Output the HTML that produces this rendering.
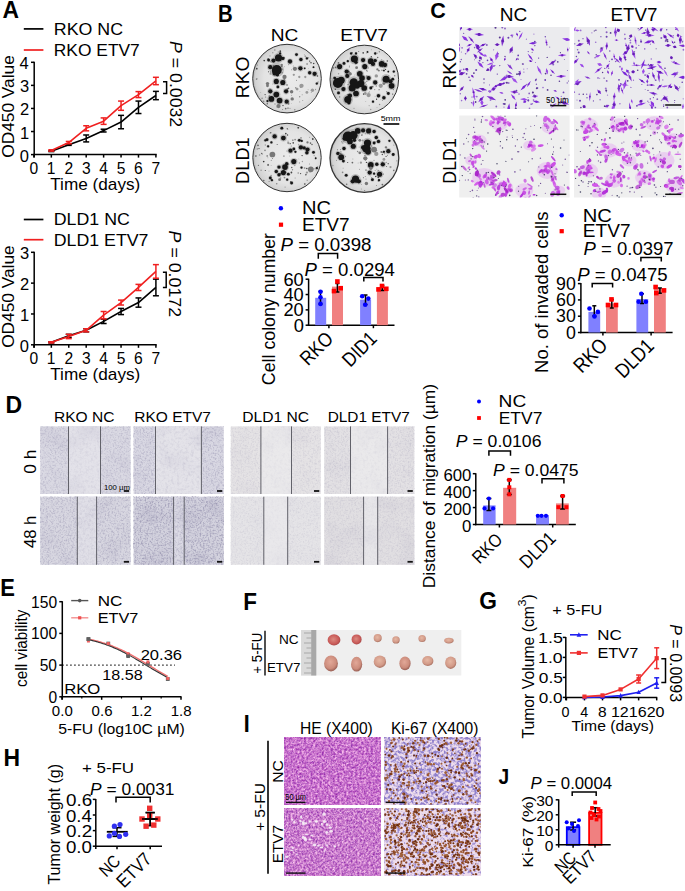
<!DOCTYPE html>
<html><head><meta charset="utf-8"><style>
html,body{margin:0;padding:0;background:#fff;}
svg{display:block;}
text{font-family:"Liberation Sans",sans-serif;}
</style></head><body>
<svg width="685" height="891" viewBox="0 0 685 891" font-family="Liberation Sans, sans-serif">
<defs><filter id="spk" x="0" y="0" width="1" height="1" color-interpolation-filters="sRGB"><feTurbulence type="fractalNoise" baseFrequency="0.6" numOctaves="2" seed="3"/><feColorMatrix type="matrix" values="0 0 0 0 0.431 0 0 0 0 0.412 0 0 0 0 0.569 -3.0 0 0 0 1.6"/></filter><filter id="spk2" x="0" y="0" width="1" height="1" color-interpolation-filters="sRGB"><feTurbulence type="fractalNoise" baseFrequency="0.35" numOctaves="2" seed="7"/><feColorMatrix type="matrix" values="0 0 0 0 0.471 0 0 0 0 0.451 0 0 0 0 0.588 0 -2.2 0 0 1.15"/></filter><filter id="blot" x="0" y="0" width="1" height="1" color-interpolation-filters="sRGB"><feTurbulence type="fractalNoise" baseFrequency="0.04" numOctaves="2" seed="11"/><feColorMatrix type="matrix" values="0 0 0 0 0.588 0 0 0 0 0.569 0 0 0 0 0.686 0 0 -2.0 0 1.05"/></filter><radialGradient id="plateg" cx="0.55" cy="0.5" r="0.55"><stop offset="0" stop-color="#ebebeb"/><stop offset="0.7" stop-color="#e3e3e3"/><stop offset="0.93" stop-color="#d2d2d2"/><stop offset="1" stop-color="#b0b0b0"/></radialGradient><filter id="blur06" x="-0.5" y="-0.5" width="2" height="2"><feGaussianBlur stdDeviation="0.45"/></filter><radialGradient id="tumR" cx="0.45" cy="0.45" r="0.6"><stop offset="0" stop-color="#dc8a80"/><stop offset="0.7" stop-color="#c85a58"/><stop offset="1" stop-color="#a04444"/></radialGradient><radialGradient id="tumT" cx="0.45" cy="0.4" r="0.6"><stop offset="0" stop-color="#e6b8a4"/><stop offset="0.7" stop-color="#d29a88"/><stop offset="1" stop-color="#a87060"/></radialGradient><radialGradient id="tumM" cx="0.45" cy="0.4" r="0.6"><stop offset="0" stop-color="#e2a898"/><stop offset="0.7" stop-color="#cc8c7c"/><stop offset="1" stop-color="#985e54"/></radialGradient><filter id="he" x="0" y="0" width="1" height="1" color-interpolation-filters="sRGB">
<feTurbulence type="fractalNoise" baseFrequency="0.45" numOctaves="2" seed="4" result="n"/>
<feColorMatrix in="n" type="matrix" values="0.6 0 0 0 0.50  0.9 0 0 0 0.02  0.4 0 0 0 0.61  0 0 0 0 1" result="base"/>
<feTurbulence type="fractalNoise" baseFrequency="0.8" numOctaves="1" seed="54" result="n2"/>
<feColorMatrix in="n2" type="matrix" values="0 0 0 0 0.50  0 0 0 0 0.22  0 0 0 0 0.68  3.3 0 0 0 -1.9" result="nuc"/>
<feMerge><feMergeNode in="base"/><feMergeNode in="nuc"/></feMerge>
</filter><filter id="he2" x="0" y="0" width="1" height="1" color-interpolation-filters="sRGB">
<feTurbulence type="fractalNoise" baseFrequency="0.45" numOctaves="2" seed="9" result="n"/>
<feColorMatrix in="n" type="matrix" values="0.6 0 0 0 0.50  0.9 0 0 0 0.05  0.4 0 0 0 0.61  0 0 0 0 1" result="base"/>
<feTurbulence type="fractalNoise" baseFrequency="0.8" numOctaves="1" seed="59" result="n2"/>
<feColorMatrix in="n2" type="matrix" values="0 0 0 0 0.50  0 0 0 0 0.22  0 0 0 0 0.68  3.3 0 0 0 -1.9" result="nuc"/>
<feMerge><feMergeNode in="base"/><feMergeNode in="nuc"/></feMerge>
</filter><filter id="kib1" x="0" y="0" width="1" height="1" color-interpolation-filters="sRGB">
<feFlood flood-color="#eddcec" result="bg"/>
<feTurbulence type="fractalNoise" baseFrequency="0.35" numOctaves="2" seed="31" result="n"/>
<feColorMatrix in="n" type="matrix" values="0 0 0 0 0.56 0 0 0 0 0.50 0 0 0 0 0.80 4 0 0 0 -1.62" result="blue"/>
<feMerge><feMergeNode in="bg"/><feMergeNode in="blue"/></feMerge>
</filter><filter id="kib2" x="0" y="0" width="1" height="1" color-interpolation-filters="sRGB">
<feFlood flood-color="#eddcec" result="bg"/>
<feTurbulence type="fractalNoise" baseFrequency="0.35" numOctaves="2" seed="31" result="n"/>
<feColorMatrix in="n" type="matrix" values="0 0 0 0 0.60 0 0 0 0 0.54 0 0 0 0 0.82 4 0 0 0 -1.95" result="blue"/>
<feMerge><feMergeNode in="bg"/><feMergeNode in="blue"/></feMerge>
</filter></defs>
<rect width="685" height="891" fill="#fff"/>
<rect x="40.20" y="426.40" width="90.40" height="67.60" fill="#dad9e3"/>
<rect x="68.50" y="426.40" width="32.00" height="67.60" fill="#e3e2e9"/>
<rect x="40.20" y="426.40" width="90.40" height="67.60" fill="#fff" filter="url(#blot)" opacity="0.15"/>
<rect x="40.20" y="426.40" width="28.30" height="67.60" fill="#fff" filter="url(#spk)" opacity="0.22"/>
<rect x="100.50" y="426.40" width="30.10" height="67.60" fill="#fff" filter="url(#spk)" opacity="0.22"/>
<rect x="40.20" y="426.40" width="90.40" height="67.60" fill="#fff" filter="url(#spk2)" opacity="0.132"/>
<rect x="68.50" y="426.40" width="32.00" height="67.60" fill="#fff" filter="url(#spk)" opacity="0.04"/>
<line x1="68.50" y1="426.40" x2="68.50" y2="494.00" stroke="#62626a" stroke-width="1.0" stroke-linecap="butt"/>
<line x1="100.50" y1="426.40" x2="100.50" y2="494.00" stroke="#62626a" stroke-width="1.0" stroke-linecap="butt"/>
<rect x="133.60" y="426.40" width="90.20" height="67.60" fill="#d9d8e3"/>
<rect x="155.50" y="426.40" width="45.90" height="67.60" fill="#e4e3e9"/>
<rect x="133.60" y="426.40" width="90.20" height="67.60" fill="#fff" filter="url(#blot)" opacity="0.15"/>
<rect x="133.60" y="426.40" width="21.90" height="67.60" fill="#fff" filter="url(#spk)" opacity="0.28"/>
<rect x="201.40" y="426.40" width="22.40" height="67.60" fill="#fff" filter="url(#spk)" opacity="0.28"/>
<rect x="133.60" y="426.40" width="90.20" height="67.60" fill="#fff" filter="url(#spk2)" opacity="0.168"/>
<rect x="155.50" y="426.40" width="45.90" height="67.60" fill="#fff" filter="url(#spk)" opacity="0.04"/>
<line x1="155.50" y1="426.40" x2="155.50" y2="494.00" stroke="#62626a" stroke-width="1.0" stroke-linecap="butt"/>
<line x1="201.40" y1="426.40" x2="201.40" y2="494.00" stroke="#62626a" stroke-width="1.0" stroke-linecap="butt"/>
<rect x="230.80" y="426.40" width="90.00" height="67.60" fill="#e5e3e5"/>
<rect x="260.90" y="426.40" width="30.60" height="67.60" fill="#eae9eb"/>
<rect x="230.80" y="426.40" width="90.00" height="67.60" fill="#fff" filter="url(#blot)" opacity="0.1"/>
<rect x="230.80" y="426.40" width="30.10" height="67.60" fill="#fff" filter="url(#spk)" opacity="0.12"/>
<rect x="291.50" y="426.40" width="29.30" height="67.60" fill="#fff" filter="url(#spk)" opacity="0.12"/>
<rect x="230.80" y="426.40" width="90.00" height="67.60" fill="#fff" filter="url(#spk2)" opacity="0.072"/>
<rect x="260.90" y="426.40" width="30.60" height="67.60" fill="#fff" filter="url(#spk)" opacity="0.02"/>
<line x1="260.90" y1="426.40" x2="260.90" y2="494.00" stroke="#62626a" stroke-width="1.0" stroke-linecap="butt"/>
<line x1="291.50" y1="426.40" x2="291.50" y2="494.00" stroke="#62626a" stroke-width="1.0" stroke-linecap="butt"/>
<rect x="324.20" y="426.40" width="90.10" height="67.60" fill="#e3e1e4"/>
<rect x="350.50" y="426.40" width="37.10" height="67.60" fill="#eae9eb"/>
<rect x="324.20" y="426.40" width="90.10" height="67.60" fill="#fff" filter="url(#blot)" opacity="0.12"/>
<rect x="324.20" y="426.40" width="26.30" height="67.60" fill="#fff" filter="url(#spk)" opacity="0.14"/>
<rect x="387.60" y="426.40" width="26.70" height="67.60" fill="#fff" filter="url(#spk)" opacity="0.14"/>
<rect x="324.20" y="426.40" width="90.10" height="67.60" fill="#fff" filter="url(#spk2)" opacity="0.084"/>
<rect x="350.50" y="426.40" width="37.10" height="67.60" fill="#fff" filter="url(#spk)" opacity="0.02"/>
<line x1="350.50" y1="426.40" x2="350.50" y2="494.00" stroke="#62626a" stroke-width="1.0" stroke-linecap="butt"/>
<line x1="387.60" y1="426.40" x2="387.60" y2="494.00" stroke="#62626a" stroke-width="1.0" stroke-linecap="butt"/>
<rect x="40.20" y="496.70" width="90.40" height="68.10" fill="#d8d7e1"/>
<rect x="77.30" y="496.70" width="19.30" height="68.10" fill="#e0dfe7"/>
<rect x="40.20" y="496.70" width="90.40" height="68.10" fill="#fff" filter="url(#blot)" opacity="0.2"/>
<rect x="40.20" y="496.70" width="37.10" height="68.10" fill="#fff" filter="url(#spk)" opacity="0.28"/>
<rect x="96.60" y="496.70" width="34.00" height="68.10" fill="#fff" filter="url(#spk)" opacity="0.28"/>
<rect x="40.20" y="496.70" width="90.40" height="68.10" fill="#fff" filter="url(#spk2)" opacity="0.168"/>
<rect x="77.30" y="496.70" width="19.30" height="68.10" fill="#fff" filter="url(#spk)" opacity="0.08"/>
<line x1="77.30" y1="496.70" x2="77.30" y2="564.80" stroke="#62626a" stroke-width="1.0" stroke-linecap="butt"/>
<line x1="96.60" y1="496.70" x2="96.60" y2="564.80" stroke="#62626a" stroke-width="1.0" stroke-linecap="butt"/>
<rect x="133.60" y="496.70" width="90.20" height="68.10" fill="#d3d2de"/>
<rect x="173.60" y="496.70" width="10.60" height="68.10" fill="#dcdbe5"/>
<rect x="133.60" y="496.70" width="90.20" height="68.10" fill="#fff" filter="url(#blot)" opacity="0.25"/>
<rect x="133.60" y="496.70" width="40.00" height="68.10" fill="#fff" filter="url(#spk)" opacity="0.42"/>
<rect x="184.20" y="496.70" width="39.60" height="68.10" fill="#fff" filter="url(#spk)" opacity="0.42"/>
<rect x="133.60" y="496.70" width="90.20" height="68.10" fill="#fff" filter="url(#spk2)" opacity="0.252"/>
<rect x="173.60" y="496.70" width="10.60" height="68.10" fill="#fff" filter="url(#spk)" opacity="0.25"/>
<line x1="173.60" y1="496.70" x2="173.60" y2="564.80" stroke="#62626a" stroke-width="1.0" stroke-linecap="butt"/>
<line x1="184.20" y1="496.70" x2="184.20" y2="564.80" stroke="#62626a" stroke-width="1.0" stroke-linecap="butt"/>
<rect x="230.80" y="496.70" width="90.00" height="68.10" fill="#e5e4e7"/>
<rect x="263.80" y="496.70" width="23.90" height="68.10" fill="#e9e8eb"/>
<rect x="230.80" y="496.70" width="90.00" height="68.10" fill="#fff" filter="url(#blot)" opacity="0.06"/>
<rect x="230.80" y="496.70" width="33.00" height="68.10" fill="#fff" filter="url(#spk)" opacity="0.1"/>
<rect x="287.70" y="496.70" width="33.10" height="68.10" fill="#fff" filter="url(#spk)" opacity="0.1"/>
<rect x="230.80" y="496.70" width="90.00" height="68.10" fill="#fff" filter="url(#spk2)" opacity="0.06"/>
<rect x="263.80" y="496.70" width="23.90" height="68.10" fill="#fff" filter="url(#spk)" opacity="0.02"/>
<line x1="263.80" y1="496.70" x2="263.80" y2="564.80" stroke="#62626a" stroke-width="1.0" stroke-linecap="butt"/>
<line x1="287.70" y1="496.70" x2="287.70" y2="564.80" stroke="#62626a" stroke-width="1.0" stroke-linecap="butt"/>
<rect x="324.20" y="496.70" width="90.10" height="68.10" fill="#e1dfe2"/>
<rect x="363.60" y="496.70" width="14.10" height="68.10" fill="#e7e6e9"/>
<rect x="324.20" y="496.70" width="90.10" height="68.10" fill="#fff" filter="url(#blot)" opacity="0.15"/>
<rect x="324.20" y="496.70" width="39.40" height="68.10" fill="#fff" filter="url(#spk)" opacity="0.12"/>
<rect x="377.70" y="496.70" width="36.60" height="68.10" fill="#fff" filter="url(#spk)" opacity="0.12"/>
<rect x="324.20" y="496.70" width="90.10" height="68.10" fill="#fff" filter="url(#spk2)" opacity="0.072"/>
<rect x="363.60" y="496.70" width="14.10" height="68.10" fill="#fff" filter="url(#spk)" opacity="0.04"/>
<line x1="363.60" y1="496.70" x2="363.60" y2="564.80" stroke="#62626a" stroke-width="1.0" stroke-linecap="butt"/>
<line x1="377.70" y1="496.70" x2="377.70" y2="564.80" stroke="#62626a" stroke-width="1.0" stroke-linecap="butt"/>
<text transform="translate(104.60,489.50) translate(-0.62,0) scale(0.974,1.000)" font-size="8.00">100 µm</text>
<line x1="123.80" y1="491.00" x2="129.10" y2="491.00" stroke="#111" stroke-width="1.8" stroke-linecap="butt"/>
<line x1="123.80" y1="561.80" x2="129.10" y2="561.80" stroke="#111" stroke-width="1.8" stroke-linecap="butt"/>
<line x1="217.00" y1="491.00" x2="222.30" y2="491.00" stroke="#111" stroke-width="1.8" stroke-linecap="butt"/>
<line x1="217.00" y1="561.80" x2="222.30" y2="561.80" stroke="#111" stroke-width="1.8" stroke-linecap="butt"/>
<line x1="314.00" y1="491.00" x2="319.30" y2="491.00" stroke="#111" stroke-width="1.8" stroke-linecap="butt"/>
<line x1="314.00" y1="561.80" x2="319.30" y2="561.80" stroke="#111" stroke-width="1.8" stroke-linecap="butt"/>
<line x1="407.50" y1="491.00" x2="412.80" y2="491.00" stroke="#111" stroke-width="1.8" stroke-linecap="butt"/>
<line x1="407.50" y1="561.80" x2="412.80" y2="561.80" stroke="#111" stroke-width="1.8" stroke-linecap="butt"/>
<circle cx="287.00" cy="78.60" r="34.30" fill="url(#plateg)" stroke="#333" stroke-width="1.0"/>
<g filter="url(#blur06)"><g fill="#909090" opacity="0.5"><circle cx="276.8" cy="69.9" r="7.22"/><circle cx="278.5" cy="57.9" r="5.16"/><circle cx="273.5" cy="60.6" r="3.10"/><circle cx="270.3" cy="67.2" r="3.10"/><circle cx="268.6" cy="60.1" r="2.06"/><circle cx="282.8" cy="58.4" r="2.48"/><circle cx="280.1" cy="53.5" r="1.65"/><circle cx="290.0" cy="61.5" r="3.10"/><circle cx="296.5" cy="54.6" r="2.06"/><circle cx="300.9" cy="59.5" r="2.48"/><circle cx="306.9" cy="58.4" r="1.65"/><circle cx="300.4" cy="68.3" r="3.10"/><circle cx="309.7" cy="72.7" r="2.48"/><circle cx="314.6" cy="73.8" r="3.10"/><circle cx="276.3" cy="81.4" r="3.72"/><circle cx="282.8" cy="82.5" r="3.72"/><circle cx="277.9" cy="86.9" r="2.06"/><circle cx="270.3" cy="91.3" r="3.10"/><circle cx="276.3" cy="94.6" r="4.13"/><circle cx="286.1" cy="91.3" r="3.10"/><circle cx="271.4" cy="98.9" r="4.13"/><circle cx="279.6" cy="100.6" r="4.13"/><circle cx="286.7" cy="101.7" r="3.10"/><circle cx="267.5" cy="101.1" r="1.65"/><circle cx="316.8" cy="83.6" r="1.65"/><circle cx="275.2" cy="72.7" r="4.13"/><circle cx="277.4" cy="74.8" r="2.48"/><circle cx="264.2" cy="60.6" r="1.03"/><circle cx="304.7" cy="68.3" r="1.24"/><circle cx="313.5" cy="67.2" r="1.24"/></g><circle cx="295.8" cy="87.8" r="0.60" fill="#444"/><circle cx="288.6" cy="88.2" r="0.69" fill="#444"/><circle cx="284.6" cy="80.2" r="0.86" fill="#999"/><circle cx="270.6" cy="72.0" r="0.82" fill="#999"/><circle cx="317.7" cy="82.8" r="0.77" fill="#888"/><circle cx="268.3" cy="58.9" r="0.90" fill="#666"/><circle cx="300.4" cy="87.5" r="0.57" fill="#888"/><circle cx="307.1" cy="64.1" r="0.86" fill="#999"/><circle cx="282.1" cy="72.7" r="0.52" fill="#444"/><circle cx="318.1" cy="81.6" r="0.53" fill="#999"/><circle cx="271.8" cy="62.3" r="0.48" fill="#888"/><circle cx="270.5" cy="61.6" r="0.89" fill="#999"/><circle cx="273.4" cy="67.8" r="0.55" fill="#888"/><circle cx="292.0" cy="92.7" r="0.35" fill="#666"/><circle cx="284.5" cy="57.6" r="0.62" fill="#666"/><circle cx="294.8" cy="109.8" r="0.68" fill="#888"/><circle cx="299.8" cy="101.9" r="0.47" fill="#444"/><circle cx="291.6" cy="95.2" r="0.53" fill="#999"/><circle cx="288.7" cy="103.9" r="0.70" fill="#444"/><circle cx="257.3" cy="65.1" r="0.64" fill="#888"/><circle cx="317.5" cy="76.1" r="0.77" fill="#444"/><circle cx="278.0" cy="92.4" r="0.52" fill="#999"/><circle cx="257.0" cy="78.3" r="0.40" fill="#666"/><circle cx="274.8" cy="50.0" r="0.75" fill="#888"/><circle cx="262.1" cy="98.3" r="0.79" fill="#888"/><circle cx="260.7" cy="92.3" r="0.39" fill="#888"/><circle cx="315.5" cy="89.5" r="0.63" fill="#999"/><circle cx="296.6" cy="80.3" r="0.48" fill="#444"/><circle cx="280.3" cy="51.2" r="0.87" fill="#444"/><circle cx="269.2" cy="96.0" r="0.69" fill="#666"/><circle cx="300.1" cy="86.6" r="0.45" fill="#444"/><circle cx="299.7" cy="96.7" r="0.70" fill="#888"/><circle cx="270.0" cy="88.8" r="0.83" fill="#999"/><circle cx="317.5" cy="82.9" r="0.69" fill="#999"/><circle cx="274.7" cy="76.0" r="0.36" fill="#999"/><circle cx="308.6" cy="68.5" r="0.36" fill="#888"/><circle cx="308.4" cy="57.7" r="0.82" fill="#999"/><circle cx="268.5" cy="71.7" r="0.57" fill="#444"/><circle cx="313.7" cy="63.6" r="0.77" fill="#444"/><circle cx="282.6" cy="109.5" r="0.53" fill="#888"/><circle cx="285.7" cy="108.6" r="0.85" fill="#666"/><circle cx="284.5" cy="101.1" r="0.42" fill="#999"/><circle cx="267.0" cy="100.2" r="0.41" fill="#999"/><circle cx="305.7" cy="56.7" r="0.56" fill="#666"/><circle cx="278.2" cy="51.9" r="0.55" fill="#888"/><circle cx="311.2" cy="92.4" r="0.46" fill="#666"/><circle cx="275.1" cy="95.7" r="0.60" fill="#999"/><circle cx="275.0" cy="94.8" r="0.72" fill="#999"/><circle cx="281.0" cy="81.5" r="0.56" fill="#999"/><circle cx="256.6" cy="79.1" r="0.84" fill="#888"/><circle cx="273.4" cy="65.8" r="0.86" fill="#666"/><circle cx="280.9" cy="101.3" r="0.47" fill="#888"/><circle cx="267.3" cy="103.7" r="0.79" fill="#666"/><circle cx="270.3" cy="73.9" r="0.83" fill="#999"/><circle cx="265.1" cy="94.6" r="0.64" fill="#444"/><circle cx="287.0" cy="85.0" r="0.70" fill="#444"/><circle cx="281.8" cy="66.4" r="0.77" fill="#666"/><circle cx="269.1" cy="61.6" r="0.40" fill="#666"/><circle cx="282.1" cy="58.2" r="0.89" fill="#999"/><circle cx="281.8" cy="84.5" r="0.59" fill="#888"/><circle cx="284.6" cy="66.7" r="0.45" fill="#999"/><circle cx="283.0" cy="105.5" r="0.80" fill="#666"/><circle cx="308.1" cy="89.8" r="0.46" fill="#999"/><circle cx="299.9" cy="91.6" r="0.40" fill="#888"/><circle cx="302.8" cy="100.6" r="0.42" fill="#444"/><circle cx="311.0" cy="62.8" r="0.79" fill="#444"/><circle cx="287.3" cy="89.0" r="0.77" fill="#444"/><circle cx="291.7" cy="69.7" r="0.51" fill="#888"/><circle cx="291.3" cy="103.6" r="0.38" fill="#999"/><circle cx="272.4" cy="84.0" r="0.43" fill="#888"/><circle cx="276.6" cy="107.0" r="0.37" fill="#666"/><circle cx="293.3" cy="66.0" r="0.52" fill="#999"/><circle cx="275.0" cy="103.9" r="0.77" fill="#999"/><circle cx="284.1" cy="79.8" r="0.53" fill="#444"/><circle cx="282.5" cy="69.2" r="0.78" fill="#888"/><circle cx="302.2" cy="94.7" r="0.55" fill="#999"/><circle cx="304.3" cy="54.7" r="0.44" fill="#888"/><circle cx="265.7" cy="97.0" r="0.52" fill="#666"/><circle cx="256.8" cy="68.7" r="0.86" fill="#444"/><circle cx="272.8" cy="52.7" r="0.70" fill="#999"/><circle cx="270.0" cy="55.9" r="0.54" fill="#888"/><circle cx="310.1" cy="62.7" r="0.42" fill="#888"/><circle cx="290.0" cy="108.4" r="0.54" fill="#999"/><circle cx="273.3" cy="73.3" r="0.46" fill="#888"/><circle cx="288.0" cy="108.2" r="0.88" fill="#999"/><circle cx="305.2" cy="56.2" r="0.83" fill="#999"/><circle cx="263.5" cy="101.5" r="0.90" fill="#888"/><circle cx="307.1" cy="63.6" r="0.58" fill="#999"/><circle cx="309.7" cy="61.1" r="0.68" fill="#444"/><circle cx="288.5" cy="64.7" r="0.46" fill="#666"/><circle cx="276.8" cy="69.9" r="4.98" fill="#151515"/><circle cx="278.5" cy="57.9" r="3.56" fill="#151515"/><circle cx="273.5" cy="60.6" r="2.14" fill="#151515"/><circle cx="270.3" cy="67.2" r="2.14" fill="#151515"/><circle cx="268.6" cy="60.1" r="1.42" fill="#151515"/><circle cx="282.8" cy="58.4" r="1.71" fill="#151515"/><circle cx="280.1" cy="53.5" r="1.14" fill="#151515"/><circle cx="290.0" cy="61.5" r="2.14" fill="#151515"/><circle cx="296.5" cy="54.6" r="1.42" fill="#151515"/><circle cx="300.9" cy="59.5" r="1.71" fill="#151515"/><circle cx="306.9" cy="58.4" r="1.14" fill="#151515"/><circle cx="300.4" cy="68.3" r="2.14" fill="#151515"/><circle cx="294.9" cy="68.8" r="2.14" fill="#777"/><circle cx="309.7" cy="72.7" r="1.71" fill="#151515"/><circle cx="314.6" cy="73.8" r="2.14" fill="#151515"/><circle cx="284.5" cy="77.0" r="2.14" fill="#777"/><circle cx="276.3" cy="81.4" r="2.56" fill="#151515"/><circle cx="282.8" cy="82.5" r="2.56" fill="#151515"/><circle cx="277.9" cy="86.9" r="1.42" fill="#151515"/><circle cx="270.3" cy="91.3" r="2.14" fill="#151515"/><circle cx="276.3" cy="94.6" r="2.85" fill="#151515"/><circle cx="286.1" cy="91.3" r="2.14" fill="#151515"/><circle cx="271.4" cy="98.9" r="2.85" fill="#151515"/><circle cx="279.6" cy="100.6" r="2.85" fill="#151515"/><circle cx="286.7" cy="101.7" r="2.14" fill="#151515"/><circle cx="291.6" cy="91.8" r="1.71" fill="#777"/><circle cx="292.2" cy="98.9" r="1.71" fill="#777"/><circle cx="267.5" cy="83.6" r="1.71" fill="#777"/><circle cx="267.5" cy="85.8" r="1.42" fill="#777"/><circle cx="278.5" cy="106.1" r="2.14" fill="#777"/><circle cx="267.5" cy="101.1" r="1.14" fill="#151515"/><circle cx="301.5" cy="85.8" r="2.14" fill="#999"/><circle cx="297.1" cy="89.1" r="1.42" fill="#999"/><circle cx="305.3" cy="77.0" r="1.14" fill="#999"/><circle cx="299.3" cy="77.0" r="1.14" fill="#999"/><circle cx="312.4" cy="90.2" r="1.71" fill="#999"/><circle cx="316.8" cy="83.6" r="1.14" fill="#151515"/><circle cx="275.2" cy="72.7" r="2.85" fill="#151515"/><circle cx="277.4" cy="74.8" r="1.71" fill="#151515"/><circle cx="281.8" cy="65.0" r="1.14" fill="#777"/><circle cx="264.2" cy="60.6" r="0.71" fill="#151515"/><circle cx="293.8" cy="74.8" r="1.14" fill="#999"/><circle cx="306.9" cy="92.4" r="1.42" fill="#999"/><circle cx="304.7" cy="68.3" r="0.85" fill="#151515"/><circle cx="313.5" cy="67.2" r="0.85" fill="#151515"/></g>
<circle cx="364.30" cy="79.50" r="34.30" fill="url(#plateg)" stroke="#333" stroke-width="1.0"/>
<g filter="url(#blur06)"><g fill="#909090" opacity="0.5"><circle cx="354.4" cy="59.0" r="5.16"/><circle cx="356.0" cy="62.3" r="2.48"/><circle cx="363.1" cy="60.1" r="3.10"/><circle cx="364.8" cy="66.6" r="3.72"/><circle cx="370.8" cy="61.2" r="4.13"/><circle cx="373.0" cy="63.9" r="3.10"/><circle cx="375.2" cy="60.6" r="2.48"/><circle cx="381.7" cy="63.9" r="4.13"/><circle cx="385.0" cy="65.0" r="3.10"/><circle cx="339.6" cy="66.6" r="3.72"/><circle cx="344.0" cy="63.4" r="2.06"/><circle cx="347.8" cy="61.2" r="1.65"/><circle cx="346.7" cy="71.6" r="3.10"/><circle cx="347.3" cy="75.9" r="3.10"/><circle cx="351.1" cy="53.5" r="1.65"/><circle cx="356.0" cy="53.5" r="1.65"/><circle cx="367.5" cy="51.9" r="1.24"/><circle cx="375.2" cy="53.5" r="1.65"/><circle cx="337.9" cy="83.1" r="7.22"/><circle cx="341.2" cy="80.3" r="5.16"/><circle cx="343.4" cy="89.1" r="3.10"/><circle cx="338.5" cy="92.9" r="2.06"/><circle cx="353.8" cy="82.5" r="6.19"/><circle cx="352.2" cy="88.0" r="5.16"/><circle cx="357.1" cy="85.8" r="4.13"/><circle cx="359.8" cy="73.8" r="4.13"/><circle cx="362.0" cy="78.1" r="4.13"/><circle cx="360.9" cy="83.6" r="5.16"/><circle cx="364.2" cy="88.0" r="4.13"/><circle cx="368.6" cy="78.1" r="3.10"/><circle cx="370.8" cy="88.0" r="2.06"/><circle cx="356.0" cy="93.5" r="4.13"/><circle cx="350.0" cy="95.7" r="3.10"/><circle cx="347.8" cy="99.5" r="5.16"/><circle cx="348.9" cy="102.8" r="2.48"/><circle cx="375.2" cy="82.5" r="3.10"/><circle cx="378.5" cy="95.7" r="2.48"/><circle cx="383.9" cy="97.8" r="2.48"/><circle cx="386.1" cy="79.2" r="5.16"/><circle cx="390.5" cy="81.4" r="3.10"/><circle cx="391.6" cy="85.8" r="4.13"/><circle cx="392.7" cy="79.2" r="2.06"/><circle cx="388.3" cy="93.5" r="2.06"/><circle cx="373.0" cy="101.7" r="1.65"/><circle cx="393.8" cy="71.6" r="1.65"/><circle cx="388.3" cy="71.6" r="1.24"/><circle cx="383.9" cy="70.5" r="1.24"/><circle cx="334.7" cy="78.1" r="2.06"/></g><circle cx="385.5" cy="69.4" r="0.66" fill="#444"/><circle cx="365.8" cy="101.6" r="0.39" fill="#888"/><circle cx="333.5" cy="67.9" r="0.68" fill="#666"/><circle cx="347.6" cy="94.9" r="0.88" fill="#666"/><circle cx="368.2" cy="62.8" r="0.37" fill="#444"/><circle cx="347.8" cy="84.7" r="0.47" fill="#444"/><circle cx="366.3" cy="53.3" r="0.45" fill="#999"/><circle cx="371.3" cy="56.7" r="0.73" fill="#444"/><circle cx="349.4" cy="65.9" r="0.51" fill="#888"/><circle cx="379.1" cy="89.7" r="0.59" fill="#666"/><circle cx="351.4" cy="88.4" r="0.82" fill="#999"/><circle cx="353.6" cy="90.1" r="0.57" fill="#666"/><circle cx="363.7" cy="94.1" r="0.80" fill="#444"/><circle cx="349.3" cy="67.0" r="0.44" fill="#666"/><circle cx="374.9" cy="59.9" r="0.78" fill="#444"/><circle cx="367.6" cy="71.7" r="0.36" fill="#666"/><circle cx="377.0" cy="107.4" r="0.37" fill="#888"/><circle cx="338.5" cy="80.3" r="0.42" fill="#888"/><circle cx="375.1" cy="96.2" r="0.39" fill="#666"/><circle cx="387.3" cy="61.0" r="0.71" fill="#444"/><circle cx="380.9" cy="99.4" r="0.39" fill="#999"/><circle cx="381.6" cy="59.9" r="0.70" fill="#999"/><circle cx="355.7" cy="83.1" r="0.49" fill="#888"/><circle cx="379.4" cy="51.7" r="0.76" fill="#888"/><circle cx="338.6" cy="65.4" r="0.47" fill="#666"/><circle cx="353.4" cy="90.1" r="0.67" fill="#888"/><circle cx="366.3" cy="84.2" r="0.41" fill="#666"/><circle cx="358.7" cy="51.6" r="0.52" fill="#666"/><circle cx="365.0" cy="76.9" r="0.51" fill="#999"/><circle cx="379.7" cy="86.3" r="0.56" fill="#666"/><circle cx="376.8" cy="98.5" r="0.46" fill="#666"/><circle cx="374.7" cy="89.6" r="0.70" fill="#999"/><circle cx="331.9" cy="78.3" r="0.39" fill="#888"/><circle cx="379.6" cy="104.6" r="0.73" fill="#888"/><circle cx="354.9" cy="75.0" r="0.44" fill="#888"/><circle cx="378.9" cy="70.6" r="0.85" fill="#666"/><circle cx="335.3" cy="89.3" r="0.72" fill="#444"/><circle cx="355.7" cy="64.4" r="0.36" fill="#888"/><circle cx="356.9" cy="81.9" r="0.62" fill="#888"/><circle cx="382.7" cy="66.8" r="0.58" fill="#666"/><circle cx="375.2" cy="53.6" r="0.35" fill="#999"/><circle cx="336.3" cy="85.0" r="0.66" fill="#666"/><circle cx="388.7" cy="75.4" r="0.44" fill="#666"/><circle cx="371.3" cy="49.8" r="0.40" fill="#666"/><circle cx="370.7" cy="109.4" r="0.73" fill="#999"/><circle cx="365.5" cy="82.4" r="0.36" fill="#666"/><circle cx="382.3" cy="100.2" r="0.45" fill="#444"/><circle cx="366.8" cy="81.5" r="0.69" fill="#888"/><circle cx="363.2" cy="83.4" r="0.58" fill="#999"/><circle cx="351.1" cy="74.1" r="0.64" fill="#888"/><circle cx="376.6" cy="99.4" r="0.58" fill="#444"/><circle cx="349.1" cy="72.0" r="0.78" fill="#444"/><circle cx="335.6" cy="67.4" r="0.87" fill="#666"/><circle cx="338.6" cy="73.8" r="0.71" fill="#999"/><circle cx="369.1" cy="105.7" r="0.47" fill="#666"/><circle cx="361.5" cy="76.3" r="0.45" fill="#666"/><circle cx="376.2" cy="86.1" r="0.50" fill="#444"/><circle cx="338.5" cy="62.8" r="0.89" fill="#666"/><circle cx="393.5" cy="89.8" r="0.48" fill="#444"/><circle cx="333.2" cy="83.9" r="0.55" fill="#999"/><circle cx="388.8" cy="81.0" r="0.51" fill="#666"/><circle cx="341.5" cy="67.5" r="0.52" fill="#999"/><circle cx="348.7" cy="84.3" r="0.65" fill="#888"/><circle cx="392.7" cy="94.1" r="0.57" fill="#444"/><circle cx="369.4" cy="91.9" r="0.58" fill="#999"/><circle cx="377.1" cy="53.3" r="0.74" fill="#999"/><circle cx="349.4" cy="88.8" r="0.51" fill="#888"/><circle cx="354.0" cy="108.2" r="0.49" fill="#666"/><circle cx="387.9" cy="82.7" r="0.70" fill="#999"/><circle cx="387.2" cy="78.6" r="0.74" fill="#444"/><circle cx="368.1" cy="92.3" r="0.40" fill="#444"/><circle cx="381.9" cy="70.2" r="0.72" fill="#888"/><circle cx="366.8" cy="70.7" r="0.65" fill="#666"/><circle cx="352.3" cy="52.8" r="0.58" fill="#444"/><circle cx="371.6" cy="86.4" r="0.76" fill="#888"/><circle cx="368.4" cy="67.9" r="0.65" fill="#999"/><circle cx="366.8" cy="76.2" r="0.86" fill="#888"/><circle cx="346.1" cy="78.4" r="0.40" fill="#999"/><circle cx="382.7" cy="65.4" r="0.51" fill="#999"/><circle cx="386.7" cy="91.8" r="0.70" fill="#888"/><circle cx="377.7" cy="57.4" r="0.74" fill="#666"/><circle cx="334.5" cy="82.2" r="0.58" fill="#666"/><circle cx="372.7" cy="86.7" r="0.84" fill="#666"/><circle cx="383.9" cy="61.0" r="0.38" fill="#444"/><circle cx="347.2" cy="101.7" r="0.55" fill="#999"/><circle cx="394.7" cy="75.7" r="0.76" fill="#888"/><circle cx="384.1" cy="68.0" r="0.52" fill="#666"/><circle cx="368.9" cy="63.0" r="0.71" fill="#666"/><circle cx="339.7" cy="96.9" r="0.61" fill="#666"/><circle cx="363.2" cy="52.9" r="0.83" fill="#444"/><circle cx="354.4" cy="59.0" r="3.56" fill="#151515"/><circle cx="356.0" cy="62.3" r="1.71" fill="#151515"/><circle cx="363.1" cy="60.1" r="2.14" fill="#151515"/><circle cx="364.8" cy="66.6" r="2.56" fill="#151515"/><circle cx="370.8" cy="61.2" r="2.85" fill="#151515"/><circle cx="373.0" cy="63.9" r="2.14" fill="#151515"/><circle cx="375.2" cy="60.6" r="1.71" fill="#151515"/><circle cx="381.7" cy="63.9" r="2.85" fill="#151515"/><circle cx="385.0" cy="65.0" r="2.14" fill="#151515"/><circle cx="339.6" cy="66.6" r="2.56" fill="#151515"/><circle cx="344.0" cy="63.4" r="1.42" fill="#151515"/><circle cx="347.8" cy="61.2" r="1.14" fill="#151515"/><circle cx="346.7" cy="71.6" r="2.14" fill="#151515"/><circle cx="347.3" cy="75.9" r="2.14" fill="#151515"/><circle cx="351.1" cy="53.5" r="1.14" fill="#151515"/><circle cx="356.0" cy="53.5" r="1.14" fill="#151515"/><circle cx="367.5" cy="51.9" r="0.85" fill="#151515"/><circle cx="375.2" cy="53.5" r="1.14" fill="#151515"/><circle cx="337.9" cy="83.1" r="4.98" fill="#151515"/><circle cx="341.2" cy="80.3" r="3.56" fill="#151515"/><circle cx="343.4" cy="89.1" r="2.14" fill="#151515"/><circle cx="338.5" cy="92.9" r="1.42" fill="#151515"/><circle cx="353.8" cy="82.5" r="4.27" fill="#151515"/><circle cx="352.2" cy="88.0" r="3.56" fill="#151515"/><circle cx="357.1" cy="85.8" r="2.85" fill="#151515"/><circle cx="359.8" cy="73.8" r="2.85" fill="#151515"/><circle cx="362.0" cy="78.1" r="2.85" fill="#151515"/><circle cx="360.9" cy="83.6" r="3.56" fill="#151515"/><circle cx="364.2" cy="88.0" r="2.85" fill="#151515"/><circle cx="368.6" cy="78.1" r="2.14" fill="#151515"/><circle cx="370.8" cy="88.0" r="1.42" fill="#151515"/><circle cx="356.0" cy="93.5" r="2.85" fill="#151515"/><circle cx="350.0" cy="95.7" r="2.14" fill="#151515"/><circle cx="347.8" cy="99.5" r="3.56" fill="#151515"/><circle cx="348.9" cy="102.8" r="1.71" fill="#151515"/><circle cx="375.2" cy="82.5" r="2.14" fill="#151515"/><circle cx="378.5" cy="95.7" r="1.71" fill="#151515"/><circle cx="383.9" cy="97.8" r="1.71" fill="#151515"/><circle cx="386.1" cy="79.2" r="3.56" fill="#151515"/><circle cx="390.5" cy="81.4" r="2.14" fill="#151515"/><circle cx="391.6" cy="85.8" r="2.85" fill="#151515"/><circle cx="392.7" cy="79.2" r="1.42" fill="#151515"/><circle cx="388.3" cy="93.5" r="1.42" fill="#151515"/><circle cx="373.0" cy="101.7" r="1.14" fill="#151515"/><circle cx="393.8" cy="71.6" r="1.14" fill="#151515"/><circle cx="388.3" cy="71.6" r="0.85" fill="#151515"/><circle cx="383.9" cy="70.5" r="0.85" fill="#151515"/><circle cx="356.6" cy="67.7" r="1.42" fill="#777"/><circle cx="368.6" cy="95.1" r="2.14" fill="#999"/><circle cx="376.3" cy="75.9" r="1.71" fill="#999"/><circle cx="380.7" cy="85.8" r="2.14" fill="#999"/><circle cx="383.9" cy="83.6" r="1.42" fill="#777"/><circle cx="365.3" cy="93.5" r="1.42" fill="#999"/><circle cx="350.0" cy="73.8" r="1.71" fill="#777"/><circle cx="334.7" cy="78.1" r="1.42" fill="#151515"/><circle cx="377.4" cy="69.4" r="1.14" fill="#777"/></g>
<circle cx="287.00" cy="157.50" r="34.20" fill="url(#plateg)" stroke="#333" stroke-width="1.0"/>
<g filter="url(#blur06)"><g fill="#909090" opacity="0.5"><circle cx="274.6" cy="136.4" r="3.10"/><circle cx="283.4" cy="138.1" r="3.51"/><circle cx="267.0" cy="139.7" r="2.06"/><circle cx="265.3" cy="140.3" r="1.65"/><circle cx="281.8" cy="128.2" r="2.06"/><circle cx="271.4" cy="142.4" r="1.65"/><circle cx="268.1" cy="146.3" r="1.65"/><circle cx="290.5" cy="150.7" r="3.10"/><circle cx="293.8" cy="149.0" r="2.06"/><circle cx="295.4" cy="151.8" r="1.65"/><circle cx="300.9" cy="147.4" r="3.10"/><circle cx="304.2" cy="147.9" r="2.48"/><circle cx="307.5" cy="149.6" r="3.10"/><circle cx="306.9" cy="152.8" r="2.48"/><circle cx="313.5" cy="152.3" r="2.06"/><circle cx="293.8" cy="161.6" r="3.72"/><circle cx="286.7" cy="163.8" r="2.48"/><circle cx="285.0" cy="167.1" r="4.13"/><circle cx="279.0" cy="167.1" r="2.48"/><circle cx="283.4" cy="172.6" r="3.72"/><circle cx="276.3" cy="171.5" r="2.48"/><circle cx="279.0" cy="174.7" r="2.48"/><circle cx="288.3" cy="174.2" r="2.06"/><circle cx="316.8" cy="168.2" r="1.65"/><circle cx="301.5" cy="167.6" r="1.65"/><circle cx="270.3" cy="178.0" r="2.06"/><circle cx="271.9" cy="180.2" r="1.65"/><circle cx="287.2" cy="179.7" r="1.65"/><circle cx="291.6" cy="183.0" r="2.06"/><circle cx="268.1" cy="164.9" r="1.03"/><circle cx="263.7" cy="161.6" r="1.03"/><circle cx="299.3" cy="140.3" r="2.06"/><circle cx="301.5" cy="140.8" r="1.65"/><circle cx="315.7" cy="158.3" r="1.24"/><circle cx="298.2" cy="127.7" r="1.03"/></g><circle cx="294.8" cy="165.6" r="0.69" fill="#888"/><circle cx="263.7" cy="180.5" r="0.71" fill="#666"/><circle cx="279.1" cy="126.7" r="0.47" fill="#999"/><circle cx="271.2" cy="160.2" r="0.43" fill="#444"/><circle cx="276.7" cy="183.7" r="0.81" fill="#888"/><circle cx="280.4" cy="173.7" r="0.70" fill="#444"/><circle cx="293.2" cy="142.9" r="0.79" fill="#444"/><circle cx="271.1" cy="175.7" r="0.86" fill="#999"/><circle cx="288.5" cy="164.3" r="0.87" fill="#888"/><circle cx="302.1" cy="155.6" r="0.70" fill="#444"/><circle cx="286.9" cy="151.0" r="0.58" fill="#888"/><circle cx="308.8" cy="168.6" r="0.45" fill="#999"/><circle cx="265.0" cy="150.3" r="0.85" fill="#888"/><circle cx="295.1" cy="177.9" r="0.48" fill="#666"/><circle cx="312.0" cy="144.5" r="0.63" fill="#444"/><circle cx="299.4" cy="162.9" r="0.74" fill="#999"/><circle cx="287.9" cy="129.7" r="0.40" fill="#666"/><circle cx="295.1" cy="139.6" r="0.88" fill="#888"/><circle cx="305.9" cy="174.6" r="0.87" fill="#666"/><circle cx="257.2" cy="148.9" r="0.55" fill="#666"/><circle cx="307.2" cy="180.2" r="0.71" fill="#999"/><circle cx="316.1" cy="170.5" r="0.48" fill="#999"/><circle cx="310.5" cy="143.1" r="0.85" fill="#666"/><circle cx="314.1" cy="155.8" r="0.49" fill="#444"/><circle cx="285.8" cy="133.6" r="0.85" fill="#444"/><circle cx="296.6" cy="159.8" r="0.64" fill="#999"/><circle cx="291.8" cy="167.5" r="0.64" fill="#444"/><circle cx="258.0" cy="145.3" r="0.90" fill="#666"/><circle cx="291.3" cy="146.0" r="0.62" fill="#888"/><circle cx="259.6" cy="155.1" r="0.77" fill="#999"/><circle cx="269.1" cy="181.4" r="0.54" fill="#888"/><circle cx="276.1" cy="136.7" r="0.86" fill="#888"/><circle cx="288.0" cy="141.1" r="0.60" fill="#999"/><circle cx="264.4" cy="180.4" r="0.45" fill="#888"/><circle cx="298.4" cy="144.2" r="0.50" fill="#888"/><circle cx="280.6" cy="178.0" r="0.78" fill="#999"/><circle cx="275.4" cy="136.0" r="0.54" fill="#666"/><circle cx="272.4" cy="158.5" r="0.47" fill="#444"/><circle cx="305.5" cy="175.0" r="0.43" fill="#888"/><circle cx="310.0" cy="172.5" r="0.37" fill="#444"/><circle cx="255.9" cy="156.1" r="0.73" fill="#444"/><circle cx="269.9" cy="133.1" r="0.48" fill="#888"/><circle cx="298.9" cy="158.9" r="0.37" fill="#888"/><circle cx="304.6" cy="168.0" r="0.85" fill="#888"/><circle cx="315.7" cy="157.4" r="0.53" fill="#666"/><circle cx="289.7" cy="156.0" r="0.47" fill="#999"/><circle cx="287.5" cy="134.9" r="0.73" fill="#444"/><circle cx="261.1" cy="170.3" r="0.76" fill="#999"/><circle cx="315.2" cy="169.2" r="0.36" fill="#999"/><circle cx="284.1" cy="136.8" r="0.68" fill="#999"/><circle cx="270.7" cy="132.8" r="0.82" fill="#666"/><circle cx="262.4" cy="154.3" r="0.37" fill="#666"/><circle cx="286.7" cy="172.7" r="0.49" fill="#666"/><circle cx="302.7" cy="147.2" r="0.81" fill="#666"/><circle cx="302.3" cy="141.1" r="0.88" fill="#666"/><circle cx="316.9" cy="167.9" r="0.66" fill="#444"/><circle cx="282.2" cy="174.4" r="0.55" fill="#666"/><circle cx="287.3" cy="128.8" r="0.72" fill="#666"/><circle cx="314.0" cy="168.8" r="0.69" fill="#999"/><circle cx="290.6" cy="181.8" r="0.67" fill="#444"/><circle cx="302.4" cy="161.5" r="0.69" fill="#999"/><circle cx="317.6" cy="166.6" r="0.67" fill="#999"/><circle cx="292.5" cy="169.8" r="0.70" fill="#888"/><circle cx="291.4" cy="172.5" r="0.89" fill="#444"/><circle cx="258.4" cy="165.3" r="0.59" fill="#666"/><circle cx="277.2" cy="144.5" r="0.57" fill="#666"/><circle cx="269.0" cy="171.0" r="0.43" fill="#888"/><circle cx="267.2" cy="155.9" r="0.84" fill="#888"/><circle cx="267.9" cy="157.8" r="0.37" fill="#666"/><circle cx="265.3" cy="145.0" r="0.66" fill="#999"/><circle cx="290.2" cy="143.7" r="0.66" fill="#444"/><circle cx="309.5" cy="168.7" r="0.79" fill="#888"/><circle cx="259.0" cy="148.6" r="0.59" fill="#444"/><circle cx="306.8" cy="168.5" r="0.77" fill="#444"/><circle cx="292.8" cy="140.2" r="0.87" fill="#999"/><circle cx="265.3" cy="170.5" r="0.57" fill="#444"/><circle cx="285.1" cy="187.1" r="0.64" fill="#999"/><circle cx="300.6" cy="173.6" r="0.66" fill="#444"/><circle cx="273.7" cy="152.1" r="0.36" fill="#999"/><circle cx="309.3" cy="164.0" r="0.38" fill="#444"/><circle cx="304.8" cy="184.0" r="0.81" fill="#444"/><circle cx="309.6" cy="137.3" r="0.56" fill="#999"/><circle cx="293.9" cy="161.4" r="0.55" fill="#888"/><circle cx="261.7" cy="153.5" r="0.79" fill="#666"/><circle cx="298.2" cy="172.9" r="0.76" fill="#888"/><circle cx="284.5" cy="177.6" r="0.88" fill="#888"/><circle cx="275.5" cy="136.0" r="0.78" fill="#444"/><circle cx="312.8" cy="139.0" r="0.89" fill="#444"/><circle cx="301.0" cy="137.9" r="0.80" fill="#888"/><circle cx="271.1" cy="165.5" r="0.42" fill="#999"/><circle cx="274.6" cy="136.4" r="2.14" fill="#151515"/><circle cx="283.4" cy="138.1" r="2.42" fill="#151515"/><circle cx="267.0" cy="139.7" r="1.42" fill="#151515"/><circle cx="265.3" cy="140.3" r="1.14" fill="#151515"/><circle cx="281.8" cy="128.2" r="1.42" fill="#151515"/><circle cx="271.4" cy="142.4" r="1.14" fill="#151515"/><circle cx="268.1" cy="146.3" r="1.14" fill="#151515"/><circle cx="272.4" cy="154.5" r="2.85" fill="#777"/><circle cx="290.5" cy="150.7" r="2.14" fill="#151515"/><circle cx="293.8" cy="149.0" r="1.42" fill="#151515"/><circle cx="295.4" cy="151.8" r="1.14" fill="#151515"/><circle cx="300.9" cy="147.4" r="2.14" fill="#151515"/><circle cx="304.2" cy="147.9" r="1.71" fill="#151515"/><circle cx="307.5" cy="149.6" r="2.14" fill="#151515"/><circle cx="306.9" cy="152.8" r="1.71" fill="#151515"/><circle cx="313.5" cy="152.3" r="1.42" fill="#151515"/><circle cx="293.8" cy="161.6" r="2.56" fill="#151515"/><circle cx="286.7" cy="163.8" r="1.71" fill="#151515"/><circle cx="285.0" cy="167.1" r="2.85" fill="#151515"/><circle cx="279.0" cy="167.1" r="1.71" fill="#151515"/><circle cx="283.4" cy="172.6" r="2.56" fill="#151515"/><circle cx="276.3" cy="171.5" r="1.71" fill="#151515"/><circle cx="279.0" cy="174.7" r="1.71" fill="#151515"/><circle cx="288.3" cy="174.2" r="1.42" fill="#151515"/><circle cx="310.8" cy="169.3" r="2.85" fill="#777"/><circle cx="316.8" cy="168.2" r="1.14" fill="#151515"/><circle cx="301.5" cy="167.6" r="1.14" fill="#151515"/><circle cx="270.3" cy="178.0" r="1.42" fill="#151515"/><circle cx="271.9" cy="180.2" r="1.14" fill="#151515"/><circle cx="279.6" cy="179.7" r="1.42" fill="#777"/><circle cx="287.2" cy="179.7" r="1.14" fill="#151515"/><circle cx="291.6" cy="183.0" r="1.42" fill="#151515"/><circle cx="268.1" cy="164.9" r="0.71" fill="#151515"/><circle cx="263.7" cy="161.6" r="0.71" fill="#151515"/><circle cx="288.3" cy="143.0" r="1.14" fill="#999"/><circle cx="283.9" cy="156.1" r="0.85" fill="#999"/><circle cx="307.5" cy="142.4" r="1.14" fill="#777"/><circle cx="299.3" cy="140.3" r="1.42" fill="#151515"/><circle cx="301.5" cy="140.8" r="1.14" fill="#151515"/><circle cx="315.7" cy="158.3" r="0.85" fill="#151515"/><circle cx="306.9" cy="172.6" r="1.14" fill="#999"/><circle cx="298.2" cy="127.7" r="0.71" fill="#151515"/></g>
<circle cx="364.40" cy="158.00" r="34.40" fill="url(#plateg)" stroke="#333" stroke-width="1.3"/>
<g filter="url(#blur06)"><g fill="#909090" opacity="0.5"><circle cx="347.8" cy="136.4" r="7.22"/><circle cx="353.3" cy="135.3" r="6.19"/><circle cx="357.7" cy="130.9" r="4.13"/><circle cx="363.1" cy="130.4" r="3.10"/><circle cx="368.6" cy="130.9" r="3.72"/><circle cx="374.1" cy="131.5" r="2.48"/><circle cx="350.0" cy="141.4" r="4.13"/><circle cx="353.3" cy="146.3" r="3.72"/><circle cx="367.5" cy="143.0" r="5.16"/><circle cx="366.4" cy="148.5" r="6.19"/><circle cx="368.1" cy="151.8" r="4.13"/><circle cx="363.1" cy="147.4" r="3.10"/><circle cx="376.3" cy="137.5" r="2.48"/><circle cx="378.5" cy="141.4" r="2.48"/><circle cx="374.1" cy="143.0" r="2.06"/><circle cx="344.0" cy="148.5" r="2.48"/><circle cx="337.9" cy="153.4" r="2.48"/><circle cx="341.2" cy="157.2" r="4.13"/><circle cx="343.4" cy="161.1" r="2.06"/><circle cx="388.3" cy="151.2" r="3.10"/><circle cx="393.2" cy="154.5" r="2.06"/><circle cx="389.4" cy="140.8" r="1.65"/><circle cx="383.9" cy="151.8" r="1.65"/><circle cx="370.8" cy="164.9" r="4.13"/><circle cx="376.8" cy="164.3" r="2.48"/><circle cx="382.8" cy="164.3" r="3.10"/><circle cx="369.7" cy="172.6" r="3.10"/><circle cx="374.1" cy="173.7" r="1.65"/><circle cx="379.6" cy="174.2" r="3.72"/><circle cx="372.4" cy="179.7" r="2.06"/><circle cx="379.0" cy="180.2" r="1.65"/><circle cx="355.5" cy="179.1" r="5.16"/><circle cx="352.7" cy="181.3" r="3.10"/><circle cx="358.8" cy="181.3" r="3.10"/><circle cx="346.2" cy="175.3" r="2.06"/><circle cx="354.4" cy="140.3" r="2.48"/><circle cx="344.5" cy="138.6" r="3.10"/><circle cx="348.9" cy="133.1" r="2.06"/></g><circle cx="376.7" cy="150.2" r="0.54" fill="#444"/><circle cx="341.8" cy="141.7" r="0.59" fill="#888"/><circle cx="343.8" cy="141.0" r="0.73" fill="#888"/><circle cx="361.3" cy="135.2" r="0.36" fill="#444"/><circle cx="336.5" cy="160.2" r="0.56" fill="#888"/><circle cx="388.2" cy="163.7" r="0.63" fill="#444"/><circle cx="358.1" cy="163.0" r="0.42" fill="#888"/><circle cx="348.5" cy="136.9" r="0.38" fill="#999"/><circle cx="361.3" cy="184.6" r="0.38" fill="#444"/><circle cx="362.2" cy="147.1" r="0.80" fill="#888"/><circle cx="371.7" cy="149.7" r="0.64" fill="#666"/><circle cx="332.9" cy="165.6" r="0.79" fill="#999"/><circle cx="386.2" cy="162.3" r="0.53" fill="#666"/><circle cx="365.3" cy="133.7" r="0.52" fill="#666"/><circle cx="393.9" cy="170.2" r="0.79" fill="#888"/><circle cx="365.9" cy="148.9" r="0.44" fill="#444"/><circle cx="382.4" cy="184.6" r="0.88" fill="#666"/><circle cx="369.9" cy="134.7" r="0.37" fill="#444"/><circle cx="365.6" cy="130.8" r="0.64" fill="#999"/><circle cx="349.1" cy="135.1" r="0.81" fill="#888"/><circle cx="393.6" cy="170.7" r="0.45" fill="#444"/><circle cx="357.6" cy="151.6" r="0.74" fill="#888"/><circle cx="352.4" cy="162.6" r="0.87" fill="#666"/><circle cx="342.8" cy="142.9" r="0.69" fill="#888"/><circle cx="360.3" cy="132.4" r="0.43" fill="#999"/><circle cx="371.8" cy="177.5" r="0.42" fill="#444"/><circle cx="343.1" cy="168.1" r="0.46" fill="#666"/><circle cx="352.6" cy="132.4" r="0.46" fill="#999"/><circle cx="361.4" cy="188.9" r="0.49" fill="#888"/><circle cx="387.5" cy="155.2" r="0.57" fill="#888"/><circle cx="362.0" cy="134.9" r="0.77" fill="#666"/><circle cx="338.4" cy="157.9" r="0.71" fill="#888"/><circle cx="381.4" cy="171.8" r="0.41" fill="#888"/><circle cx="362.7" cy="140.4" r="0.86" fill="#999"/><circle cx="382.3" cy="154.5" r="0.66" fill="#444"/><circle cx="370.2" cy="176.2" r="0.42" fill="#999"/><circle cx="393.8" cy="145.1" r="0.64" fill="#999"/><circle cx="384.2" cy="158.2" r="0.44" fill="#888"/><circle cx="365.3" cy="176.4" r="0.50" fill="#888"/><circle cx="375.1" cy="170.4" r="0.40" fill="#444"/><circle cx="376.9" cy="169.1" r="0.42" fill="#666"/><circle cx="396.9" cy="160.8" r="0.59" fill="#888"/><circle cx="371.7" cy="146.0" r="0.80" fill="#888"/><circle cx="341.8" cy="142.8" r="0.36" fill="#999"/><circle cx="383.3" cy="174.1" r="0.53" fill="#666"/><circle cx="365.0" cy="153.3" r="0.51" fill="#444"/><circle cx="370.4" cy="142.7" r="0.46" fill="#888"/><circle cx="342.6" cy="172.3" r="0.86" fill="#888"/><circle cx="375.5" cy="142.0" r="0.74" fill="#999"/><circle cx="375.7" cy="176.6" r="0.76" fill="#444"/><circle cx="359.4" cy="169.2" r="0.46" fill="#666"/><circle cx="381.3" cy="152.0" r="0.89" fill="#666"/><circle cx="378.3" cy="177.3" r="0.84" fill="#444"/><circle cx="385.4" cy="147.3" r="0.79" fill="#888"/><circle cx="379.0" cy="140.3" r="0.57" fill="#999"/><circle cx="370.2" cy="128.6" r="0.84" fill="#888"/><circle cx="365.6" cy="159.6" r="0.81" fill="#444"/><circle cx="337.4" cy="149.8" r="0.53" fill="#666"/><circle cx="378.5" cy="181.3" r="0.79" fill="#999"/><circle cx="352.9" cy="158.9" r="0.48" fill="#888"/><circle cx="359.2" cy="147.0" r="0.50" fill="#999"/><circle cx="373.6" cy="147.7" r="0.80" fill="#888"/><circle cx="369.8" cy="148.8" r="0.38" fill="#888"/><circle cx="374.0" cy="160.4" r="0.55" fill="#999"/><circle cx="365.3" cy="155.3" r="0.60" fill="#888"/><circle cx="382.7" cy="152.2" r="0.49" fill="#444"/><circle cx="338.0" cy="152.3" r="0.38" fill="#999"/><circle cx="364.5" cy="155.7" r="0.42" fill="#444"/><circle cx="366.5" cy="162.4" r="0.71" fill="#444"/><circle cx="355.2" cy="132.9" r="0.68" fill="#999"/><circle cx="363.5" cy="177.7" r="0.60" fill="#888"/><circle cx="360.8" cy="132.0" r="0.45" fill="#888"/><circle cx="346.7" cy="184.2" r="0.76" fill="#666"/><circle cx="339.5" cy="152.7" r="0.40" fill="#444"/><circle cx="356.8" cy="182.0" r="0.88" fill="#444"/><circle cx="364.6" cy="190.6" r="0.71" fill="#888"/><circle cx="386.1" cy="156.4" r="0.69" fill="#666"/><circle cx="369.3" cy="129.8" r="0.41" fill="#444"/><circle cx="376.5" cy="185.5" r="0.38" fill="#444"/><circle cx="384.6" cy="153.7" r="0.77" fill="#999"/><circle cx="366.0" cy="170.1" r="0.84" fill="#888"/><circle cx="340.8" cy="153.6" r="0.70" fill="#444"/><circle cx="340.6" cy="149.6" r="0.59" fill="#888"/><circle cx="386.6" cy="166.5" r="0.51" fill="#666"/><circle cx="366.0" cy="179.1" r="0.56" fill="#999"/><circle cx="347.7" cy="162.5" r="0.56" fill="#444"/><circle cx="382.3" cy="162.1" r="0.62" fill="#666"/><circle cx="340.9" cy="152.0" r="0.75" fill="#888"/><circle cx="378.3" cy="170.5" r="0.82" fill="#999"/><circle cx="345.6" cy="156.2" r="0.53" fill="#666"/><circle cx="347.8" cy="136.4" r="4.98" fill="#151515"/><circle cx="353.3" cy="135.3" r="4.27" fill="#151515"/><circle cx="357.7" cy="130.9" r="2.85" fill="#151515"/><circle cx="363.1" cy="130.4" r="2.14" fill="#151515"/><circle cx="368.6" cy="130.9" r="2.56" fill="#151515"/><circle cx="374.1" cy="131.5" r="1.71" fill="#151515"/><circle cx="350.0" cy="141.4" r="2.85" fill="#151515"/><circle cx="353.3" cy="146.3" r="2.56" fill="#151515"/><circle cx="367.5" cy="143.0" r="3.56" fill="#151515"/><circle cx="366.4" cy="148.5" r="4.27" fill="#151515"/><circle cx="368.1" cy="151.8" r="2.85" fill="#151515"/><circle cx="363.1" cy="147.4" r="2.14" fill="#151515"/><circle cx="376.3" cy="137.5" r="1.71" fill="#151515"/><circle cx="378.5" cy="141.4" r="1.71" fill="#151515"/><circle cx="374.1" cy="143.0" r="1.42" fill="#151515"/><circle cx="359.8" cy="140.3" r="1.42" fill="#777"/><circle cx="344.0" cy="148.5" r="1.71" fill="#151515"/><circle cx="337.9" cy="153.4" r="1.71" fill="#151515"/><circle cx="341.2" cy="157.2" r="2.85" fill="#151515"/><circle cx="343.4" cy="161.1" r="1.42" fill="#151515"/><circle cx="374.1" cy="149.6" r="2.85" fill="#777"/><circle cx="376.3" cy="153.9" r="2.14" fill="#999"/><circle cx="388.3" cy="151.2" r="2.14" fill="#151515"/><circle cx="393.2" cy="154.5" r="1.42" fill="#151515"/><circle cx="389.4" cy="140.8" r="1.14" fill="#151515"/><circle cx="383.9" cy="151.8" r="1.14" fill="#151515"/><circle cx="370.8" cy="164.9" r="2.85" fill="#151515"/><circle cx="376.8" cy="164.3" r="1.71" fill="#151515"/><circle cx="382.8" cy="164.3" r="2.14" fill="#151515"/><circle cx="365.3" cy="158.3" r="2.14" fill="#777"/><circle cx="369.7" cy="172.6" r="2.14" fill="#151515"/><circle cx="374.1" cy="173.7" r="1.14" fill="#151515"/><circle cx="379.6" cy="174.2" r="2.56" fill="#151515"/><circle cx="372.4" cy="179.7" r="1.42" fill="#151515"/><circle cx="379.0" cy="180.2" r="1.14" fill="#151515"/><circle cx="355.5" cy="179.1" r="3.56" fill="#151515"/><circle cx="352.7" cy="181.3" r="2.14" fill="#151515"/><circle cx="358.8" cy="181.3" r="2.14" fill="#151515"/><circle cx="366.4" cy="183.5" r="1.71" fill="#777"/><circle cx="346.2" cy="175.3" r="1.42" fill="#151515"/><circle cx="360.9" cy="162.7" r="1.14" fill="#999"/><circle cx="383.9" cy="159.4" r="1.42" fill="#999"/><circle cx="390.5" cy="167.1" r="1.14" fill="#999"/><circle cx="359.8" cy="152.8" r="1.42" fill="#777"/><circle cx="354.4" cy="140.3" r="1.71" fill="#151515"/><circle cx="344.5" cy="138.6" r="2.14" fill="#151515"/><circle cx="348.9" cy="133.1" r="1.42" fill="#151515"/><circle cx="386.1" cy="147.4" r="1.14" fill="#777"/><circle cx="370.8" cy="168.2" r="1.71" fill="#777"/></g>
<rect x="459.20" y="27.00" width="110.40" height="82.00" fill="#ebebee"/>
<svg x="459.20" y="27.00" width="110.40" height="82.00" overflow="hidden">
<polygon points="14.4,66.8 13.7,69.7 15.3,72.2 16.0,69.3" fill="#a050e8"/><polygon points="7.0,2.3 10.4,3.8 13.8,2.3 10.4,0.9" fill="#a050e8"/><circle cx="10.4" cy="2.3" r="1.2" fill="#6420b0"/><polygon points="35.1,35.2 30.9,36.1 27.3,38.3 31.4,37.4" fill="#9a48e8"/><polygon points="77.7,38.6 79.0,43.8 82.6,47.9 81.2,42.7" fill="#9a48e8"/><polygon points="100.2,74.4 104.6,77.5 110.1,77.6 105.6,74.4" fill="#7a28d8"/><circle cx="105.1" cy="76.0" r="1.4" fill="#6420b0"/><polygon points="41.3,56.5 36.2,58.2 32.2,61.8 37.3,60.1" fill="#9a48e8"/><circle cx="36.7" cy="59.2" r="1.0" fill="#6420b0"/><polygon points="61.2,72.0 64.7,73.6 68.5,72.8 65.0,71.1" fill="#9a48e8"/><polygon points="63.6,5.0 60.7,8.6 59.2,12.9 62.1,9.4" fill="#8a36e0"/><polygon points="58.7,30.7 56.9,31.8 56.4,33.8 58.1,32.7" fill="#8030d0"/><circle cx="57.5" cy="32.2" r="0.6" fill="#6420b0"/><polygon points="44.1,8.6 42.0,13.8 42.8,19.4 44.9,14.2" fill="#8030d0"/><circle cx="43.5" cy="14.0" r="1.2" fill="#6420b0"/><polygon points="57.2,74.6 55.8,78.0 56.2,81.6 57.7,78.2" fill="#8a36e0"/><circle cx="56.7" cy="78.1" r="0.8" fill="#6420b0"/><polygon points="97.4,75.9 94.1,77.6 91.8,80.7 95.1,78.9" fill="#9a48e8"/><circle cx="94.6" cy="78.3" r="0.7" fill="#6420b0"/><polygon points="6.1,68.8 5.0,71.4 6.3,73.9 7.4,71.3" fill="#7a28d8"/><circle cx="6.2" cy="71.3" r="1.0" fill="#6420b0"/><polygon points="2.6,42.5 -0.6,43.2 -2.3,46.0 0.9,45.4" fill="#9a48e8"/><circle cx="0.2" cy="44.3" r="1.1" fill="#6420b0"/><polygon points="15.0,7.0 19.8,9.1 24.9,8.0 20.1,5.9" fill="#8a36e0"/><circle cx="20.0" cy="7.5" r="1.4" fill="#6420b0"/><polygon points="2.9,-1.3 1.1,0.9 0.8,3.7 2.6,1.5" fill="#7a28d8"/><circle cx="1.8" cy="1.2" r="0.7" fill="#6420b0"/><polygon points="15.9,17.5 17.4,21.7 21.0,24.3 19.6,20.1" fill="#7a28d8"/><circle cx="18.5" cy="20.9" r="1.1" fill="#6420b0"/><polygon points="40.7,17.4 37.9,16.2 35.3,17.8 38.1,19.0" fill="#8030d0"/><circle cx="38.0" cy="17.6" r="1.2" fill="#6420b0"/><polygon points="87.0,40.9 86.6,44.5 88.5,47.6 88.9,44.0" fill="#9a48e8"/><polygon points="71.6,53.8 69.0,56.6 67.7,60.2 70.3,57.4" fill="#7a28d8"/><polygon points="36.7,38.5 34.5,38.3 32.8,39.5 34.9,39.8" fill="#7a28d8"/><polygon points="38.6,24.2 35.9,28.5 36.5,33.6 39.2,29.2" fill="#9a48e8"/><polygon points="94.2,63.4 95.8,64.8 97.9,64.6 96.3,63.1" fill="#8030d0"/><polygon points="27.2,16.5 23.4,17.0 20.4,19.4 24.2,18.9" fill="#7a28d8"/><circle cx="23.8" cy="18.0" r="0.9" fill="#6420b0"/><polygon points="18.5,24.0 21.5,27.7 25.9,29.8 22.8,26.1" fill="#8a36e0"/><polygon points="107.3,28.0 102.9,27.0 98.6,28.4 103.0,29.4" fill="#9a48e8"/><circle cx="102.9" cy="28.2" r="1.0" fill="#6420b0"/><polygon points="14.1,26.8 15.3,29.8 18.3,31.1 17.0,28.1" fill="#7a28d8"/><circle cx="16.2" cy="28.9" r="1.0" fill="#6420b0"/><polygon points="27.3,68.9 31.5,72.6 37.0,73.3 32.8,69.7" fill="#8030d0"/><polygon points="46.2,30.0 44.8,31.9 45.0,34.3 46.4,32.4" fill="#a050e8"/><circle cx="45.6" cy="32.2" r="0.7" fill="#6420b0"/><polygon points="61.1,43.3 59.8,46.3 60.4,49.5 61.7,46.5" fill="#8a36e0"/><circle cx="60.8" cy="46.4" r="0.8" fill="#6420b0"/><polygon points="28.8,64.0 30.2,65.8 32.4,65.1 31.0,63.2" fill="#8a36e0"/><polygon points="86.6,11.5 86.4,15.5 87.8,19.3 88.1,15.3" fill="#9a48e8"/><circle cx="87.2" cy="15.4" r="0.7" fill="#6420b0"/><polygon points="97.3,33.1 92.6,34.6 89.3,38.3 94.0,36.7" fill="#8030d0"/><circle cx="93.3" cy="35.7" r="1.1" fill="#6420b0"/><polygon points="54.6,8.1 52.6,7.5 50.7,8.3 52.7,8.9" fill="#7a28d8"/><polygon points="48.0,37.0 50.0,40.6 53.7,42.7 51.7,39.0" fill="#8030d0"/><polygon points="95.9,69.3 97.9,71.8 100.9,73.0 98.9,70.4" fill="#9a48e8"/><circle cx="98.4" cy="71.1" r="0.8" fill="#6420b0"/><polygon points="10.5,19.9 7.8,22.4 7.5,26.1 10.2,23.6" fill="#9a48e8"/><circle cx="9.0" cy="23.0" r="1.1" fill="#6420b0"/><polygon points="60.3,-5.6 58.9,-2.9 59.5,0.1 60.9,-2.6" fill="#8030d0"/><polygon points="13.2,16.7 9.8,17.2 7.2,19.4 10.6,18.9" fill="#8a36e0"/><circle cx="10.2" cy="18.1" r="0.8" fill="#6420b0"/><polygon points="-10.9,38.8 -11.0,41.5 -8.6,42.6 -8.5,39.9" fill="#8030d0"/><polygon points="14.6,62.1 18.8,64.6 23.7,65.2 19.5,62.7" fill="#8030d0"/><polygon points="1.0,19.2 -2.2,23.0 -2.6,27.9 0.6,24.1" fill="#8030d0"/><polygon points="18.2,34.6 20.3,38.7 24.4,40.9 22.3,36.8" fill="#8a36e0"/><polygon points="6.1,41.3 6.9,43.6 9.2,43.2 8.4,40.9" fill="#a050e8"/><circle cx="7.6" cy="42.3" r="1.3" fill="#6420b0"/><polygon points="69.5,33.3 70.9,35.1 73.2,35.0 71.8,33.2" fill="#9a48e8"/><circle cx="71.4" cy="34.2" r="0.9" fill="#6420b0"/><polygon points="108.4,20.3 107.8,22.7 108.7,25.1 109.3,22.7" fill="#9a48e8"/><circle cx="108.5" cy="22.7" r="0.7" fill="#6420b0"/><polygon points="52.1,50.3 54.3,54.3 58.5,56.2 56.3,52.2" fill="#a050e8"/><polygon points="2.6,8.8 4.8,12.8 9.1,14.2 6.9,10.2" fill="#8a36e0"/><polygon points="68.4,26.4 70.5,30.8 74.0,34.0 72.0,29.7" fill="#7a28d8"/><polygon points="44.8,56.2 40.5,56.0 37.2,58.8 41.5,59.0" fill="#8030d0"/><circle cx="41.0" cy="57.5" r="1.3" fill="#6420b0"/><polygon points="0.7,16.6 -1.6,17.3 -1.8,19.7 0.5,19.1" fill="#7a28d8"/><circle cx="-0.6" cy="18.2" r="1.2" fill="#6420b0"/><polygon points="90.7,41.9 92.8,45.2 95.9,47.3 93.9,44.1" fill="#8a36e0"/><circle cx="93.3" cy="44.6" r="0.7" fill="#6420b0"/><polygon points="39.2,-10.2 38.6,-5.8 40.7,-1.9 41.3,-6.3" fill="#9a48e8"/><polygon points="40.0,64.9 41.8,66.8 44.4,66.8 42.6,64.9" fill="#a050e8"/><polygon points="11.6,47.7 12.5,50.0 14.7,50.8 13.9,48.5" fill="#8030d0"/><circle cx="13.2" cy="49.3" r="0.8" fill="#6420b0"/><polygon points="9.1,8.9 11.5,13.3 15.2,16.5 12.9,12.1" fill="#8030d0"/><circle cx="12.2" cy="12.7" r="0.8" fill="#6420b0"/><polygon points="37.4,60.6 33.7,60.7 31.2,63.6 35.0,63.5" fill="#9a48e8"/><circle cx="34.3" cy="62.1" r="1.3" fill="#6420b0"/><polygon points="51.7,67.1 53.3,70.8 56.6,73.2 55.0,69.5" fill="#8a36e0"/><polygon points="19.3,61.1 23.3,63.5 28.0,63.2 23.9,60.9" fill="#7a28d8"/><circle cx="23.6" cy="62.2" r="1.1" fill="#6420b0"/><polygon points="30.2,29.8 31.3,33.3 34.2,35.5 33.2,32.0" fill="#a050e8"/><circle cx="32.2" cy="32.7" r="1.0" fill="#6420b0"/><polygon points="53.6,19.3 50.4,22.2 50.4,26.4 53.5,23.6" fill="#8030d0"/><circle cx="52.0" cy="22.9" r="1.4" fill="#6420b0"/><polygon points="107.2,49.1 101.9,47.9 96.7,49.5 102.0,50.7" fill="#9a48e8"/><circle cx="101.9" cy="49.3" r="1.2" fill="#6420b0"/><polygon points="78.1,15.8 73.7,14.9 69.5,16.6 74.0,17.5" fill="#7a28d8"/><polygon points="67.7,56.9 63.7,59.3 61.3,63.4 65.4,61.0" fill="#7a28d8"/><polygon points="49.6,49.2 44.2,50.3 40.3,54.0 45.6,52.9" fill="#8a36e0"/><polygon points="24.7,-9.4 21.0,-8.2 18.1,-5.6 21.8,-6.7" fill="#a050e8"/><circle cx="21.4" cy="-7.5" r="0.7" fill="#6420b0"/><polygon points="24.3,27.6 25.5,29.6 27.8,29.6 26.6,27.6" fill="#9a48e8"/><polygon points="46.8,55.6 44.1,55.6 42.0,57.4 44.7,57.3" fill="#7a28d8"/><circle cx="44.4" cy="56.5" r="0.8" fill="#6420b0"/><polygon points="73.7,74.1 77.0,75.9 80.7,75.2 77.4,73.4" fill="#7a28d8"/><polygon points="23.8,20.9 20.2,22.6 17.7,25.7 21.3,24.0" fill="#8030d0"/><circle cx="20.7" cy="23.3" r="0.7" fill="#6420b0"/><polygon points="29.2,77.5 24.3,78.3 19.9,80.6 24.8,79.7" fill="#8030d0"/><circle cx="24.5" cy="79.0" r="0.6" fill="#6420b0"/><polygon points="33.2,36.3 30.6,40.3 31.0,45.1 33.6,41.1" fill="#8030d0"/><polygon points="20.2,28.8 19.9,31.5 22.2,33.0 22.5,30.3" fill="#a050e8"/><circle cx="21.2" cy="30.9" r="1.2" fill="#6420b0"/><polygon points="47.5,43.6 50.1,46.2 53.6,47.6 51.0,44.9" fill="#8a36e0"/><polygon points="4.9,58.9 1.6,60.9 0.2,64.5 3.5,62.5" fill="#8030d0"/><circle cx="2.6" cy="61.7" r="1.0" fill="#6420b0"/><polygon points="71.4,20.9 72.6,23.2 75.0,24.1 73.8,21.8" fill="#a050e8"/><circle cx="73.2" cy="22.5" r="0.8" fill="#6420b0"/><polygon points="15.9,16.8 17.8,20.0 21.4,21.2 19.4,18.0" fill="#7a28d8"/><circle cx="18.6" cy="19.0" r="1.1" fill="#6420b0"/><polygon points="67.3,73.7 64.9,73.2 63.8,75.4 66.2,75.9" fill="#7a28d8"/><polygon points="51.0,64.7 55.0,66.6 59.3,65.5 55.3,63.6" fill="#a050e8"/><circle cx="55.2" cy="65.1" r="1.3" fill="#6420b0"/><polygon points="45.1,48.9 49.8,51.1 54.9,50.0 50.2,47.9" fill="#8a36e0"/><circle cx="50.0" cy="49.5" r="1.4" fill="#6420b0"/><polygon points="14.2,73.1 13.3,76.5 14.2,79.9 15.1,76.5" fill="#9a48e8"/><polygon points="79.0,69.0 75.7,68.0 72.6,69.7 75.9,70.7" fill="#9a48e8"/><circle cx="75.8" cy="69.3" r="1.1" fill="#6420b0"/><polygon points="6.3,45.4 1.9,45.0 -1.6,47.8 2.8,48.2" fill="#8030d0"/><circle cx="2.3" cy="46.6" r="1.4" fill="#6420b0"/><polygon points="25.0,69.1 21.0,71.2 19.1,75.2 23.0,73.1" fill="#8a36e0"/><circle cx="22.0" cy="72.2" r="1.2" fill="#6420b0"/><polygon points="102.9,11.6 107.5,13.9 112.7,13.2 108.1,10.9" fill="#8a36e0"/><polygon points="30.5,42.0 28.3,41.4 26.9,43.3 29.2,43.9" fill="#a050e8"/><circle cx="28.7" cy="42.7" r="1.2" fill="#6420b0"/><polygon points="57.2,5.4 57.2,7.7 58.7,9.4 58.6,7.1" fill="#7a28d8"/><circle cx="57.9" cy="7.4" r="0.6" fill="#6420b0"/><polygon points="13.2,60.3 13.4,65.4 15.5,70.0 15.3,64.9" fill="#9a48e8"/><circle cx="14.4" cy="65.2" r="0.9" fill="#6420b0"/><polygon points="22.5,72.4 21.1,75.8 22.9,78.9 24.3,75.6" fill="#9a48e8"/><polygon points="50.1,76.2 48.1,80.9 49.0,85.9 50.9,81.2" fill="#7a28d8"/><circle cx="22.1" cy="31.9" r="0.5" fill="#5a3a90"/><circle cx="38.1" cy="47.1" r="0.7" fill="#6a40b0"/><circle cx="88.2" cy="43.8" r="0.6" fill="#9a70d0"/><circle cx="38.9" cy="26.7" r="0.8" fill="#6a40b0"/><circle cx="16.4" cy="75.0" r="0.9" fill="#5a3a90"/><circle cx="63.3" cy="37.0" r="0.7" fill="#5a3a90"/><circle cx="100.8" cy="76.1" r="0.9" fill="#9a70d0"/><circle cx="102.2" cy="75.6" r="0.6" fill="#6a40b0"/><circle cx="57.8" cy="47.2" r="0.9" fill="#5a3a90"/><circle cx="77.6" cy="61.2" r="1.0" fill="#5a3a90"/><circle cx="88.0" cy="30.4" r="0.7" fill="#5a3a90"/><circle cx="108.2" cy="43.6" r="0.5" fill="#8a60c0"/><circle cx="27.6" cy="18.1" r="1.0" fill="#8a60c0"/><circle cx="20.4" cy="33.7" r="0.9" fill="#6a40b0"/><circle cx="108.0" cy="55.9" r="0.6" fill="#6a40b0"/><circle cx="7.4" cy="46.8" r="0.9" fill="#6a40b0"/><circle cx="87.7" cy="17.8" r="0.8" fill="#8a60c0"/><circle cx="47.7" cy="48.4" r="0.9" fill="#9a70d0"/><circle cx="31.3" cy="73.1" r="0.9" fill="#9a70d0"/><circle cx="98.6" cy="34.9" r="0.8" fill="#5a3a90"/><circle cx="104.3" cy="65.4" r="0.9" fill="#6a40b0"/><circle cx="110.2" cy="21.0" r="0.5" fill="#8a60c0"/><circle cx="58.7" cy="31.2" r="0.5" fill="#9a70d0"/><circle cx="68.0" cy="41.8" r="0.5" fill="#9a70d0"/><circle cx="94.0" cy="37.6" r="1.0" fill="#8a60c0"/><circle cx="76.8" cy="52.7" r="0.9" fill="#6a40b0"/><circle cx="56.6" cy="81.5" r="1.0" fill="#5a3a90"/><circle cx="60.0" cy="46.9" r="0.8" fill="#5a3a90"/><circle cx="59.8" cy="67.1" r="0.8" fill="#9a70d0"/><circle cx="64.1" cy="37.1" r="0.8" fill="#8a60c0"/><circle cx="64.7" cy="45.1" r="0.6" fill="#8a60c0"/><circle cx="1.1" cy="34.8" r="0.7" fill="#6a40b0"/><circle cx="44.4" cy="76.8" r="0.9" fill="#6a40b0"/><circle cx="102.1" cy="69.4" r="0.6" fill="#9a70d0"/><circle cx="30.0" cy="64.1" r="0.9" fill="#9a70d0"/><circle cx="42.9" cy="65.9" r="0.7" fill="#9a70d0"/><circle cx="45.8" cy="1.5" r="0.9" fill="#8a60c0"/><circle cx="40.6" cy="10.4" r="1.0" fill="#5a3a90"/><circle cx="45.6" cy="77.0" r="0.9" fill="#5a3a90"/><circle cx="76.3" cy="35.5" r="0.6" fill="#9a70d0"/><circle cx="91.6" cy="77.8" r="0.9" fill="#9a70d0"/><circle cx="10.1" cy="10.6" r="0.6" fill="#8a60c0"/><circle cx="2.9" cy="20.8" r="0.9" fill="#9a70d0"/><circle cx="10.9" cy="53.3" r="0.9" fill="#8a60c0"/><circle cx="9.8" cy="50.2" r="0.8" fill="#6a40b0"/><circle cx="59.0" cy="28.4" r="0.9" fill="#6a40b0"/><circle cx="75.0" cy="68.5" r="1.0" fill="#6a40b0"/><circle cx="75.6" cy="14.7" r="0.9" fill="#6a40b0"/><circle cx="74.7" cy="7.1" r="0.6" fill="#9a70d0"/><circle cx="49.4" cy="55.9" r="1.0" fill="#9a70d0"/><circle cx="12.8" cy="70.0" r="0.6" fill="#6a40b0"/><circle cx="67.7" cy="57.6" r="0.8" fill="#8a60c0"/><circle cx="46.0" cy="72.8" r="0.9" fill="#5a3a90"/><circle cx="70.0" cy="66.4" r="0.9" fill="#8a60c0"/><circle cx="68.8" cy="70.6" r="0.5" fill="#6a40b0"/><circle cx="109.2" cy="53.9" r="0.5" fill="#5a3a90"/><circle cx="69.0" cy="24.6" r="0.6" fill="#6a40b0"/><circle cx="30.3" cy="57.9" r="0.6" fill="#9a70d0"/><circle cx="28.3" cy="33.4" r="0.8" fill="#6a40b0"/><circle cx="67.2" cy="12.2" r="0.6" fill="#9a70d0"/><circle cx="53.0" cy="25.1" r="0.6" fill="#9a70d0"/><circle cx="40.6" cy="38.6" r="0.6" fill="#5a3a90"/><circle cx="83.8" cy="60.6" r="0.8" fill="#9a70d0"/><circle cx="6.4" cy="26.7" r="0.8" fill="#8a60c0"/><circle cx="89.6" cy="73.1" r="0.8" fill="#5a3a90"/><circle cx="53.0" cy="9.7" r="0.8" fill="#8a60c0"/><circle cx="24.8" cy="52.1" r="0.8" fill="#6a40b0"/><circle cx="75.6" cy="18.6" r="0.8" fill="#8a60c0"/><circle cx="72.9" cy="25.2" r="0.5" fill="#5a3a90"/><circle cx="2.2" cy="25.0" r="0.5" fill="#8a60c0"/><circle cx="24.8" cy="55.8" r="0.6" fill="#5a3a90"/><circle cx="79.4" cy="31.1" r="0.7" fill="#6a40b0"/><circle cx="15.4" cy="20.6" r="0.8" fill="#8a60c0"/><circle cx="4.5" cy="6.3" r="0.6" fill="#6a40b0"/><circle cx="27.5" cy="43.4" r="0.5" fill="#5a3a90"/><circle cx="15.3" cy="32.7" r="0.5" fill="#8a60c0"/><circle cx="36.3" cy="0.7" r="1.0" fill="#5a3a90"/><circle cx="12.4" cy="75.7" r="0.8" fill="#8a60c0"/><circle cx="96.1" cy="33.2" r="0.8" fill="#9a70d0"/><circle cx="59.1" cy="32.3" r="0.8" fill="#8a60c0"/><circle cx="60.6" cy="4.4" r="0.6" fill="#6a40b0"/><circle cx="23.7" cy="35.6" r="0.6" fill="#6a40b0"/><circle cx="29.9" cy="43.5" r="0.6" fill="#9a70d0"/><circle cx="78.3" cy="61.1" r="0.8" fill="#6a40b0"/><circle cx="60.1" cy="44.7" r="0.8" fill="#6a40b0"/><circle cx="49.2" cy="10.8" r="1.0" fill="#6a40b0"/><circle cx="15.7" cy="72.1" r="0.7" fill="#8a60c0"/><circle cx="88.4" cy="62.9" r="0.9" fill="#5a3a90"/><circle cx="17.6" cy="69.6" r="0.9" fill="#9a70d0"/><circle cx="44.8" cy="80.1" r="0.6" fill="#8a60c0"/><circle cx="73.6" cy="65.5" r="0.8" fill="#6a40b0"/><circle cx="1.1" cy="66.8" r="0.7" fill="#8a60c0"/><circle cx="62.0" cy="72.4" r="0.5" fill="#9a70d0"/><circle cx="47.7" cy="55.7" r="1.0" fill="#5a3a90"/><circle cx="45.1" cy="49.7" r="0.5" fill="#6a40b0"/><circle cx="86.0" cy="53.0" r="0.9" fill="#6a40b0"/><circle cx="91.8" cy="48.2" r="0.8" fill="#5a3a90"/><circle cx="86.4" cy="46.6" r="0.9" fill="#5a3a90"/><circle cx="90.5" cy="20.1" r="0.6" fill="#8a60c0"/><circle cx="105.1" cy="71.5" r="0.9" fill="#6a40b0"/><circle cx="101.2" cy="25.7" r="0.6" fill="#5a3a90"/><circle cx="69.1" cy="73.7" r="0.8" fill="#6a40b0"/><circle cx="45.8" cy="29.4" r="0.7" fill="#5a3a90"/><circle cx="77.2" cy="52.1" r="0.5" fill="#8a60c0"/><circle cx="74.3" cy="73.1" r="0.8" fill="#8a60c0"/><circle cx="69.1" cy="73.3" r="1.0" fill="#6a40b0"/><circle cx="2.4" cy="73.6" r="0.8" fill="#9a70d0"/><circle cx="105.2" cy="32.6" r="0.5" fill="#8a60c0"/><circle cx="37.1" cy="79.5" r="0.9" fill="#8a60c0"/><circle cx="50.9" cy="38.6" r="0.8" fill="#9a70d0"/><circle cx="73.2" cy="76.8" r="0.7" fill="#9a70d0"/><circle cx="59.8" cy="46.9" r="0.9" fill="#5a3a90"/><circle cx="16.5" cy="30.8" r="0.9" fill="#6a40b0"/><circle cx="72.0" cy="77.2" r="0.9" fill="#9a70d0"/><circle cx="73.7" cy="65.4" r="1.0" fill="#5a3a90"/><circle cx="17.0" cy="43.0" r="1.0" fill="#6a40b0"/><circle cx="2.1" cy="32.5" r="0.8" fill="#8a60c0"/><circle cx="43.1" cy="0.4" r="1.0" fill="#8a60c0"/><circle cx="100.2" cy="54.3" r="0.8" fill="#5a3a90"/><circle cx="8.4" cy="44.0" r="0.6" fill="#8a60c0"/><circle cx="64.6" cy="42.1" r="0.6" fill="#9a70d0"/><circle cx="4.5" cy="42.3" r="0.9" fill="#8a60c0"/><circle cx="76.2" cy="53.6" r="0.6" fill="#6a40b0"/><circle cx="86.1" cy="9.8" r="0.7" fill="#6a40b0"/><circle cx="61.8" cy="52.6" r="0.5" fill="#9a70d0"/><circle cx="57.2" cy="63.7" r="1.0" fill="#6a40b0"/><circle cx="34.4" cy="22.8" r="0.6" fill="#9a70d0"/><circle cx="14.7" cy="46.1" r="0.9" fill="#5a3a90"/><circle cx="70.3" cy="81.4" r="0.8" fill="#9a70d0"/><circle cx="77.2" cy="57.3" r="0.7" fill="#8a60c0"/>
</svg>
<rect x="574.00" y="27.00" width="110.40" height="82.00" fill="#ebebee"/>
<svg x="574.00" y="27.00" width="110.40" height="82.00" overflow="hidden">
<polygon points="99.8,57.1 101.2,61.6 104.9,64.5 103.5,60.0" fill="#8030d0"/><circle cx="102.4" cy="60.8" r="1.2" fill="#6420b0"/><polygon points="7.7,54.1 3.3,54.5 0.2,57.6 4.6,57.2" fill="#8030d0"/><polygon points="59.9,34.6 59.4,36.6 60.3,38.4 60.8,36.4" fill="#7a28d8"/><polygon points="73.4,51.9 72.4,54.3 73.2,56.8 74.2,54.4" fill="#7a28d8"/><polygon points="79.0,13.5 74.0,13.5 69.9,16.3 74.9,16.3" fill="#7a28d8"/><polygon points="40.6,78.6 37.9,79.5 37.6,82.3 40.2,81.3" fill="#a050e8"/><polygon points="29.4,19.6 26.3,22.2 25.8,26.1 28.9,23.6" fill="#a050e8"/><polygon points="47.5,43.7 50.1,47.5 54.3,49.4 51.7,45.6" fill="#7a28d8"/><polygon points="89.5,68.1 91.2,72.6 94.9,75.7 93.1,71.2" fill="#8030d0"/><circle cx="92.2" cy="71.9" r="1.0" fill="#6420b0"/><polygon points="54.2,46.4 54.9,51.0 57.8,54.6 57.1,50.0" fill="#8030d0"/><polygon points="94.0,-23.6 96.0,-22.0 98.4,-22.9 96.4,-24.5" fill="#8030d0"/><circle cx="96.2" cy="-23.2" r="1.1" fill="#6420b0"/><polygon points="92.7,5.7 96.1,9.5 100.6,11.8 97.2,8.0" fill="#8a36e0"/><circle cx="96.7" cy="8.7" r="0.8" fill="#6420b0"/><polygon points="76.8,2.0 78.8,3.9 81.5,3.2 79.5,1.3" fill="#8a36e0"/><circle cx="79.2" cy="2.6" r="1.2" fill="#6420b0"/><polygon points="76.5,-0.9 80.1,2.5 84.6,4.4 81.0,1.0" fill="#8a36e0"/><circle cx="80.5" cy="1.7" r="0.7" fill="#6420b0"/><polygon points="82.2,43.8 85.5,46.6 89.8,46.7 86.5,43.9" fill="#7a28d8"/><circle cx="86.0" cy="45.3" r="1.2" fill="#6420b0"/><polygon points="33.4,43.3 33.1,45.5 34.6,47.1 35.0,44.9" fill="#8030d0"/><polygon points="51.7,15.6 51.4,18.6 52.7,21.4 53.0,18.4" fill="#9a48e8"/><circle cx="52.2" cy="18.5" r="0.7" fill="#6420b0"/><polygon points="82.8,36.2 85.5,40.6 89.7,43.6 87.0,39.2" fill="#a050e8"/><polygon points="74.9,77.2 76.8,79.4 79.6,80.0 77.6,77.9" fill="#a050e8"/><polygon points="55.2,75.2 55.2,80.8 57.1,86.0 57.0,80.5" fill="#7a28d8"/><circle cx="56.1" cy="80.6" r="0.8" fill="#6420b0"/><polygon points="23.2,62.5 24.1,65.8 27.2,67.3 26.3,64.0" fill="#8a36e0"/><circle cx="25.2" cy="64.9" r="1.2" fill="#6420b0"/><polygon points="40.4,13.0 42.4,13.9 44.6,13.3 42.5,12.3" fill="#9a48e8"/><circle cx="42.5" cy="13.1" r="0.7" fill="#6420b0"/><polygon points="4.8,51.7 1.8,54.3 0.6,58.1 3.6,55.5" fill="#9a48e8"/><polygon points="48.0,40.0 46.8,41.9 47.7,43.9 49.0,42.0" fill="#9a48e8"/><polygon points="80.1,37.8 76.7,37.1 73.9,39.1 77.3,39.8" fill="#7a28d8"/><circle cx="77.0" cy="38.5" r="1.2" fill="#6420b0"/><polygon points="70.8,8.1 75.6,9.7 80.6,8.5 75.7,6.9" fill="#a050e8"/><circle cx="75.7" cy="8.3" r="1.2" fill="#6420b0"/><polygon points="66.3,37.7 70.3,38.7 74.4,38.3 70.4,37.3" fill="#7a28d8"/><polygon points="45.3,28.8 45.0,32.6 47.5,35.4 47.8,31.6" fill="#8a36e0"/><circle cx="46.4" cy="32.1" r="1.2" fill="#6420b0"/><polygon points="10.5,49.5 13.3,51.4 16.6,51.6 13.9,49.7" fill="#8030d0"/><polygon points="88.3,57.5 85.1,58.4 83.3,61.2 86.5,60.3" fill="#7a28d8"/><circle cx="85.8" cy="59.3" r="1.0" fill="#6420b0"/><polygon points="97.4,56.2 94.6,58.4 93.8,61.8 96.6,59.6" fill="#a050e8"/><circle cx="95.6" cy="59.0" r="1.0" fill="#6420b0"/><polygon points="55.1,17.1 52.4,20.8 52.8,25.4 55.5,21.7" fill="#8030d0"/><circle cx="54.0" cy="21.3" r="1.4" fill="#6420b0"/><polygon points="61.2,44.7 59.1,43.2 57.0,44.9 59.2,46.4" fill="#8a36e0"/><circle cx="59.1" cy="44.8" r="1.4" fill="#6420b0"/><polygon points="33.0,14.7 31.6,18.9 32.4,23.3 33.9,19.1" fill="#8a36e0"/><circle cx="32.7" cy="19.0" r="1.0" fill="#6420b0"/><polygon points="109.1,76.4 108.0,79.4 108.8,82.5 109.9,79.5" fill="#9a48e8"/><polygon points="52.1,52.3 49.4,57.3 49.6,63.0 52.3,58.0" fill="#9a48e8"/><circle cx="50.9" cy="57.7" r="1.3" fill="#6420b0"/><polygon points="74.9,65.6 79.2,67.5 83.8,67.2 79.5,65.3" fill="#7a28d8"/><circle cx="79.4" cy="66.4" r="0.9" fill="#6420b0"/><polygon points="76.6,73.7 77.0,77.6 80.2,79.9 79.9,76.0" fill="#8a36e0"/><polygon points="97.4,18.2 94.0,17.1 90.8,18.7 94.2,19.8" fill="#8a36e0"/><circle cx="94.1" cy="18.4" r="1.2" fill="#6420b0"/><polygon points="57.1,72.0 57.0,74.6 58.5,76.7 58.6,74.1" fill="#9a48e8"/><polygon points="68.6,72.8 65.9,73.1 65.3,75.7 68.0,75.4" fill="#9a48e8"/><circle cx="67.0" cy="74.2" r="1.3" fill="#6420b0"/><polygon points="103.9,44.1 101.1,47.2 99.6,51.0 102.3,48.0" fill="#a050e8"/><circle cx="101.7" cy="47.6" r="0.6" fill="#6420b0"/><polygon points="57.1,38.2 62.5,39.1 67.9,38.4 62.5,37.5" fill="#a050e8"/><circle cx="62.5" cy="38.3" r="0.7" fill="#6420b0"/><polygon points="73.2,0.2 72.3,5.6 74.5,10.5 75.5,5.2" fill="#8030d0"/><circle cx="73.9" cy="5.4" r="1.4" fill="#6420b0"/><polygon points="113.6,50.3 109.0,48.7 104.4,50.3 109.0,51.9" fill="#7a28d8"/><polygon points="74.0,58.0 77.5,59.1 81.1,58.3 77.6,57.1" fill="#8030d0"/><circle cx="77.5" cy="58.1" r="0.8" fill="#6420b0"/><polygon points="2.2,-0.5 -0.6,2.3 -1.8,6.1 1.0,3.3" fill="#a050e8"/><polygon points="52.2,42.5 52.2,45.0 54.6,45.9 54.7,43.3" fill="#7a28d8"/><polygon points="54.5,23.6 50.6,24.6 48.5,28.1 52.4,27.1" fill="#8a36e0"/><circle cx="51.5" cy="25.8" r="1.3" fill="#6420b0"/><polygon points="23.1,36.5 25.1,39.1 28.4,38.5 26.3,36.0" fill="#a050e8"/><polygon points="26.5,27.9 23.1,28.1 20.7,30.5 24.1,30.3" fill="#a050e8"/><polygon points="96.8,34.6 101.4,37.2 106.7,37.9 102.1,35.3" fill="#9a48e8"/><circle cx="101.8" cy="36.2" r="0.9" fill="#6420b0"/><polygon points="72.8,46.9 72.7,50.0 74.9,52.1 75.0,49.1" fill="#7a28d8"/><circle cx="73.8" cy="49.5" r="1.1" fill="#6420b0"/><polygon points="78.1,44.5 78.5,49.1 80.9,53.1 80.5,48.5" fill="#7a28d8"/><circle cx="79.5" cy="48.8" r="0.9" fill="#6420b0"/><polygon points="73.7,4.9 70.0,5.0 66.9,7.1 70.6,6.9" fill="#a050e8"/><circle cx="70.3" cy="6.0" r="0.8" fill="#6420b0"/><polygon points="97.6,13.3 98.0,15.6 99.7,17.3 99.3,15.0" fill="#7a28d8"/><circle cx="98.6" cy="15.3" r="0.6" fill="#6420b0"/><polygon points="98.5,59.1 96.4,59.2 95.4,61.0 97.5,60.9" fill="#8030d0"/><circle cx="97.0" cy="60.1" r="0.9" fill="#6420b0"/><polygon points="44.1,82.5 45.3,84.5 47.6,85.1 46.3,83.1" fill="#7a28d8"/><circle cx="45.8" cy="83.8" r="0.7" fill="#6420b0"/><polygon points="57.7,7.3 55.3,8.4 55.9,10.9 58.3,9.8" fill="#8030d0"/><circle cx="56.8" cy="9.1" r="1.4" fill="#6420b0"/><polygon points="16.2,65.1 15.1,69.7 15.6,74.4 16.7,69.8" fill="#8a36e0"/><circle cx="15.9" cy="69.8" r="0.7" fill="#6420b0"/><polygon points="84.4,44.6 83.7,50.1 85.3,55.5 85.9,50.0" fill="#8030d0"/><polygon points="35.7,36.0 32.8,38.4 31.6,42.0 34.6,39.6" fill="#9a48e8"/><circle cx="33.7" cy="39.0" r="0.9" fill="#6420b0"/><polygon points="82.9,39.3 77.4,39.3 72.7,42.1 78.2,42.0" fill="#8a36e0"/><circle cx="77.8" cy="40.7" r="1.2" fill="#6420b0"/><polygon points="46.3,57.7 50.5,58.9 54.8,58.3 50.6,57.1" fill="#a050e8"/><polygon points="8.7,78.3 9.0,80.8 11.6,81.0 11.2,78.5" fill="#a050e8"/><circle cx="10.1" cy="79.7" r="1.4" fill="#6420b0"/><polygon points="1.4,57.0 3.3,58.3 5.3,57.1 3.4,55.8" fill="#8030d0"/><circle cx="3.4" cy="57.1" r="1.1" fill="#6420b0"/><polygon points="57.1,18.3 57.5,20.4 59.6,20.8 59.2,18.7" fill="#a050e8"/><circle cx="58.3" cy="19.6" r="1.1" fill="#6420b0"/><polygon points="9.8,16.4 5.4,16.2 1.9,18.9 6.3,19.1" fill="#8030d0"/><circle cx="5.9" cy="17.6" r="1.3" fill="#6420b0"/><polygon points="77.5,12.7 78.2,15.4 80.6,16.9 79.9,14.1" fill="#a050e8"/><circle cx="79.1" cy="14.8" r="0.9" fill="#6420b0"/><polygon points="13.0,24.1 13.8,26.2 15.8,27.4 15.0,25.2" fill="#8030d0"/><polygon points="104.6,18.4 108.8,20.1 113.3,19.2 109.1,17.4" fill="#8030d0"/><polygon points="69.7,41.7 67.9,44.2 69.0,47.2 70.8,44.6" fill="#9a48e8"/><polygon points="94.4,58.8 90.5,58.5 86.9,59.9 90.8,60.2" fill="#a050e8"/><polygon points="106.6,8.1 104.8,12.8 106.0,17.7 107.9,13.0" fill="#8a36e0"/><circle cx="106.3" cy="12.9" r="1.3" fill="#6420b0"/><polygon points="48.4,55.7 45.2,58.6 43.3,62.5 46.5,59.6" fill="#7a28d8"/><polygon points="4.9,31.1 0.8,33.4 -1.4,37.5 2.7,35.2" fill="#9a48e8"/><circle cx="1.7" cy="34.3" r="1.1" fill="#6420b0"/><polygon points="12.4,9.3 12.7,14.6 16.0,18.7 15.8,13.4" fill="#8030d0"/><circle cx="14.2" cy="14.0" r="1.4" fill="#6420b0"/><polygon points="38.9,43.3 37.1,45.8 37.0,48.9 38.8,46.4" fill="#a050e8"/><circle cx="38.0" cy="46.1" r="0.7" fill="#6420b0"/><polygon points="64.5,51.4 67.4,54.8 71.4,56.6 68.6,53.2" fill="#7a28d8"/><circle cx="68.0" cy="54.0" r="0.9" fill="#6420b0"/><polygon points="88.7,1.2 86.4,1.4 85.5,3.6 87.8,3.4" fill="#7a28d8"/><polygon points="5.7,36.8 7.2,39.6 10.2,40.4 8.7,37.6" fill="#9a48e8"/><polygon points="41.4,0.1 40.1,5.3 41.6,10.5 42.8,5.3" fill="#9a48e8"/><circle cx="41.5" cy="5.3" r="1.1" fill="#6420b0"/><polygon points="35.4,78.1 32.5,77.8 30.7,80.1 33.6,80.4" fill="#8030d0"/><polygon points="40.5,30.6 42.6,34.0 46.0,36.1 43.9,32.7" fill="#8030d0"/><polygon points="89.0,7.2 89.7,10.8 93.1,12.3 92.3,8.8" fill="#9a48e8"/><circle cx="91.0" cy="9.8" r="1.4" fill="#6420b0"/><polygon points="96.8,28.8 96.1,31.1 98.0,32.6 98.8,30.3" fill="#8030d0"/><circle cx="97.4" cy="30.7" r="1.2" fill="#6420b0"/><polygon points="39.8,26.0 39.5,29.7 40.7,33.2 41.0,29.5" fill="#9a48e8"/><circle cx="40.2" cy="29.6" r="0.7" fill="#6420b0"/><polygon points="0.7,3.0 3.1,4.4 5.8,3.8 3.4,2.5" fill="#9a48e8"/><polygon points="103.7,6.3 102.7,8.6 104.5,10.5 105.4,8.1" fill="#9a48e8"/><circle cx="104.1" cy="8.4" r="1.2" fill="#6420b0"/><polygon points="29.2,25.0 30.3,29.3 32.9,32.9 31.8,28.6" fill="#8030d0"/><polygon points="40.3,72.9 38.5,77.6 40.0,82.5 41.7,77.7" fill="#9a48e8"/><circle cx="40.1" cy="77.7" r="1.4" fill="#6420b0"/><polygon points="22.9,-28.4 26.9,-25.8 31.6,-26.3 27.6,-28.8" fill="#8030d0"/><circle cx="27.3" cy="-27.3" r="1.3" fill="#6420b0"/><polygon points="82.5,35.0 85.0,36.5 87.5,35.3 85.1,33.8" fill="#7a28d8"/><polygon points="72.0,75.7 66.8,76.0 62.2,78.5 67.4,78.2" fill="#8a36e0"/><polygon points="98.6,19.4 100.4,21.2 102.9,20.4 101.1,18.5" fill="#7a28d8"/><circle cx="100.8" cy="19.9" r="1.2" fill="#6420b0"/><polygon points="28.5,39.8 23.7,42.2 20.4,46.4 25.1,44.0" fill="#9a48e8"/><circle cx="24.4" cy="43.1" r="1.0" fill="#6420b0"/><polygon points="50.0,26.7 49.6,30.8 51.5,34.4 52.0,30.3" fill="#a050e8"/><circle cx="50.8" cy="30.6" r="1.0" fill="#6420b0"/><polygon points="93.9,69.6 89.9,69.7 87.4,72.8 91.4,72.7" fill="#9a48e8"/><circle cx="90.7" cy="71.2" r="1.4" fill="#6420b0"/><polygon points="77.1,76.3 76.9,80.3 78.6,84.0 78.8,80.0" fill="#a050e8"/><circle cx="77.9" cy="80.2" r="0.8" fill="#6420b0"/><polygon points="46.7,59.6 47.4,63.8 49.4,67.5 48.8,63.3" fill="#8a36e0"/><circle cx="48.1" cy="63.5" r="0.6" fill="#6420b0"/><polygon points="100.5,-0.7 102.1,2.6 105.2,4.7 103.5,1.3" fill="#a050e8"/><polygon points="40.8,65.2 39.1,69.3 39.8,73.7 41.5,69.6" fill="#a050e8"/><circle cx="40.3" cy="69.5" r="1.1" fill="#6420b0"/><polygon points="57.7,21.8 58.3,27.4 61.5,31.9 60.9,26.4" fill="#a050e8"/><circle cx="59.6" cy="26.9" r="1.2" fill="#6420b0"/><polygon points="70.8,32.3 67.9,36.9 67.0,42.3 69.9,37.7" fill="#7a28d8"/><polygon points="60.7,8.5 60.6,13.7 62.3,18.6 62.4,13.4" fill="#9a48e8"/><circle cx="61.5" cy="13.6" r="0.7" fill="#6420b0"/><polygon points="104.6,45.4 100.2,45.4 96.7,48.1 101.1,48.2" fill="#7a28d8"/><polygon points="43.3,1.3 42.8,4.0 45.2,5.3 45.7,2.6" fill="#8030d0"/><circle cx="44.3" cy="3.3" r="1.4" fill="#6420b0"/><polygon points="44.5,56.6 43.6,61.4 45.1,66.0 46.0,61.2" fill="#8030d0"/><polygon points="89.3,41.7 90.9,45.9 93.8,49.4 92.2,45.2" fill="#a050e8"/><polygon points="71.3,-3.3 67.1,-0.2 64.2,4.2 68.4,1.0" fill="#7a28d8"/><circle cx="67.7" cy="0.4" r="0.8" fill="#6420b0"/><circle cx="33.5" cy="68.1" r="0.7" fill="#9a70d0"/><circle cx="30.8" cy="41.3" r="0.6" fill="#5a3a90"/><circle cx="93.3" cy="80.5" r="0.9" fill="#8a60c0"/><circle cx="59.5" cy="53.2" r="0.6" fill="#8a60c0"/><circle cx="51.7" cy="32.6" r="0.8" fill="#5a3a90"/><circle cx="56.4" cy="13.3" r="0.9" fill="#9a70d0"/><circle cx="81.7" cy="53.2" r="0.9" fill="#8a60c0"/><circle cx="67.0" cy="14.9" r="0.8" fill="#9a70d0"/><circle cx="87.3" cy="11.0" r="1.0" fill="#8a60c0"/><circle cx="24.0" cy="50.9" r="0.9" fill="#9a70d0"/><circle cx="21.7" cy="15.2" r="0.8" fill="#9a70d0"/><circle cx="2.4" cy="29.5" r="0.7" fill="#6a40b0"/><circle cx="63.0" cy="38.8" r="0.5" fill="#6a40b0"/><circle cx="51.1" cy="11.7" r="1.0" fill="#9a70d0"/><circle cx="70.7" cy="21.9" r="0.8" fill="#9a70d0"/><circle cx="100.7" cy="73.5" r="0.6" fill="#5a3a90"/><circle cx="3.0" cy="73.0" r="0.5" fill="#8a60c0"/><circle cx="100.6" cy="15.3" r="0.7" fill="#5a3a90"/><circle cx="21.9" cy="3.2" r="0.7" fill="#5a3a90"/><circle cx="6.9" cy="80.6" r="0.8" fill="#5a3a90"/><circle cx="88.8" cy="52.9" r="0.6" fill="#8a60c0"/><circle cx="101.8" cy="2.4" r="0.6" fill="#6a40b0"/><circle cx="41.2" cy="5.9" r="0.7" fill="#8a60c0"/><circle cx="105.7" cy="60.1" r="0.7" fill="#8a60c0"/><circle cx="84.0" cy="61.7" r="0.8" fill="#5a3a90"/><circle cx="79.4" cy="70.6" r="0.6" fill="#6a40b0"/><circle cx="81.5" cy="80.5" r="0.7" fill="#5a3a90"/><circle cx="32.6" cy="5.2" r="1.0" fill="#8a60c0"/><circle cx="12.7" cy="67.3" r="0.7" fill="#8a60c0"/><circle cx="93.4" cy="12.8" r="0.9" fill="#5a3a90"/><circle cx="74.9" cy="75.6" r="0.5" fill="#8a60c0"/><circle cx="102.7" cy="46.9" r="0.9" fill="#8a60c0"/><circle cx="109.2" cy="71.8" r="0.6" fill="#9a70d0"/><circle cx="71.7" cy="3.1" r="0.7" fill="#5a3a90"/><circle cx="54.9" cy="45.9" r="0.8" fill="#8a60c0"/><circle cx="13.0" cy="70.8" r="0.8" fill="#8a60c0"/><circle cx="41.7" cy="34.5" r="0.8" fill="#8a60c0"/><circle cx="67.9" cy="57.5" r="0.5" fill="#6a40b0"/><circle cx="92.1" cy="59.1" r="0.6" fill="#8a60c0"/><circle cx="108.2" cy="55.3" r="0.8" fill="#6a40b0"/><circle cx="34.6" cy="41.2" r="0.8" fill="#8a60c0"/><circle cx="74.3" cy="37.4" r="0.6" fill="#5a3a90"/><circle cx="38.0" cy="32.3" r="0.9" fill="#6a40b0"/><circle cx="28.6" cy="45.5" r="0.7" fill="#5a3a90"/><circle cx="4.8" cy="13.7" r="1.0" fill="#8a60c0"/><circle cx="91.7" cy="14.1" r="1.0" fill="#8a60c0"/><circle cx="71.2" cy="62.6" r="0.5" fill="#9a70d0"/><circle cx="46.6" cy="56.5" r="0.6" fill="#6a40b0"/><circle cx="0.2" cy="65.2" r="0.9" fill="#9a70d0"/><circle cx="93.6" cy="14.3" r="0.9" fill="#5a3a90"/><circle cx="62.9" cy="79.1" r="0.7" fill="#5a3a90"/><circle cx="46.0" cy="39.7" r="0.9" fill="#9a70d0"/><circle cx="108.8" cy="14.2" r="0.6" fill="#9a70d0"/><circle cx="63.7" cy="43.2" r="0.8" fill="#5a3a90"/><circle cx="62.2" cy="20.9" r="0.9" fill="#9a70d0"/><circle cx="50.8" cy="7.4" r="0.8" fill="#9a70d0"/><circle cx="30.7" cy="79.2" r="0.9" fill="#5a3a90"/><circle cx="81.1" cy="80.7" r="0.6" fill="#9a70d0"/><circle cx="56.4" cy="15.7" r="0.9" fill="#9a70d0"/><circle cx="17.9" cy="5.8" r="0.6" fill="#9a70d0"/><circle cx="56.9" cy="60.4" r="0.6" fill="#8a60c0"/><circle cx="86.9" cy="3.5" r="0.9" fill="#6a40b0"/><circle cx="60.3" cy="24.8" r="0.9" fill="#8a60c0"/><circle cx="87.4" cy="73.5" r="0.8" fill="#8a60c0"/><circle cx="91.0" cy="41.2" r="0.8" fill="#5a3a90"/><circle cx="66.9" cy="13.0" r="0.8" fill="#9a70d0"/><circle cx="79.2" cy="4.6" r="0.6" fill="#9a70d0"/><circle cx="35.8" cy="24.0" r="0.7" fill="#6a40b0"/><circle cx="20.3" cy="3.9" r="0.6" fill="#5a3a90"/><circle cx="82.1" cy="21.7" r="0.5" fill="#5a3a90"/><circle cx="35.4" cy="34.3" r="0.6" fill="#8a60c0"/><circle cx="76.1" cy="39.4" r="0.8" fill="#9a70d0"/><circle cx="32.7" cy="53.9" r="0.9" fill="#8a60c0"/><circle cx="6.0" cy="73.7" r="1.0" fill="#6a40b0"/><circle cx="64.2" cy="1.7" r="0.6" fill="#5a3a90"/><circle cx="75.1" cy="46.4" r="0.7" fill="#9a70d0"/><circle cx="74.0" cy="63.4" r="0.6" fill="#5a3a90"/><circle cx="0.8" cy="16.8" r="0.6" fill="#6a40b0"/><circle cx="32.6" cy="9.8" r="1.0" fill="#6a40b0"/><circle cx="99.2" cy="8.7" r="0.7" fill="#8a60c0"/><circle cx="26.1" cy="72.7" r="0.8" fill="#9a70d0"/><circle cx="3.6" cy="22.7" r="0.8" fill="#8a60c0"/><circle cx="5.2" cy="67.2" r="0.8" fill="#8a60c0"/><circle cx="19.4" cy="73.9" r="0.6" fill="#6a40b0"/><circle cx="13.6" cy="16.4" r="0.6" fill="#8a60c0"/><circle cx="76.3" cy="71.9" r="0.8" fill="#8a60c0"/><circle cx="62.9" cy="78.6" r="0.7" fill="#6a40b0"/><circle cx="76.4" cy="17.2" r="0.6" fill="#9a70d0"/><circle cx="9.3" cy="67.2" r="0.8" fill="#5a3a90"/><circle cx="32.2" cy="63.6" r="1.0" fill="#5a3a90"/><circle cx="4.7" cy="25.5" r="1.0" fill="#6a40b0"/><circle cx="55.3" cy="11.5" r="0.6" fill="#5a3a90"/><circle cx="100.1" cy="34.6" r="0.9" fill="#9a70d0"/><circle cx="89.7" cy="78.0" r="0.8" fill="#8a60c0"/><circle cx="25.7" cy="51.2" r="0.5" fill="#8a60c0"/><circle cx="9.0" cy="11.7" r="0.6" fill="#6a40b0"/><circle cx="21.0" cy="30.7" r="0.7" fill="#8a60c0"/><circle cx="22.2" cy="27.7" r="0.7" fill="#5a3a90"/><circle cx="27.3" cy="21.2" r="1.0" fill="#5a3a90"/><circle cx="80.6" cy="67.9" r="0.6" fill="#6a40b0"/><circle cx="32.4" cy="64.7" r="0.6" fill="#8a60c0"/><circle cx="92.7" cy="2.7" r="0.7" fill="#6a40b0"/><circle cx="45.9" cy="76.8" r="0.8" fill="#9a70d0"/><circle cx="104.7" cy="61.7" r="0.6" fill="#6a40b0"/><circle cx="100.5" cy="75.4" r="0.5" fill="#8a60c0"/><circle cx="78.8" cy="42.6" r="0.6" fill="#5a3a90"/><circle cx="108.3" cy="14.9" r="0.6" fill="#5a3a90"/><circle cx="67.1" cy="14.5" r="1.0" fill="#6a40b0"/><circle cx="73.8" cy="74.3" r="0.7" fill="#9a70d0"/><circle cx="71.1" cy="48.1" r="0.9" fill="#8a60c0"/><circle cx="36.6" cy="5.9" r="0.9" fill="#5a3a90"/><circle cx="107.7" cy="9.5" r="0.5" fill="#8a60c0"/><circle cx="109.5" cy="22.7" r="1.0" fill="#9a70d0"/><circle cx="30.1" cy="51.1" r="0.7" fill="#5a3a90"/><circle cx="64.8" cy="18.4" r="0.7" fill="#9a70d0"/><circle cx="53.7" cy="53.8" r="0.9" fill="#5a3a90"/><circle cx="6.6" cy="3.4" r="0.9" fill="#9a70d0"/><circle cx="73.6" cy="58.2" r="0.9" fill="#8a60c0"/><circle cx="45.0" cy="52.8" r="0.9" fill="#6a40b0"/><circle cx="89.6" cy="79.3" r="0.6" fill="#5a3a90"/><circle cx="31.8" cy="61.5" r="1.0" fill="#9a70d0"/><circle cx="83.3" cy="72.2" r="0.9" fill="#8a60c0"/><circle cx="26.9" cy="9.7" r="0.6" fill="#6a40b0"/><circle cx="77.3" cy="32.0" r="0.8" fill="#9a70d0"/><circle cx="3.5" cy="56.2" r="0.5" fill="#6a40b0"/><circle cx="22.9" cy="67.6" r="0.8" fill="#5a3a90"/><circle cx="92.2" cy="12.9" r="0.8" fill="#5a3a90"/><circle cx="77.9" cy="81.5" r="0.6" fill="#8a60c0"/><circle cx="31.8" cy="0.3" r="0.9" fill="#8a60c0"/><circle cx="6.4" cy="18.5" r="0.8" fill="#8a60c0"/>
</svg>
<rect x="459.20" y="115.50" width="110.40" height="82.00" fill="#efefef"/>
<svg x="459.20" y="115.50" width="110.40" height="82.00" overflow="hidden">
<ellipse cx="40.0" cy="8.0" rx="9.0" ry="7.2" fill="#e2a8f0" opacity="0.45"/><ellipse cx="40.6" cy="14.0" rx="2.1" ry="1.6" transform="rotate(113 40.6 14.0)" fill="#c038e0" opacity="0.79"/><ellipse cx="45.7" cy="5.1" rx="2.5" ry="1.1" transform="rotate(129 45.7 5.1)" fill="#d050e8" opacity="0.88"/><ellipse cx="31.5" cy="9.0" rx="1.5" ry="1.7" transform="rotate(156 31.5 9.0)" fill="#d050e8" opacity="0.71"/><ellipse cx="50.4" cy="8.8" rx="1.6" ry="2.1" transform="rotate(8 50.4 8.8)" fill="#c038e0" opacity="0.88"/><ellipse cx="39.0" cy="14.4" rx="3.3" ry="1.3" transform="rotate(142 39.0 14.4)" fill="#a820c8" opacity="0.71"/><ellipse cx="42.0" cy="3.1" rx="3.4" ry="2.0" transform="rotate(18 42.0 3.1)" fill="#b028d8" opacity="0.75"/><ellipse cx="39.6" cy="15.2" rx="3.0" ry="2.0" transform="rotate(76 39.6 15.2)" fill="#a820c8" opacity="0.78"/><ellipse cx="34.0" cy="7.0" rx="1.7" ry="1.3" transform="rotate(165 34.0 7.0)" fill="#c038e0" opacity="0.89"/><ellipse cx="48.9" cy="7.6" rx="1.6" ry="2.0" transform="rotate(174 48.9 7.6)" fill="#d050e8" opacity="0.78"/><ellipse cx="39.1" cy="4.8" rx="3.1" ry="1.6" transform="rotate(51 39.1 4.8)" fill="#c038e0" opacity="0.74"/><ellipse cx="35.6" cy="3.8" rx="2.0" ry="0.9" transform="rotate(161 35.6 3.8)" fill="#c038e0" opacity="0.67"/><ellipse cx="41.4" cy="-1.7" rx="1.3" ry="1.7" transform="rotate(8 41.4 -1.7)" fill="#b838dc" opacity="0.78"/><ellipse cx="27.1" cy="4.6" rx="1.8" ry="1.1" transform="rotate(6 27.1 4.6)" fill="#c038e0" opacity="0.58"/><ellipse cx="38.8" cy="7.3" rx="1.7" ry="1.4" transform="rotate(110 38.8 7.3)" fill="#b028d8" opacity="0.83"/><ellipse cx="45.4" cy="7.4" rx="2.0" ry="1.0" transform="rotate(155 45.4 7.4)" fill="#a820c8" opacity="0.73"/><ellipse cx="31.4" cy="7.1" rx="2.6" ry="1.6" transform="rotate(112 31.4 7.1)" fill="#d050e8" opacity="0.66"/><ellipse cx="33.7" cy="2.3" rx="3.4" ry="1.4" transform="rotate(46 33.7 2.3)" fill="#c848e4" opacity="0.77"/><ellipse cx="46.2" cy="8.4" rx="2.5" ry="0.8" transform="rotate(111 46.2 8.4)" fill="#b838dc" opacity="0.60"/><ellipse cx="20.0" cy="25.0" rx="7.5" ry="6.0" fill="#e2a8f0" opacity="0.45"/><ellipse cx="17.0" cy="22.3" rx="2.0" ry="2.1" transform="rotate(110 17.0 22.3)" fill="#c848e4" opacity="0.85"/><ellipse cx="21.8" cy="25.2" rx="2.8" ry="2.1" transform="rotate(45 21.8 25.2)" fill="#a820c8" opacity="0.67"/><ellipse cx="17.5" cy="23.5" rx="1.6" ry="1.9" transform="rotate(152 17.5 23.5)" fill="#c848e4" opacity="0.67"/><ellipse cx="13.8" cy="29.8" rx="1.3" ry="1.6" transform="rotate(132 13.8 29.8)" fill="#c848e4" opacity="0.75"/><ellipse cx="17.7" cy="22.4" rx="2.0" ry="1.7" transform="rotate(117 17.7 22.4)" fill="#c038e0" opacity="0.59"/><ellipse cx="18.0" cy="28.2" rx="3.1" ry="1.4" transform="rotate(154 18.0 28.2)" fill="#b028d8" opacity="0.58"/><ellipse cx="19.8" cy="22.2" rx="2.5" ry="1.2" transform="rotate(142 19.8 22.2)" fill="#c038e0" opacity="0.76"/><ellipse cx="23.3" cy="31.8" rx="3.1" ry="1.1" transform="rotate(50 23.3 31.8)" fill="#b838dc" opacity="0.58"/><ellipse cx="15.1" cy="21.4" rx="2.2" ry="1.5" transform="rotate(153 15.1 21.4)" fill="#a820c8" opacity="0.69"/><ellipse cx="15.5" cy="27.1" rx="2.1" ry="2.1" transform="rotate(28 15.5 27.1)" fill="#c038e0" opacity="0.74"/><ellipse cx="90.0" cy="12.0" rx="7.5" ry="6.0" fill="#e2a8f0" opacity="0.45"/><ellipse cx="93.5" cy="7.1" rx="2.4" ry="1.6" transform="rotate(177 93.5 7.1)" fill="#b838dc" opacity="0.64"/><ellipse cx="89.7" cy="4.4" rx="2.7" ry="1.5" transform="rotate(52 89.7 4.4)" fill="#c848e4" opacity="0.91"/><ellipse cx="96.4" cy="6.0" rx="3.4" ry="1.0" transform="rotate(44 96.4 6.0)" fill="#c038e0" opacity="0.91"/><ellipse cx="86.1" cy="3.5" rx="3.3" ry="2.1" transform="rotate(104 86.1 3.5)" fill="#c038e0" opacity="0.74"/><ellipse cx="94.3" cy="15.3" rx="1.7" ry="0.8" transform="rotate(97 94.3 15.3)" fill="#c038e0" opacity="0.93"/><ellipse cx="86.5" cy="9.6" rx="1.8" ry="2.0" transform="rotate(86 86.5 9.6)" fill="#c038e0" opacity="0.69"/><ellipse cx="92.0" cy="16.7" rx="3.1" ry="1.0" transform="rotate(143 92.0 16.7)" fill="#b028d8" opacity="0.88"/><ellipse cx="97.0" cy="12.3" rx="3.2" ry="0.9" transform="rotate(49 97.0 12.3)" fill="#c848e4" opacity="0.80"/><ellipse cx="88.4" cy="11.8" rx="1.9" ry="1.9" transform="rotate(154 88.4 11.8)" fill="#b028d8" opacity="0.57"/><ellipse cx="95.5" cy="13.4" rx="1.3" ry="1.8" transform="rotate(93 95.5 13.4)" fill="#a820c8" opacity="0.68"/><ellipse cx="25.0" cy="62.0" rx="12.0" ry="9.6" fill="#e2a8f0" opacity="0.45"/><ellipse cx="22.1" cy="67.5" rx="2.7" ry="1.6" transform="rotate(65 22.1 67.5)" fill="#b028d8" opacity="0.95"/><ellipse cx="21.2" cy="63.4" rx="1.2" ry="1.8" transform="rotate(143 21.2 63.4)" fill="#d050e8" opacity="0.62"/><ellipse cx="17.4" cy="68.2" rx="3.0" ry="1.3" transform="rotate(144 17.4 68.2)" fill="#d050e8" opacity="0.90"/><ellipse cx="35.6" cy="64.9" rx="2.9" ry="1.2" transform="rotate(171 35.6 64.9)" fill="#a820c8" opacity="0.73"/><ellipse cx="25.3" cy="69.9" rx="2.8" ry="0.9" transform="rotate(76 25.3 69.9)" fill="#a820c8" opacity="0.60"/><ellipse cx="32.0" cy="63.0" rx="3.4" ry="1.6" transform="rotate(157 32.0 63.0)" fill="#c038e0" opacity="0.74"/><ellipse cx="35.5" cy="70.2" rx="2.7" ry="2.0" transform="rotate(143 35.5 70.2)" fill="#b838dc" opacity="0.59"/><ellipse cx="20.9" cy="69.2" rx="3.1" ry="1.8" transform="rotate(85 20.9 69.2)" fill="#b028d8" opacity="0.86"/><ellipse cx="28.4" cy="62.8" rx="1.4" ry="2.0" transform="rotate(32 28.4 62.8)" fill="#c038e0" opacity="0.69"/><ellipse cx="26.1" cy="60.8" rx="1.5" ry="1.5" transform="rotate(125 26.1 60.8)" fill="#c848e4" opacity="0.78"/><ellipse cx="25.7" cy="60.3" rx="3.0" ry="1.5" transform="rotate(129 25.7 60.3)" fill="#c038e0" opacity="0.77"/><ellipse cx="33.2" cy="66.8" rx="2.5" ry="2.0" transform="rotate(32 33.2 66.8)" fill="#c038e0" opacity="0.65"/><ellipse cx="27.6" cy="66.4" rx="2.6" ry="1.9" transform="rotate(71 27.6 66.4)" fill="#c848e4" opacity="0.79"/><ellipse cx="34.5" cy="58.9" rx="3.4" ry="1.3" transform="rotate(42 34.5 58.9)" fill="#a820c8" opacity="0.89"/><ellipse cx="33.1" cy="60.6" rx="2.5" ry="1.6" transform="rotate(166 33.1 60.6)" fill="#b838dc" opacity="0.74"/><ellipse cx="14.4" cy="51.3" rx="1.5" ry="0.9" transform="rotate(135 14.4 51.3)" fill="#b838dc" opacity="0.76"/><ellipse cx="13.1" cy="65.6" rx="1.6" ry="1.2" transform="rotate(36 13.1 65.6)" fill="#d050e8" opacity="0.76"/><ellipse cx="39.3" cy="57.0" rx="2.4" ry="1.9" transform="rotate(121 39.3 57.0)" fill="#a820c8" opacity="0.79"/><ellipse cx="5.2" cy="52.7" rx="3.2" ry="1.2" transform="rotate(48 5.2 52.7)" fill="#a820c8" opacity="0.63"/><ellipse cx="19.7" cy="60.0" rx="2.3" ry="2.0" transform="rotate(75 19.7 60.0)" fill="#b838dc" opacity="0.74"/><ellipse cx="17.7" cy="57.8" rx="3.1" ry="2.0" transform="rotate(100 17.7 57.8)" fill="#a820c8" opacity="0.95"/><ellipse cx="42.5" cy="68.8" rx="3.0" ry="2.0" transform="rotate(8 42.5 68.8)" fill="#b028d8" opacity="0.91"/><ellipse cx="16.7" cy="53.1" rx="1.4" ry="1.1" transform="rotate(46 16.7 53.1)" fill="#b028d8" opacity="0.86"/><ellipse cx="32.2" cy="68.8" rx="2.8" ry="0.9" transform="rotate(168 32.2 68.8)" fill="#b028d8" opacity="0.90"/><ellipse cx="21.7" cy="68.2" rx="2.9" ry="0.9" transform="rotate(17 21.7 68.2)" fill="#c848e4" opacity="0.56"/><ellipse cx="45.0" cy="72.0" rx="9.0" ry="7.2" fill="#e2a8f0" opacity="0.45"/><ellipse cx="35.7" cy="74.3" rx="2.0" ry="0.8" transform="rotate(60 35.7 74.3)" fill="#a820c8" opacity="0.74"/><ellipse cx="47.0" cy="78.2" rx="3.4" ry="1.3" transform="rotate(98 47.0 78.2)" fill="#c038e0" opacity="0.90"/><ellipse cx="50.7" cy="74.4" rx="2.2" ry="1.5" transform="rotate(45 50.7 74.4)" fill="#d050e8" opacity="0.93"/><ellipse cx="37.7" cy="77.9" rx="2.9" ry="1.2" transform="rotate(122 37.7 77.9)" fill="#b838dc" opacity="0.93"/><ellipse cx="46.2" cy="69.9" rx="3.4" ry="1.3" transform="rotate(102 46.2 69.9)" fill="#d050e8" opacity="0.60"/><ellipse cx="39.4" cy="72.2" rx="2.9" ry="1.7" transform="rotate(102 39.4 72.2)" fill="#b028d8" opacity="0.81"/><ellipse cx="44.6" cy="69.3" rx="2.1" ry="2.1" transform="rotate(82 44.6 69.3)" fill="#c038e0" opacity="0.92"/><ellipse cx="48.4" cy="75.3" rx="2.9" ry="1.6" transform="rotate(100 48.4 75.3)" fill="#b838dc" opacity="0.62"/><ellipse cx="34.6" cy="72.9" rx="2.8" ry="1.0" transform="rotate(33 34.6 72.9)" fill="#d050e8" opacity="0.77"/><ellipse cx="44.6" cy="67.5" rx="1.8" ry="1.3" transform="rotate(157 44.6 67.5)" fill="#c038e0" opacity="0.74"/><ellipse cx="43.8" cy="79.3" rx="2.4" ry="2.0" transform="rotate(170 43.8 79.3)" fill="#a820c8" opacity="0.77"/><ellipse cx="45.8" cy="67.6" rx="3.1" ry="1.0" transform="rotate(49 45.8 67.6)" fill="#c038e0" opacity="0.82"/><ellipse cx="32.9" cy="67.9" rx="1.5" ry="1.8" transform="rotate(102 32.9 67.9)" fill="#b838dc" opacity="0.85"/><ellipse cx="49.0" cy="64.7" rx="2.6" ry="1.0" transform="rotate(72 49.0 64.7)" fill="#b028d8" opacity="0.77"/><ellipse cx="46.8" cy="74.6" rx="3.2" ry="1.3" transform="rotate(53 46.8 74.6)" fill="#a820c8" opacity="0.91"/><ellipse cx="50.6" cy="70.5" rx="2.5" ry="1.6" transform="rotate(114 50.6 70.5)" fill="#d050e8" opacity="0.82"/><ellipse cx="41.4" cy="81.1" rx="2.3" ry="1.6" transform="rotate(131 41.4 81.1)" fill="#c038e0" opacity="0.59"/><ellipse cx="45.2" cy="68.5" rx="1.6" ry="1.7" transform="rotate(36 45.2 68.5)" fill="#d050e8" opacity="0.63"/><ellipse cx="88.0" cy="55.0" rx="10.5" ry="8.4" fill="#e2a8f0" opacity="0.45"/><ellipse cx="94.1" cy="43.2" rx="3.4" ry="1.0" transform="rotate(51 94.1 43.2)" fill="#b838dc" opacity="0.91"/><ellipse cx="96.2" cy="62.5" rx="2.6" ry="0.9" transform="rotate(65 96.2 62.5)" fill="#b028d8" opacity="0.75"/><ellipse cx="86.6" cy="55.0" rx="2.0" ry="1.3" transform="rotate(62 86.6 55.0)" fill="#b838dc" opacity="0.60"/><ellipse cx="94.0" cy="49.1" rx="3.3" ry="1.8" transform="rotate(133 94.0 49.1)" fill="#c848e4" opacity="0.95"/><ellipse cx="88.7" cy="56.9" rx="1.7" ry="1.8" transform="rotate(40 88.7 56.9)" fill="#c848e4" opacity="0.59"/><ellipse cx="90.7" cy="55.6" rx="1.7" ry="1.0" transform="rotate(89 90.7 55.6)" fill="#b838dc" opacity="0.58"/><ellipse cx="90.9" cy="51.9" rx="2.3" ry="0.8" transform="rotate(82 90.9 51.9)" fill="#b838dc" opacity="0.71"/><ellipse cx="94.3" cy="65.9" rx="2.9" ry="1.3" transform="rotate(67 94.3 65.9)" fill="#d050e8" opacity="0.69"/><ellipse cx="72.9" cy="63.6" rx="3.0" ry="1.2" transform="rotate(67 72.9 63.6)" fill="#a820c8" opacity="0.76"/><ellipse cx="88.8" cy="56.0" rx="2.5" ry="1.5" transform="rotate(115 88.8 56.0)" fill="#b028d8" opacity="0.59"/><ellipse cx="92.0" cy="60.7" rx="1.3" ry="0.8" transform="rotate(81 92.0 60.7)" fill="#a820c8" opacity="0.56"/><ellipse cx="86.8" cy="51.0" rx="1.3" ry="1.5" transform="rotate(164 86.8 51.0)" fill="#b028d8" opacity="0.65"/><ellipse cx="84.5" cy="57.3" rx="2.0" ry="1.0" transform="rotate(164 84.5 57.3)" fill="#d050e8" opacity="0.57"/><ellipse cx="87.2" cy="50.6" rx="3.0" ry="1.5" transform="rotate(168 87.2 50.6)" fill="#c848e4" opacity="0.75"/><ellipse cx="86.4" cy="54.5" rx="2.0" ry="2.2" transform="rotate(57 86.4 54.5)" fill="#c038e0" opacity="0.82"/><ellipse cx="97.2" cy="53.6" rx="1.2" ry="0.8" transform="rotate(16 97.2 53.6)" fill="#b028d8" opacity="0.75"/><ellipse cx="83.5" cy="55.4" rx="2.4" ry="1.3" transform="rotate(162 83.5 55.4)" fill="#a820c8" opacity="0.69"/><ellipse cx="81.5" cy="55.7" rx="2.7" ry="1.3" transform="rotate(135 81.5 55.7)" fill="#b838dc" opacity="0.93"/><ellipse cx="93.0" cy="57.4" rx="3.2" ry="1.0" transform="rotate(70 93.0 57.4)" fill="#c848e4" opacity="0.76"/><ellipse cx="89.3" cy="49.4" rx="3.1" ry="2.0" transform="rotate(69 89.3 49.4)" fill="#d050e8" opacity="0.69"/><ellipse cx="93.1" cy="64.2" rx="2.2" ry="1.4" transform="rotate(126 93.1 64.2)" fill="#c848e4" opacity="0.66"/><ellipse cx="93.4" cy="62.8" rx="2.6" ry="1.8" transform="rotate(70 93.4 62.8)" fill="#a820c8" opacity="0.57"/><ellipse cx="65.0" cy="75.0" rx="9.0" ry="7.2" fill="#e2a8f0" opacity="0.45"/><ellipse cx="69.7" cy="82.1" rx="3.1" ry="0.9" transform="rotate(125 69.7 82.1)" fill="#b838dc" opacity="0.59"/><ellipse cx="65.9" cy="84.2" rx="2.7" ry="2.0" transform="rotate(157 65.9 84.2)" fill="#a820c8" opacity="0.74"/><ellipse cx="70.9" cy="69.9" rx="3.5" ry="0.8" transform="rotate(35 70.9 69.9)" fill="#c038e0" opacity="0.69"/><ellipse cx="62.5" cy="79.9" rx="3.1" ry="1.1" transform="rotate(124 62.5 79.9)" fill="#b028d8" opacity="0.92"/><ellipse cx="75.8" cy="85.9" rx="1.5" ry="1.2" transform="rotate(38 75.8 85.9)" fill="#d050e8" opacity="0.76"/><ellipse cx="51.9" cy="74.7" rx="1.9" ry="2.0" transform="rotate(141 51.9 74.7)" fill="#a820c8" opacity="0.62"/><ellipse cx="74.9" cy="79.3" rx="1.5" ry="0.8" transform="rotate(174 74.9 79.3)" fill="#b028d8" opacity="0.93"/><ellipse cx="64.9" cy="77.3" rx="2.1" ry="2.0" transform="rotate(123 64.9 77.3)" fill="#c038e0" opacity="0.81"/><ellipse cx="65.9" cy="65.3" rx="2.0" ry="1.6" transform="rotate(80 65.9 65.3)" fill="#c038e0" opacity="0.67"/><ellipse cx="71.1" cy="73.2" rx="2.1" ry="1.0" transform="rotate(1 71.1 73.2)" fill="#c848e4" opacity="0.84"/><ellipse cx="69.9" cy="77.1" rx="2.3" ry="0.9" transform="rotate(99 69.9 77.1)" fill="#b838dc" opacity="0.70"/><ellipse cx="65.5" cy="73.3" rx="2.4" ry="1.1" transform="rotate(151 65.5 73.3)" fill="#c038e0" opacity="0.68"/><ellipse cx="12.0" cy="45.0" rx="6.0" ry="4.8" fill="#e2a8f0" opacity="0.45"/><ellipse cx="10.5" cy="45.6" rx="1.7" ry="1.0" transform="rotate(168 10.5 45.6)" fill="#b838dc" opacity="0.64"/><ellipse cx="16.6" cy="41.3" rx="2.3" ry="1.8" transform="rotate(153 16.6 41.3)" fill="#c848e4" opacity="0.93"/><ellipse cx="20.0" cy="40.5" rx="2.3" ry="1.9" transform="rotate(73 20.0 40.5)" fill="#d050e8" opacity="0.92"/><ellipse cx="9.6" cy="52.2" rx="1.6" ry="0.9" transform="rotate(130 9.6 52.2)" fill="#c848e4" opacity="0.75"/><ellipse cx="16.2" cy="46.4" rx="1.6" ry="1.1" transform="rotate(89 16.2 46.4)" fill="#c038e0" opacity="0.69"/><ellipse cx="11.7" cy="39.7" rx="1.9" ry="0.9" transform="rotate(54 11.7 39.7)" fill="#a820c8" opacity="0.73"/><ellipse cx="13.3" cy="48.6" rx="3.1" ry="1.2" transform="rotate(68 13.3 48.6)" fill="#b838dc" opacity="0.70"/><ellipse cx="13.8" cy="47.3" rx="2.3" ry="1.5" transform="rotate(98 13.8 47.3)" fill="#c848e4" opacity="0.93"/><ellipse cx="70.0" cy="30.0" rx="6.0" ry="4.8" fill="#e2a8f0" opacity="0.45"/><ellipse cx="69.8" cy="30.8" rx="2.1" ry="1.3" transform="rotate(150 69.8 30.8)" fill="#b838dc" opacity="0.65"/><ellipse cx="70.2" cy="29.6" rx="1.5" ry="1.5" transform="rotate(96 70.2 29.6)" fill="#b028d8" opacity="0.93"/><ellipse cx="81.5" cy="30.1" rx="3.0" ry="1.3" transform="rotate(174 81.5 30.1)" fill="#c848e4" opacity="0.94"/><ellipse cx="72.5" cy="30.4" rx="1.2" ry="1.4" transform="rotate(61 72.5 30.4)" fill="#c038e0" opacity="0.79"/><ellipse cx="71.6" cy="26.8" rx="1.8" ry="1.7" transform="rotate(90 71.6 26.8)" fill="#b838dc" opacity="0.65"/><ellipse cx="74.1" cy="30.9" rx="2.6" ry="1.7" transform="rotate(164 74.1 30.9)" fill="#d050e8" opacity="0.65"/><ellipse cx="74.4" cy="34.1" rx="3.0" ry="1.5" transform="rotate(150 74.4 34.1)" fill="#d050e8" opacity="0.60"/><ellipse cx="71.2" cy="30.1" rx="2.3" ry="0.9" transform="rotate(147 71.2 30.1)" fill="#a820c8" opacity="0.74"/><ellipse cx="100.0" cy="75.0" rx="6.0" ry="4.8" fill="#e2a8f0" opacity="0.45"/><ellipse cx="95.3" cy="68.7" rx="3.1" ry="1.6" transform="rotate(75 95.3 68.7)" fill="#d050e8" opacity="0.80"/><ellipse cx="99.6" cy="76.2" rx="1.5" ry="2.0" transform="rotate(18 99.6 76.2)" fill="#c848e4" opacity="0.73"/><ellipse cx="99.5" cy="77.4" rx="1.9" ry="1.5" transform="rotate(104 99.5 77.4)" fill="#b028d8" opacity="0.76"/><ellipse cx="93.4" cy="78.3" rx="3.1" ry="2.1" transform="rotate(110 93.4 78.3)" fill="#c038e0" opacity="0.68"/><ellipse cx="98.4" cy="74.1" rx="1.5" ry="1.9" transform="rotate(136 98.4 74.1)" fill="#c848e4" opacity="0.59"/><ellipse cx="98.1" cy="72.3" rx="2.4" ry="2.1" transform="rotate(173 98.1 72.3)" fill="#b838dc" opacity="0.73"/><ellipse cx="98.6" cy="77.7" rx="2.7" ry="2.1" transform="rotate(71 98.6 77.7)" fill="#c038e0" opacity="0.66"/><ellipse cx="109.1" cy="72.6" rx="1.9" ry="1.3" transform="rotate(51 109.1 72.6)" fill="#b028d8" opacity="0.72"/><circle cx="45.6" cy="73.7" r="0.5" fill="#7a5aa0"/><circle cx="22.1" cy="6.5" r="0.7" fill="#4a3a70"/><circle cx="92.5" cy="51.8" r="0.8" fill="#4a3a70"/><circle cx="107.6" cy="56.7" r="0.6" fill="#7a5aa0"/><circle cx="53.3" cy="22.0" r="0.5" fill="#4a3a70"/><circle cx="53.7" cy="13.8" r="0.8" fill="#6a4a90"/><circle cx="19.6" cy="81.4" r="0.7" fill="#7a5aa0"/><circle cx="15.7" cy="4.5" r="0.6" fill="#6a4a90"/><circle cx="71.6" cy="10.7" r="0.5" fill="#6a4a90"/><circle cx="106.1" cy="43.8" r="0.8" fill="#7a5aa0"/><circle cx="47.8" cy="14.9" r="0.6" fill="#4a3a70"/><circle cx="14.5" cy="11.9" r="0.6" fill="#6a4a90"/><circle cx="103.5" cy="49.5" r="0.5" fill="#6a4a90"/><circle cx="40.9" cy="11.7" r="0.5" fill="#7a5aa0"/><circle cx="39.1" cy="78.0" r="0.5" fill="#7a5aa0"/><circle cx="93.5" cy="38.8" r="0.7" fill="#404060"/><circle cx="94.3" cy="36.3" r="0.6" fill="#7a5aa0"/><circle cx="59.4" cy="36.3" r="0.8" fill="#7a5aa0"/><circle cx="22.1" cy="48.7" r="0.6" fill="#6a4a90"/><circle cx="94.8" cy="78.6" r="0.6" fill="#404060"/><circle cx="22.3" cy="4.4" r="0.6" fill="#4a3a70"/><circle cx="96.3" cy="9.4" r="0.5" fill="#4a3a70"/><circle cx="13.5" cy="33.1" r="0.7" fill="#404060"/><circle cx="84.6" cy="7.6" r="0.6" fill="#7a5aa0"/><circle cx="65.2" cy="17.9" r="0.7" fill="#7a5aa0"/><circle cx="41.2" cy="26.1" r="0.7" fill="#404060"/><circle cx="85.1" cy="59.3" r="0.8" fill="#404060"/><circle cx="92.2" cy="23.5" r="0.6" fill="#404060"/><circle cx="13.6" cy="41.1" r="0.7" fill="#404060"/><circle cx="27.4" cy="35.6" r="0.6" fill="#404060"/><circle cx="52.8" cy="43.6" r="0.8" fill="#6a4a90"/><circle cx="58.3" cy="36.2" r="0.5" fill="#4a3a70"/><circle cx="47.0" cy="69.5" r="0.5" fill="#404060"/><circle cx="94.3" cy="31.5" r="0.6" fill="#4a3a70"/><circle cx="23.7" cy="45.0" r="0.6" fill="#4a3a70"/><circle cx="95.8" cy="58.3" r="0.5" fill="#404060"/><circle cx="41.1" cy="30.4" r="0.6" fill="#7a5aa0"/><circle cx="71.9" cy="71.8" r="0.5" fill="#7a5aa0"/><circle cx="24.3" cy="30.4" r="0.5" fill="#4a3a70"/><circle cx="9.0" cy="26.3" r="0.5" fill="#404060"/><circle cx="3.1" cy="60.1" r="0.7" fill="#404060"/><circle cx="81.4" cy="67.9" r="0.6" fill="#6a4a90"/><circle cx="75.3" cy="9.9" r="0.5" fill="#7a5aa0"/><circle cx="15.3" cy="25.1" r="0.5" fill="#6a4a90"/><circle cx="19.2" cy="72.4" r="0.5" fill="#7a5aa0"/><circle cx="38.8" cy="0.6" r="0.6" fill="#6a4a90"/><circle cx="15.5" cy="16.7" r="0.7" fill="#7a5aa0"/><circle cx="104.8" cy="24.4" r="0.5" fill="#404060"/><circle cx="108.1" cy="56.7" r="0.5" fill="#4a3a70"/><circle cx="96.8" cy="61.2" r="0.5" fill="#404060"/><circle cx="1.0" cy="39.4" r="0.7" fill="#7a5aa0"/><circle cx="10.4" cy="54.1" r="0.8" fill="#7a5aa0"/><circle cx="25.0" cy="26.5" r="0.8" fill="#7a5aa0"/><circle cx="5.7" cy="42.5" r="0.7" fill="#6a4a90"/><circle cx="9.4" cy="19.0" r="0.8" fill="#7a5aa0"/><circle cx="101.4" cy="32.5" r="0.8" fill="#404060"/><circle cx="73.0" cy="43.3" r="0.7" fill="#6a4a90"/><circle cx="37.8" cy="48.2" r="0.7" fill="#404060"/><circle cx="39.2" cy="63.0" r="0.6" fill="#6a4a90"/><circle cx="79.6" cy="70.3" r="0.6" fill="#6a4a90"/><circle cx="94.3" cy="15.1" r="0.8" fill="#4a3a70"/><circle cx="13.2" cy="74.9" r="0.8" fill="#7a5aa0"/><circle cx="34.8" cy="61.9" r="0.6" fill="#404060"/><circle cx="42.4" cy="69.8" r="0.5" fill="#4a3a70"/><circle cx="40.5" cy="18.3" r="0.6" fill="#404060"/><circle cx="29.1" cy="56.9" r="0.7" fill="#404060"/><circle cx="22.9" cy="24.9" r="0.7" fill="#6a4a90"/><circle cx="27.1" cy="57.4" r="0.8" fill="#6a4a90"/><circle cx="40.3" cy="19.1" r="0.7" fill="#7a5aa0"/><circle cx="46.9" cy="14.5" r="0.6" fill="#404060"/><circle cx="6.2" cy="64.5" r="0.6" fill="#7a5aa0"/><circle cx="63.9" cy="22.0" r="0.7" fill="#7a5aa0"/><circle cx="24.5" cy="67.0" r="0.6" fill="#7a5aa0"/><circle cx="109.9" cy="39.6" r="0.5" fill="#6a4a90"/><circle cx="46.3" cy="70.9" r="0.7" fill="#6a4a90"/><circle cx="11.9" cy="43.3" r="0.6" fill="#404060"/><circle cx="59.5" cy="70.8" r="0.6" fill="#7a5aa0"/><circle cx="4.6" cy="28.5" r="0.7" fill="#6a4a90"/><circle cx="77.5" cy="80.0" r="0.7" fill="#404060"/><circle cx="74.8" cy="23.7" r="0.8" fill="#404060"/><circle cx="92.3" cy="61.3" r="0.8" fill="#404060"/><circle cx="46.7" cy="45.8" r="0.6" fill="#404060"/><circle cx="40.9" cy="14.9" r="0.7" fill="#404060"/><circle cx="62.1" cy="31.6" r="0.6" fill="#4a3a70"/><circle cx="17.9" cy="75.0" r="0.5" fill="#7a5aa0"/><circle cx="43.5" cy="16.1" r="0.7" fill="#7a5aa0"/><circle cx="40.4" cy="59.4" r="0.7" fill="#7a5aa0"/><circle cx="18.3" cy="54.6" r="0.5" fill="#4a3a70"/><circle cx="59.3" cy="75.7" r="0.6" fill="#404060"/><circle cx="7.3" cy="22.7" r="0.5" fill="#404060"/><circle cx="28.8" cy="17.4" r="0.6" fill="#4a3a70"/><circle cx="47.9" cy="21.5" r="0.6" fill="#6a4a90"/><circle cx="86.1" cy="77.7" r="0.5" fill="#6a4a90"/><circle cx="28.5" cy="28.5" r="0.8" fill="#404060"/><circle cx="10.9" cy="57.7" r="0.5" fill="#4a3a70"/><circle cx="50.5" cy="79.9" r="0.8" fill="#404060"/><circle cx="15.7" cy="3.5" r="0.6" fill="#7a5aa0"/><circle cx="56.2" cy="30.5" r="0.7" fill="#7a5aa0"/><circle cx="55.7" cy="56.4" r="0.8" fill="#7a5aa0"/><circle cx="47.5" cy="24.2" r="0.7" fill="#404060"/><circle cx="42.8" cy="3.8" r="0.6" fill="#6a4a90"/><circle cx="0.2" cy="64.9" r="0.7" fill="#6a4a90"/><circle cx="105.2" cy="69.5" r="0.6" fill="#404060"/><circle cx="69.4" cy="46.2" r="0.5" fill="#404060"/><circle cx="17.5" cy="80.4" r="0.6" fill="#4a3a70"/><circle cx="81.5" cy="12.3" r="0.7" fill="#404060"/><circle cx="66.7" cy="13.2" r="0.5" fill="#6a4a90"/><circle cx="8.8" cy="55.8" r="0.5" fill="#4a3a70"/><circle cx="9.1" cy="64.4" r="0.7" fill="#7a5aa0"/><circle cx="61.0" cy="54.4" r="0.6" fill="#7a5aa0"/><circle cx="77.4" cy="0.2" r="0.7" fill="#404060"/><circle cx="45.8" cy="0.6" r="0.7" fill="#404060"/><circle cx="36.2" cy="79.6" r="0.5" fill="#4a3a70"/><circle cx="23.3" cy="1.0" r="0.8" fill="#7a5aa0"/><circle cx="79.6" cy="51.4" r="0.6" fill="#7a5aa0"/><circle cx="88.3" cy="28.3" r="0.5" fill="#6a4a90"/><circle cx="43.3" cy="32.4" r="0.7" fill="#4a3a70"/><circle cx="66.0" cy="23.8" r="0.6" fill="#4a3a70"/><circle cx="65.0" cy="18.3" r="0.7" fill="#7a5aa0"/><circle cx="29.3" cy="62.5" r="0.7" fill="#7a5aa0"/><circle cx="81.2" cy="42.8" r="0.7" fill="#7a5aa0"/><circle cx="88.3" cy="14.6" r="0.7" fill="#7a5aa0"/><circle cx="11.0" cy="76.0" r="0.6" fill="#6a4a90"/><circle cx="13.9" cy="82.0" r="0.5" fill="#6a4a90"/><circle cx="58.1" cy="24.2" r="0.6" fill="#4a3a70"/><circle cx="53.0" cy="20.3" r="0.5" fill="#7a5aa0"/><circle cx="2.5" cy="51.0" r="0.7" fill="#4a3a70"/><circle cx="95.9" cy="74.3" r="0.6" fill="#4a3a70"/><circle cx="32.7" cy="67.0" r="0.6" fill="#7a5aa0"/><circle cx="33.7" cy="10.9" r="0.6" fill="#4a3a70"/>
</svg>
<rect x="574.00" y="115.50" width="110.40" height="82.00" fill="#efefef"/>
<svg x="574.00" y="115.50" width="110.40" height="82.00" overflow="hidden">
<ellipse cx="15.0" cy="10.0" rx="9.0" ry="7.2" fill="#e2a8f0" opacity="0.45"/><ellipse cx="15.2" cy="12.2" rx="2.1" ry="1.0" transform="rotate(12 15.2 12.2)" fill="#a820c8" opacity="0.77"/><ellipse cx="10.5" cy="24.1" rx="1.3" ry="1.5" transform="rotate(65 10.5 24.1)" fill="#b028d8" opacity="0.88"/><ellipse cx="13.9" cy="21.5" rx="1.3" ry="1.7" transform="rotate(47 13.9 21.5)" fill="#c848e4" opacity="0.63"/><ellipse cx="11.9" cy="16.3" rx="2.9" ry="2.0" transform="rotate(158 11.9 16.3)" fill="#c038e0" opacity="0.89"/><ellipse cx="11.9" cy="14.1" rx="1.8" ry="1.1" transform="rotate(50 11.9 14.1)" fill="#d050e8" opacity="0.89"/><ellipse cx="20.0" cy="10.2" rx="2.8" ry="1.2" transform="rotate(138 20.0 10.2)" fill="#b028d8" opacity="0.72"/><ellipse cx="9.8" cy="7.0" rx="1.6" ry="1.2" transform="rotate(146 9.8 7.0)" fill="#c038e0" opacity="0.58"/><ellipse cx="-5.2" cy="13.9" rx="2.4" ry="1.7" transform="rotate(126 -5.2 13.9)" fill="#b028d8" opacity="0.95"/><ellipse cx="17.1" cy="14.7" rx="1.7" ry="1.7" transform="rotate(50 17.1 14.7)" fill="#c848e4" opacity="0.72"/><ellipse cx="7.8" cy="6.4" rx="1.7" ry="1.3" transform="rotate(151 7.8 6.4)" fill="#b838dc" opacity="0.64"/><ellipse cx="15.8" cy="3.4" rx="1.7" ry="1.3" transform="rotate(32 15.8 3.4)" fill="#a820c8" opacity="0.56"/><ellipse cx="13.4" cy="11.6" rx="3.4" ry="1.2" transform="rotate(122 13.4 11.6)" fill="#c848e4" opacity="0.56"/><ellipse cx="11.2" cy="22.1" rx="3.0" ry="1.4" transform="rotate(170 11.2 22.1)" fill="#d050e8" opacity="0.82"/><ellipse cx="22.3" cy="13.1" rx="3.3" ry="1.2" transform="rotate(45 22.3 13.1)" fill="#d050e8" opacity="0.93"/><ellipse cx="14.6" cy="10.6" rx="1.3" ry="1.0" transform="rotate(141 14.6 10.6)" fill="#c848e4" opacity="0.95"/><ellipse cx="9.2" cy="7.8" rx="1.7" ry="2.1" transform="rotate(20 9.2 7.8)" fill="#c038e0" opacity="0.57"/><ellipse cx="45.0" cy="10.0" rx="9.0" ry="7.2" fill="#e2a8f0" opacity="0.45"/><ellipse cx="49.4" cy="16.3" rx="1.5" ry="0.9" transform="rotate(88 49.4 16.3)" fill="#b028d8" opacity="0.68"/><ellipse cx="56.1" cy="12.0" rx="1.9" ry="2.2" transform="rotate(117 56.1 12.0)" fill="#b028d8" opacity="0.74"/><ellipse cx="45.3" cy="14.9" rx="1.3" ry="1.4" transform="rotate(45 45.3 14.9)" fill="#a820c8" opacity="0.88"/><ellipse cx="43.5" cy="10.0" rx="1.8" ry="1.1" transform="rotate(37 43.5 10.0)" fill="#b028d8" opacity="0.72"/><ellipse cx="44.6" cy="14.2" rx="3.2" ry="1.2" transform="rotate(21 44.6 14.2)" fill="#d050e8" opacity="0.71"/><ellipse cx="52.1" cy="5.9" rx="3.0" ry="1.8" transform="rotate(89 52.1 5.9)" fill="#c038e0" opacity="0.72"/><ellipse cx="52.1" cy="7.3" rx="3.4" ry="1.0" transform="rotate(53 52.1 7.3)" fill="#a820c8" opacity="0.87"/><ellipse cx="38.1" cy="3.1" rx="2.4" ry="1.7" transform="rotate(123 38.1 3.1)" fill="#c848e4" opacity="0.69"/><ellipse cx="39.5" cy="13.5" rx="3.2" ry="1.2" transform="rotate(113 39.5 13.5)" fill="#b028d8" opacity="0.57"/><ellipse cx="47.5" cy="8.5" rx="3.4" ry="1.7" transform="rotate(11 47.5 8.5)" fill="#b028d8" opacity="0.83"/><ellipse cx="38.4" cy="11.2" rx="2.1" ry="1.3" transform="rotate(144 38.4 11.2)" fill="#b028d8" opacity="0.92"/><ellipse cx="57.2" cy="10.8" rx="1.5" ry="1.9" transform="rotate(141 57.2 10.8)" fill="#b028d8" opacity="0.77"/><ellipse cx="47.9" cy="7.8" rx="2.7" ry="1.3" transform="rotate(161 47.9 7.8)" fill="#a820c8" opacity="0.92"/><ellipse cx="42.7" cy="10.7" rx="2.8" ry="1.0" transform="rotate(101 42.7 10.7)" fill="#c848e4" opacity="0.79"/><ellipse cx="48.7" cy="13.5" rx="3.0" ry="1.5" transform="rotate(2 48.7 13.5)" fill="#c848e4" opacity="0.88"/><ellipse cx="51.5" cy="13.1" rx="2.1" ry="1.9" transform="rotate(56 51.5 13.1)" fill="#b028d8" opacity="0.85"/><ellipse cx="80.0" cy="8.0" rx="9.0" ry="7.2" fill="#e2a8f0" opacity="0.45"/><ellipse cx="83.7" cy="4.2" rx="1.4" ry="2.1" transform="rotate(144 83.7 4.2)" fill="#c848e4" opacity="0.75"/><ellipse cx="69.2" cy="11.8" rx="3.0" ry="0.9" transform="rotate(159 69.2 11.8)" fill="#b028d8" opacity="0.80"/><ellipse cx="86.2" cy="5.7" rx="1.5" ry="1.6" transform="rotate(67 86.2 5.7)" fill="#b028d8" opacity="0.62"/><ellipse cx="84.1" cy="12.5" rx="2.0" ry="1.6" transform="rotate(163 84.1 12.5)" fill="#b838dc" opacity="0.62"/><ellipse cx="78.2" cy="6.0" rx="1.5" ry="1.9" transform="rotate(108 78.2 6.0)" fill="#d050e8" opacity="0.58"/><ellipse cx="80.3" cy="17.3" rx="2.0" ry="1.9" transform="rotate(177 80.3 17.3)" fill="#b838dc" opacity="0.55"/><ellipse cx="92.4" cy="11.4" rx="2.5" ry="2.1" transform="rotate(141 92.4 11.4)" fill="#d050e8" opacity="0.67"/><ellipse cx="87.1" cy="1.8" rx="2.6" ry="1.4" transform="rotate(25 87.1 1.8)" fill="#d050e8" opacity="0.69"/><ellipse cx="78.3" cy="5.8" rx="1.4" ry="1.0" transform="rotate(146 78.3 5.8)" fill="#b028d8" opacity="0.66"/><ellipse cx="83.7" cy="6.8" rx="3.0" ry="1.7" transform="rotate(159 83.7 6.8)" fill="#c038e0" opacity="0.71"/><ellipse cx="83.5" cy="6.8" rx="2.7" ry="1.3" transform="rotate(54 83.5 6.8)" fill="#c038e0" opacity="0.79"/><ellipse cx="70.1" cy="6.8" rx="1.4" ry="1.3" transform="rotate(146 70.1 6.8)" fill="#c038e0" opacity="0.61"/><ellipse cx="73.9" cy="5.2" rx="2.5" ry="2.1" transform="rotate(137 73.9 5.2)" fill="#c038e0" opacity="0.62"/><ellipse cx="67.6" cy="9.3" rx="1.7" ry="1.9" transform="rotate(119 67.6 9.3)" fill="#b838dc" opacity="0.71"/><ellipse cx="100.0" cy="25.0" rx="9.0" ry="7.2" fill="#e2a8f0" opacity="0.45"/><ellipse cx="89.6" cy="19.0" rx="2.8" ry="1.2" transform="rotate(41 89.6 19.0)" fill="#c848e4" opacity="0.76"/><ellipse cx="93.5" cy="24.0" rx="3.0" ry="1.5" transform="rotate(175 93.5 24.0)" fill="#c848e4" opacity="0.66"/><ellipse cx="99.2" cy="25.4" rx="1.6" ry="1.6" transform="rotate(125 99.2 25.4)" fill="#d050e8" opacity="0.88"/><ellipse cx="95.1" cy="27.7" rx="1.3" ry="1.5" transform="rotate(82 95.1 27.7)" fill="#b838dc" opacity="0.92"/><ellipse cx="95.9" cy="22.5" rx="1.4" ry="1.2" transform="rotate(40 95.9 22.5)" fill="#a820c8" opacity="0.91"/><ellipse cx="100.6" cy="22.3" rx="1.7" ry="1.2" transform="rotate(171 100.6 22.3)" fill="#b028d8" opacity="0.71"/><ellipse cx="92.7" cy="21.7" rx="2.8" ry="1.6" transform="rotate(3 92.7 21.7)" fill="#b028d8" opacity="0.61"/><ellipse cx="101.3" cy="25.7" rx="1.9" ry="1.0" transform="rotate(11 101.3 25.7)" fill="#b838dc" opacity="0.67"/><ellipse cx="107.2" cy="20.2" rx="2.9" ry="1.7" transform="rotate(171 107.2 20.2)" fill="#b838dc" opacity="0.84"/><ellipse cx="91.4" cy="22.3" rx="2.9" ry="1.6" transform="rotate(90 91.4 22.3)" fill="#b028d8" opacity="0.64"/><ellipse cx="97.9" cy="30.5" rx="2.1" ry="1.0" transform="rotate(160 97.9 30.5)" fill="#d050e8" opacity="0.71"/><ellipse cx="95.1" cy="16.3" rx="2.0" ry="1.3" transform="rotate(76 95.1 16.3)" fill="#c038e0" opacity="0.66"/><ellipse cx="97.7" cy="21.3" rx="3.0" ry="0.9" transform="rotate(21 97.7 21.3)" fill="#d050e8" opacity="0.88"/><ellipse cx="100.9" cy="31.1" rx="2.3" ry="1.8" transform="rotate(33 100.9 31.1)" fill="#a820c8" opacity="0.95"/><ellipse cx="96.3" cy="14.6" rx="3.4" ry="1.3" transform="rotate(153 96.3 14.6)" fill="#d050e8" opacity="0.78"/><ellipse cx="106.5" cy="29.2" rx="3.3" ry="1.2" transform="rotate(116 106.5 29.2)" fill="#a820c8" opacity="0.79"/><ellipse cx="35.0" cy="35.0" rx="9.0" ry="7.2" fill="#e2a8f0" opacity="0.45"/><ellipse cx="43.3" cy="36.6" rx="1.8" ry="2.0" transform="rotate(119 43.3 36.6)" fill="#c848e4" opacity="0.86"/><ellipse cx="23.7" cy="36.3" rx="3.1" ry="0.9" transform="rotate(42 23.7 36.3)" fill="#c848e4" opacity="0.90"/><ellipse cx="29.9" cy="28.8" rx="2.6" ry="1.5" transform="rotate(178 29.9 28.8)" fill="#c848e4" opacity="0.92"/><ellipse cx="35.8" cy="36.3" rx="2.4" ry="2.0" transform="rotate(128 35.8 36.3)" fill="#c038e0" opacity="0.63"/><ellipse cx="44.4" cy="38.6" rx="3.3" ry="1.8" transform="rotate(21 44.4 38.6)" fill="#d050e8" opacity="0.89"/><ellipse cx="38.9" cy="36.5" rx="1.8" ry="2.1" transform="rotate(160 38.9 36.5)" fill="#c038e0" opacity="0.55"/><ellipse cx="33.7" cy="31.9" rx="1.8" ry="1.8" transform="rotate(62 33.7 31.9)" fill="#c848e4" opacity="0.89"/><ellipse cx="30.9" cy="31.4" rx="1.6" ry="1.5" transform="rotate(12 30.9 31.4)" fill="#d050e8" opacity="0.90"/><ellipse cx="32.2" cy="42.0" rx="3.0" ry="1.8" transform="rotate(79 32.2 42.0)" fill="#b028d8" opacity="0.64"/><ellipse cx="28.6" cy="35.7" rx="3.4" ry="1.3" transform="rotate(164 28.6 35.7)" fill="#b838dc" opacity="0.92"/><ellipse cx="26.6" cy="39.3" rx="1.7" ry="1.2" transform="rotate(16 26.6 39.3)" fill="#a820c8" opacity="0.66"/><ellipse cx="31.9" cy="45.4" rx="1.5" ry="1.9" transform="rotate(16 31.9 45.4)" fill="#b028d8" opacity="0.80"/><ellipse cx="30.8" cy="24.3" rx="1.8" ry="1.1" transform="rotate(116 30.8 24.3)" fill="#c038e0" opacity="0.81"/><ellipse cx="42.8" cy="35.3" rx="1.7" ry="0.9" transform="rotate(93 42.8 35.3)" fill="#c038e0" opacity="0.60"/><ellipse cx="40.0" cy="34.3" rx="2.5" ry="1.7" transform="rotate(163 40.0 34.3)" fill="#c038e0" opacity="0.81"/><ellipse cx="47.8" cy="34.6" rx="2.9" ry="1.9" transform="rotate(144 47.8 34.6)" fill="#b838dc" opacity="0.63"/><ellipse cx="65.0" cy="30.0" rx="7.5" ry="6.0" fill="#e2a8f0" opacity="0.45"/><ellipse cx="69.3" cy="30.8" rx="2.0" ry="2.2" transform="rotate(109 69.3 30.8)" fill="#c848e4" opacity="0.94"/><ellipse cx="69.4" cy="35.7" rx="1.3" ry="0.9" transform="rotate(29 69.4 35.7)" fill="#c038e0" opacity="0.82"/><ellipse cx="64.2" cy="39.0" rx="2.7" ry="1.5" transform="rotate(152 64.2 39.0)" fill="#b028d8" opacity="0.71"/><ellipse cx="60.3" cy="27.2" rx="1.9" ry="1.4" transform="rotate(73 60.3 27.2)" fill="#c038e0" opacity="0.85"/><ellipse cx="67.8" cy="30.5" rx="1.7" ry="1.1" transform="rotate(103 67.8 30.5)" fill="#b028d8" opacity="0.93"/><ellipse cx="62.8" cy="26.5" rx="2.4" ry="1.0" transform="rotate(40 62.8 26.5)" fill="#c848e4" opacity="0.62"/><ellipse cx="64.0" cy="29.8" rx="1.5" ry="1.2" transform="rotate(124 64.0 29.8)" fill="#c848e4" opacity="0.93"/><ellipse cx="63.5" cy="30.0" rx="1.9" ry="1.8" transform="rotate(71 63.5 30.0)" fill="#b028d8" opacity="0.95"/><ellipse cx="61.6" cy="27.5" rx="1.2" ry="1.8" transform="rotate(81 61.6 27.5)" fill="#b838dc" opacity="0.86"/><ellipse cx="64.4" cy="25.9" rx="1.5" ry="1.2" transform="rotate(100 64.4 25.9)" fill="#c038e0" opacity="0.74"/><ellipse cx="71.0" cy="29.2" rx="1.6" ry="1.7" transform="rotate(108 71.0 29.2)" fill="#d050e8" opacity="0.56"/><ellipse cx="62.4" cy="26.7" rx="1.7" ry="1.6" transform="rotate(112 62.4 26.7)" fill="#b028d8" opacity="0.62"/><ellipse cx="90.0" cy="45.0" rx="10.5" ry="8.4" fill="#e2a8f0" opacity="0.45"/><ellipse cx="88.3" cy="50.8" rx="1.9" ry="1.7" transform="rotate(31 88.3 50.8)" fill="#c848e4" opacity="0.92"/><ellipse cx="95.3" cy="38.0" rx="2.5" ry="1.3" transform="rotate(107 95.3 38.0)" fill="#d050e8" opacity="0.56"/><ellipse cx="95.3" cy="50.9" rx="3.2" ry="1.5" transform="rotate(149 95.3 50.9)" fill="#c038e0" opacity="0.90"/><ellipse cx="72.9" cy="35.6" rx="1.5" ry="1.8" transform="rotate(107 72.9 35.6)" fill="#c038e0" opacity="0.77"/><ellipse cx="80.6" cy="55.9" rx="2.8" ry="0.9" transform="rotate(151 80.6 55.9)" fill="#b028d8" opacity="0.77"/><ellipse cx="89.8" cy="46.9" rx="2.3" ry="2.0" transform="rotate(38 89.8 46.9)" fill="#a820c8" opacity="0.85"/><ellipse cx="78.5" cy="43.3" rx="1.3" ry="1.0" transform="rotate(165 78.5 43.3)" fill="#c038e0" opacity="0.55"/><ellipse cx="76.5" cy="43.0" rx="3.1" ry="0.9" transform="rotate(78 76.5 43.0)" fill="#c038e0" opacity="0.87"/><ellipse cx="90.4" cy="43.6" rx="1.7" ry="1.7" transform="rotate(35 90.4 43.6)" fill="#b028d8" opacity="0.63"/><ellipse cx="103.8" cy="38.8" rx="3.5" ry="0.8" transform="rotate(1 103.8 38.8)" fill="#c848e4" opacity="0.76"/><ellipse cx="87.5" cy="44.7" rx="2.4" ry="1.3" transform="rotate(30 87.5 44.7)" fill="#b028d8" opacity="0.75"/><ellipse cx="79.8" cy="42.4" rx="1.3" ry="1.4" transform="rotate(24 79.8 42.4)" fill="#c038e0" opacity="0.94"/><ellipse cx="81.6" cy="44.3" rx="2.7" ry="1.0" transform="rotate(105 81.6 44.3)" fill="#d050e8" opacity="0.81"/><ellipse cx="105.8" cy="51.0" rx="1.6" ry="1.9" transform="rotate(98 105.8 51.0)" fill="#a820c8" opacity="0.86"/><ellipse cx="75.0" cy="37.1" rx="1.6" ry="1.3" transform="rotate(82 75.0 37.1)" fill="#d050e8" opacity="0.73"/><ellipse cx="114.8" cy="42.6" rx="2.5" ry="0.8" transform="rotate(100 114.8 42.6)" fill="#b028d8" opacity="0.65"/><ellipse cx="15.0" cy="55.0" rx="9.0" ry="7.2" fill="#e2a8f0" opacity="0.45"/><ellipse cx="8.3" cy="51.7" rx="2.6" ry="1.8" transform="rotate(170 8.3 51.7)" fill="#b028d8" opacity="0.67"/><ellipse cx="12.9" cy="58.7" rx="1.9" ry="1.1" transform="rotate(87 12.9 58.7)" fill="#c848e4" opacity="0.66"/><ellipse cx="17.3" cy="52.8" rx="1.4" ry="1.1" transform="rotate(162 17.3 52.8)" fill="#b838dc" opacity="0.88"/><ellipse cx="16.2" cy="56.9" rx="3.5" ry="0.8" transform="rotate(1 16.2 56.9)" fill="#c038e0" opacity="0.90"/><ellipse cx="13.5" cy="52.2" rx="3.3" ry="1.3" transform="rotate(116 13.5 52.2)" fill="#a820c8" opacity="0.65"/><ellipse cx="5.9" cy="57.8" rx="1.9" ry="0.9" transform="rotate(142 5.9 57.8)" fill="#c038e0" opacity="0.62"/><ellipse cx="10.0" cy="57.7" rx="1.6" ry="1.8" transform="rotate(8 10.0 57.7)" fill="#b028d8" opacity="0.94"/><ellipse cx="11.9" cy="58.7" rx="2.8" ry="0.8" transform="rotate(65 11.9 58.7)" fill="#a820c8" opacity="0.78"/><ellipse cx="0.9" cy="55.7" rx="2.2" ry="1.8" transform="rotate(71 0.9 55.7)" fill="#c038e0" opacity="0.73"/><ellipse cx="5.1" cy="53.7" rx="1.4" ry="0.9" transform="rotate(23 5.1 53.7)" fill="#a820c8" opacity="0.85"/><ellipse cx="15.6" cy="45.1" rx="1.9" ry="1.7" transform="rotate(160 15.6 45.1)" fill="#a820c8" opacity="0.91"/><ellipse cx="13.5" cy="46.5" rx="2.0" ry="1.3" transform="rotate(92 13.5 46.5)" fill="#c038e0" opacity="0.83"/><ellipse cx="6.2" cy="58.0" rx="3.2" ry="1.6" transform="rotate(112 6.2 58.0)" fill="#a820c8" opacity="0.66"/><ellipse cx="14.2" cy="56.1" rx="3.2" ry="1.7" transform="rotate(121 14.2 56.1)" fill="#b028d8" opacity="0.80"/><ellipse cx="15.7" cy="51.6" rx="2.4" ry="2.1" transform="rotate(79 15.7 51.6)" fill="#d050e8" opacity="0.89"/><ellipse cx="23.6" cy="61.8" rx="1.2" ry="1.8" transform="rotate(137 23.6 61.8)" fill="#a820c8" opacity="0.90"/><ellipse cx="40.0" cy="65.0" rx="9.0" ry="7.2" fill="#e2a8f0" opacity="0.45"/><ellipse cx="40.0" cy="61.8" rx="2.0" ry="1.0" transform="rotate(97 40.0 61.8)" fill="#d050e8" opacity="0.92"/><ellipse cx="46.8" cy="64.1" rx="2.6" ry="1.0" transform="rotate(88 46.8 64.1)" fill="#a820c8" opacity="0.85"/><ellipse cx="35.9" cy="69.7" rx="2.9" ry="1.9" transform="rotate(162 35.9 69.7)" fill="#b838dc" opacity="0.87"/><ellipse cx="32.6" cy="67.6" rx="2.8" ry="2.0" transform="rotate(96 32.6 67.6)" fill="#c038e0" opacity="0.73"/><ellipse cx="37.0" cy="59.2" rx="1.5" ry="0.8" transform="rotate(42 37.0 59.2)" fill="#c848e4" opacity="0.61"/><ellipse cx="44.7" cy="56.6" rx="2.5" ry="1.2" transform="rotate(10 44.7 56.6)" fill="#c038e0" opacity="0.56"/><ellipse cx="47.5" cy="70.0" rx="1.8" ry="1.5" transform="rotate(96 47.5 70.0)" fill="#d050e8" opacity="0.80"/><ellipse cx="40.3" cy="65.4" rx="1.6" ry="1.9" transform="rotate(40 40.3 65.4)" fill="#c038e0" opacity="0.75"/><ellipse cx="37.8" cy="68.3" rx="2.1" ry="1.0" transform="rotate(136 37.8 68.3)" fill="#c848e4" opacity="0.81"/><ellipse cx="37.4" cy="58.7" rx="1.8" ry="0.9" transform="rotate(176 37.4 58.7)" fill="#b838dc" opacity="0.57"/><ellipse cx="40.4" cy="63.2" rx="2.8" ry="0.9" transform="rotate(132 40.4 63.2)" fill="#c848e4" opacity="0.58"/><ellipse cx="45.1" cy="59.5" rx="3.2" ry="2.0" transform="rotate(131 45.1 59.5)" fill="#a820c8" opacity="0.83"/><ellipse cx="30.0" cy="68.9" rx="3.3" ry="1.0" transform="rotate(26 30.0 68.9)" fill="#b028d8" opacity="0.80"/><ellipse cx="26.6" cy="62.8" rx="2.3" ry="1.4" transform="rotate(170 26.6 62.8)" fill="#a820c8" opacity="0.65"/><ellipse cx="37.0" cy="62.1" rx="1.2" ry="1.4" transform="rotate(101 37.0 62.1)" fill="#b838dc" opacity="0.66"/><ellipse cx="49.8" cy="61.1" rx="1.6" ry="1.9" transform="rotate(168 49.8 61.1)" fill="#b028d8" opacity="0.83"/><ellipse cx="34.2" cy="68.8" rx="2.7" ry="1.7" transform="rotate(34 34.2 68.8)" fill="#c038e0" opacity="0.77"/><ellipse cx="44.6" cy="66.8" rx="1.4" ry="1.4" transform="rotate(17 44.6 66.8)" fill="#d050e8" opacity="0.55"/><ellipse cx="70.0" cy="62.0" rx="9.0" ry="7.2" fill="#e2a8f0" opacity="0.45"/><ellipse cx="69.6" cy="65.2" rx="2.9" ry="1.0" transform="rotate(46 69.6 65.2)" fill="#a820c8" opacity="0.66"/><ellipse cx="70.6" cy="61.7" rx="2.1" ry="1.6" transform="rotate(29 70.6 61.7)" fill="#a820c8" opacity="0.79"/><ellipse cx="67.5" cy="50.4" rx="2.9" ry="2.0" transform="rotate(88 67.5 50.4)" fill="#b028d8" opacity="0.62"/><ellipse cx="70.5" cy="57.7" rx="1.3" ry="1.1" transform="rotate(131 70.5 57.7)" fill="#a820c8" opacity="0.93"/><ellipse cx="66.4" cy="67.9" rx="3.1" ry="1.6" transform="rotate(77 66.4 67.9)" fill="#b838dc" opacity="0.73"/><ellipse cx="63.8" cy="71.4" rx="2.8" ry="1.9" transform="rotate(145 63.8 71.4)" fill="#a820c8" opacity="0.66"/><ellipse cx="75.4" cy="68.2" rx="1.8" ry="1.4" transform="rotate(174 75.4 68.2)" fill="#d050e8" opacity="0.75"/><ellipse cx="54.5" cy="62.9" rx="1.4" ry="1.3" transform="rotate(98 54.5 62.9)" fill="#d050e8" opacity="0.67"/><ellipse cx="75.9" cy="62.3" rx="3.2" ry="1.7" transform="rotate(87 75.9 62.3)" fill="#c038e0" opacity="0.68"/><ellipse cx="65.8" cy="58.5" rx="1.6" ry="1.5" transform="rotate(121 65.8 58.5)" fill="#c848e4" opacity="0.71"/><ellipse cx="67.9" cy="64.8" rx="2.7" ry="1.8" transform="rotate(103 67.9 64.8)" fill="#d050e8" opacity="0.63"/><ellipse cx="70.7" cy="60.9" rx="2.3" ry="1.2" transform="rotate(140 70.7 60.9)" fill="#c038e0" opacity="0.60"/><ellipse cx="79.2" cy="64.5" rx="2.2" ry="1.3" transform="rotate(63 79.2 64.5)" fill="#c848e4" opacity="0.71"/><ellipse cx="79.7" cy="63.3" rx="1.5" ry="1.4" transform="rotate(45 79.7 63.3)" fill="#b028d8" opacity="0.84"/><ellipse cx="75.8" cy="59.7" rx="2.0" ry="1.9" transform="rotate(18 75.8 59.7)" fill="#b028d8" opacity="0.61"/><ellipse cx="64.9" cy="58.0" rx="3.0" ry="0.9" transform="rotate(121 64.9 58.0)" fill="#d050e8" opacity="0.57"/><ellipse cx="100.0" cy="70.0" rx="9.0" ry="7.2" fill="#e2a8f0" opacity="0.45"/><ellipse cx="98.0" cy="66.4" rx="2.9" ry="2.2" transform="rotate(0 98.0 66.4)" fill="#a820c8" opacity="0.66"/><ellipse cx="105.7" cy="77.8" rx="3.4" ry="1.0" transform="rotate(166 105.7 77.8)" fill="#c848e4" opacity="0.77"/><ellipse cx="109.8" cy="65.8" rx="3.2" ry="1.7" transform="rotate(47 109.8 65.8)" fill="#b838dc" opacity="0.91"/><ellipse cx="105.3" cy="67.1" rx="3.2" ry="2.0" transform="rotate(46 105.3 67.1)" fill="#c848e4" opacity="0.70"/><ellipse cx="107.7" cy="72.4" rx="2.2" ry="1.2" transform="rotate(18 107.7 72.4)" fill="#d050e8" opacity="0.59"/><ellipse cx="91.9" cy="70.2" rx="2.1" ry="1.8" transform="rotate(175 91.9 70.2)" fill="#a820c8" opacity="0.86"/><ellipse cx="93.5" cy="69.3" rx="3.2" ry="1.0" transform="rotate(153 93.5 69.3)" fill="#d050e8" opacity="0.62"/><ellipse cx="106.9" cy="61.9" rx="2.8" ry="0.9" transform="rotate(124 106.9 61.9)" fill="#d050e8" opacity="0.81"/><ellipse cx="105.9" cy="64.3" rx="1.9" ry="1.7" transform="rotate(125 105.9 64.3)" fill="#a820c8" opacity="0.65"/><ellipse cx="92.8" cy="71.2" rx="1.3" ry="1.9" transform="rotate(83 92.8 71.2)" fill="#d050e8" opacity="0.89"/><ellipse cx="97.6" cy="72.8" rx="2.6" ry="1.6" transform="rotate(178 97.6 72.8)" fill="#a820c8" opacity="0.89"/><ellipse cx="98.5" cy="74.8" rx="1.6" ry="1.8" transform="rotate(40 98.5 74.8)" fill="#a820c8" opacity="0.91"/><ellipse cx="102.5" cy="62.3" rx="3.2" ry="1.2" transform="rotate(170 102.5 62.3)" fill="#b028d8" opacity="0.74"/><ellipse cx="95.1" cy="64.9" rx="1.3" ry="2.1" transform="rotate(3 95.1 64.9)" fill="#c848e4" opacity="0.71"/><ellipse cx="25.0" cy="78.0" rx="7.5" ry="6.0" fill="#e2a8f0" opacity="0.45"/><ellipse cx="17.0" cy="85.1" rx="1.4" ry="1.5" transform="rotate(84 17.0 85.1)" fill="#b028d8" opacity="0.84"/><ellipse cx="25.0" cy="76.3" rx="2.4" ry="1.0" transform="rotate(166 25.0 76.3)" fill="#b838dc" opacity="0.73"/><ellipse cx="20.5" cy="75.1" rx="1.5" ry="1.7" transform="rotate(74 20.5 75.1)" fill="#b028d8" opacity="0.88"/><ellipse cx="30.4" cy="76.9" rx="3.0" ry="1.8" transform="rotate(149 30.4 76.9)" fill="#b028d8" opacity="0.92"/><ellipse cx="27.5" cy="91.0" rx="2.2" ry="1.7" transform="rotate(23 27.5 91.0)" fill="#c038e0" opacity="0.67"/><ellipse cx="32.9" cy="74.7" rx="2.6" ry="1.3" transform="rotate(91 32.9 74.7)" fill="#b028d8" opacity="0.91"/><ellipse cx="21.0" cy="69.5" rx="3.1" ry="2.0" transform="rotate(7 21.0 69.5)" fill="#d050e8" opacity="0.95"/><ellipse cx="26.1" cy="79.6" rx="1.9" ry="1.9" transform="rotate(113 26.1 79.6)" fill="#d050e8" opacity="0.58"/><ellipse cx="24.4" cy="70.6" rx="1.4" ry="1.0" transform="rotate(25 24.4 70.6)" fill="#c038e0" opacity="0.62"/><ellipse cx="24.1" cy="86.3" rx="1.3" ry="2.0" transform="rotate(57 24.1 86.3)" fill="#c848e4" opacity="0.74"/><ellipse cx="55.0" cy="45.0" rx="7.5" ry="6.0" fill="#e2a8f0" opacity="0.45"/><ellipse cx="61.3" cy="51.9" rx="2.4" ry="2.2" transform="rotate(107 61.3 51.9)" fill="#b838dc" opacity="0.81"/><ellipse cx="55.4" cy="45.1" rx="3.5" ry="1.7" transform="rotate(142 55.4 45.1)" fill="#d050e8" opacity="0.69"/><ellipse cx="53.0" cy="39.5" rx="1.3" ry="1.6" transform="rotate(167 53.0 39.5)" fill="#d050e8" opacity="0.73"/><ellipse cx="52.2" cy="41.0" rx="2.3" ry="1.5" transform="rotate(155 52.2 41.0)" fill="#b838dc" opacity="0.75"/><ellipse cx="49.5" cy="43.0" rx="2.8" ry="1.6" transform="rotate(71 49.5 43.0)" fill="#c848e4" opacity="0.95"/><ellipse cx="50.4" cy="42.1" rx="1.3" ry="1.0" transform="rotate(75 50.4 42.1)" fill="#d050e8" opacity="0.72"/><ellipse cx="48.0" cy="51.0" rx="2.9" ry="1.2" transform="rotate(44 48.0 51.0)" fill="#b838dc" opacity="0.78"/><ellipse cx="62.4" cy="50.4" rx="2.7" ry="1.8" transform="rotate(121 62.4 50.4)" fill="#b838dc" opacity="0.58"/><ellipse cx="52.2" cy="45.3" rx="2.5" ry="1.1" transform="rotate(41 52.2 45.3)" fill="#d050e8" opacity="0.95"/><ellipse cx="55.0" cy="42.6" rx="1.4" ry="1.0" transform="rotate(127 55.0 42.6)" fill="#b028d8" opacity="0.67"/><circle cx="86.5" cy="46.2" r="0.6" fill="#4a3a70"/><circle cx="108.7" cy="70.2" r="0.8" fill="#7a5aa0"/><circle cx="23.5" cy="31.7" r="0.7" fill="#7a5aa0"/><circle cx="86.8" cy="39.6" r="0.6" fill="#404060"/><circle cx="39.3" cy="15.8" r="0.8" fill="#6a4a90"/><circle cx="24.4" cy="45.4" r="0.6" fill="#7a5aa0"/><circle cx="15.8" cy="30.2" r="0.8" fill="#6a4a90"/><circle cx="25.9" cy="73.4" r="0.7" fill="#4a3a70"/><circle cx="65.9" cy="19.5" r="0.7" fill="#4a3a70"/><circle cx="38.4" cy="54.3" r="0.7" fill="#7a5aa0"/><circle cx="3.0" cy="51.2" r="0.8" fill="#6a4a90"/><circle cx="91.1" cy="81.1" r="0.5" fill="#4a3a70"/><circle cx="21.9" cy="75.9" r="0.6" fill="#4a3a70"/><circle cx="85.9" cy="10.3" r="0.8" fill="#6a4a90"/><circle cx="83.5" cy="17.2" r="0.6" fill="#7a5aa0"/><circle cx="87.4" cy="27.2" r="0.8" fill="#6a4a90"/><circle cx="43.8" cy="11.1" r="0.6" fill="#6a4a90"/><circle cx="95.6" cy="8.8" r="0.6" fill="#4a3a70"/><circle cx="43.3" cy="59.3" r="0.5" fill="#6a4a90"/><circle cx="80.4" cy="69.5" r="0.8" fill="#4a3a70"/><circle cx="50.4" cy="37.3" r="0.7" fill="#6a4a90"/><circle cx="43.2" cy="80.3" r="0.8" fill="#404060"/><circle cx="47.9" cy="27.6" r="0.6" fill="#7a5aa0"/><circle cx="65.8" cy="72.0" r="0.8" fill="#4a3a70"/><circle cx="14.2" cy="68.1" r="0.6" fill="#404060"/><circle cx="14.3" cy="49.7" r="0.6" fill="#6a4a90"/><circle cx="53.1" cy="70.7" r="0.6" fill="#6a4a90"/><circle cx="15.8" cy="16.4" r="0.7" fill="#6a4a90"/><circle cx="10.4" cy="22.1" r="0.7" fill="#7a5aa0"/><circle cx="20.7" cy="67.3" r="0.5" fill="#4a3a70"/><circle cx="55.9" cy="72.4" r="0.5" fill="#7a5aa0"/><circle cx="80.7" cy="17.1" r="0.6" fill="#404060"/><circle cx="76.2" cy="10.6" r="0.7" fill="#6a4a90"/><circle cx="62.1" cy="37.8" r="0.7" fill="#7a5aa0"/><circle cx="107.0" cy="18.0" r="0.8" fill="#6a4a90"/><circle cx="66.0" cy="31.9" r="0.7" fill="#7a5aa0"/><circle cx="81.1" cy="77.4" r="0.6" fill="#404060"/><circle cx="66.8" cy="40.0" r="0.5" fill="#6a4a90"/><circle cx="86.6" cy="71.1" r="0.5" fill="#404060"/><circle cx="56.4" cy="47.3" r="0.8" fill="#6a4a90"/><circle cx="106.2" cy="43.7" r="0.6" fill="#6a4a90"/><circle cx="70.7" cy="64.5" r="0.5" fill="#404060"/><circle cx="14.3" cy="54.6" r="0.5" fill="#7a5aa0"/><circle cx="20.3" cy="7.9" r="0.6" fill="#6a4a90"/><circle cx="82.7" cy="79.2" r="0.8" fill="#404060"/><circle cx="6.3" cy="35.9" r="0.5" fill="#4a3a70"/><circle cx="37.1" cy="39.0" r="0.5" fill="#7a5aa0"/><circle cx="62.3" cy="13.9" r="0.8" fill="#7a5aa0"/><circle cx="75.5" cy="64.0" r="0.8" fill="#404060"/><circle cx="104.7" cy="73.8" r="0.7" fill="#7a5aa0"/><circle cx="84.3" cy="51.4" r="0.8" fill="#7a5aa0"/><circle cx="73.6" cy="8.3" r="0.5" fill="#7a5aa0"/><circle cx="64.2" cy="55.2" r="0.5" fill="#404060"/><circle cx="50.7" cy="0.7" r="0.7" fill="#404060"/><circle cx="81.9" cy="71.7" r="0.7" fill="#7a5aa0"/><circle cx="67.8" cy="81.5" r="0.8" fill="#4a3a70"/><circle cx="58.0" cy="10.9" r="0.7" fill="#4a3a70"/><circle cx="36.5" cy="4.2" r="0.7" fill="#7a5aa0"/><circle cx="56.4" cy="39.3" r="0.6" fill="#404060"/><circle cx="104.0" cy="36.4" r="0.5" fill="#6a4a90"/><circle cx="2.7" cy="14.4" r="0.7" fill="#404060"/><circle cx="23.4" cy="39.4" r="0.6" fill="#4a3a70"/><circle cx="32.1" cy="17.4" r="0.7" fill="#4a3a70"/><circle cx="101.3" cy="73.7" r="0.7" fill="#6a4a90"/><circle cx="76.7" cy="20.0" r="0.7" fill="#6a4a90"/><circle cx="4.1" cy="14.5" r="0.5" fill="#404060"/><circle cx="18.0" cy="27.3" r="0.8" fill="#404060"/><circle cx="53.8" cy="37.4" r="0.6" fill="#6a4a90"/><circle cx="40.6" cy="1.8" r="0.7" fill="#6a4a90"/><circle cx="93.6" cy="28.2" r="0.5" fill="#6a4a90"/><circle cx="9.0" cy="66.5" r="0.7" fill="#6a4a90"/><circle cx="32.1" cy="28.9" r="0.7" fill="#6a4a90"/><circle cx="60.3" cy="76.6" r="0.6" fill="#6a4a90"/><circle cx="47.8" cy="77.3" r="0.6" fill="#404060"/><circle cx="104.1" cy="4.5" r="0.8" fill="#6a4a90"/><circle cx="78.9" cy="32.9" r="0.8" fill="#4a3a70"/><circle cx="85.7" cy="0.9" r="0.6" fill="#6a4a90"/><circle cx="93.4" cy="15.5" r="0.8" fill="#6a4a90"/><circle cx="4.9" cy="69.9" r="0.6" fill="#4a3a70"/><circle cx="44.5" cy="33.9" r="0.6" fill="#4a3a70"/><circle cx="80.2" cy="4.5" r="0.5" fill="#404060"/><circle cx="14.1" cy="71.0" r="0.6" fill="#7a5aa0"/><circle cx="57.0" cy="72.2" r="0.7" fill="#7a5aa0"/><circle cx="15.6" cy="43.2" r="0.6" fill="#6a4a90"/><circle cx="40.5" cy="5.4" r="0.5" fill="#7a5aa0"/><circle cx="57.4" cy="42.3" r="0.6" fill="#4a3a70"/><circle cx="96.0" cy="78.4" r="0.7" fill="#404060"/><circle cx="73.0" cy="61.5" r="0.8" fill="#404060"/><circle cx="27.8" cy="24.2" r="0.7" fill="#4a3a70"/><circle cx="23.3" cy="18.9" r="0.7" fill="#6a4a90"/><circle cx="73.6" cy="47.6" r="0.6" fill="#6a4a90"/><circle cx="7.2" cy="10.7" r="0.8" fill="#6a4a90"/><circle cx="98.8" cy="32.1" r="0.8" fill="#6a4a90"/><circle cx="93.3" cy="56.2" r="0.6" fill="#4a3a70"/><circle cx="17.0" cy="78.2" r="0.7" fill="#404060"/><circle cx="101.3" cy="21.3" r="0.5" fill="#4a3a70"/><circle cx="86.7" cy="25.9" r="0.5" fill="#7a5aa0"/><circle cx="63.9" cy="54.1" r="0.7" fill="#404060"/><circle cx="79.8" cy="39.3" r="0.5" fill="#7a5aa0"/><circle cx="26.6" cy="46.9" r="0.8" fill="#7a5aa0"/><circle cx="53.4" cy="47.9" r="0.7" fill="#7a5aa0"/><circle cx="44.2" cy="15.0" r="0.7" fill="#7a5aa0"/><circle cx="38.1" cy="79.7" r="0.5" fill="#6a4a90"/><circle cx="17.2" cy="66.3" r="0.8" fill="#4a3a70"/><circle cx="8.3" cy="11.2" r="0.7" fill="#6a4a90"/><circle cx="34.4" cy="40.0" r="0.7" fill="#6a4a90"/><circle cx="35.6" cy="12.9" r="0.7" fill="#404060"/><circle cx="63.6" cy="3.1" r="0.7" fill="#6a4a90"/><circle cx="73.3" cy="25.7" r="0.7" fill="#6a4a90"/><circle cx="102.5" cy="19.0" r="0.5" fill="#404060"/><circle cx="7.4" cy="65.3" r="0.7" fill="#404060"/><circle cx="71.1" cy="26.4" r="0.7" fill="#4a3a70"/><circle cx="89.6" cy="80.9" r="0.7" fill="#404060"/><circle cx="55.9" cy="76.3" r="0.7" fill="#6a4a90"/><circle cx="6.4" cy="76.5" r="0.8" fill="#404060"/><circle cx="45.1" cy="81.9" r="0.8" fill="#404060"/><circle cx="61.5" cy="25.1" r="0.5" fill="#7a5aa0"/><circle cx="14.9" cy="66.3" r="0.7" fill="#4a3a70"/><circle cx="1.6" cy="62.9" r="0.6" fill="#4a3a70"/><circle cx="19.3" cy="60.2" r="0.5" fill="#404060"/><circle cx="89.5" cy="6.2" r="0.5" fill="#4a3a70"/><circle cx="107.7" cy="62.9" r="0.7" fill="#6a4a90"/><circle cx="48.2" cy="56.2" r="0.5" fill="#404060"/><circle cx="58.5" cy="72.0" r="0.8" fill="#4a3a70"/><circle cx="85.6" cy="24.2" r="0.5" fill="#404060"/><circle cx="49.9" cy="26.6" r="0.5" fill="#6a4a90"/><circle cx="85.7" cy="36.3" r="0.6" fill="#6a4a90"/><circle cx="106.5" cy="54.0" r="0.5" fill="#404060"/><circle cx="35.9" cy="22.4" r="0.8" fill="#4a3a70"/><circle cx="58.6" cy="31.0" r="0.5" fill="#7a5aa0"/>
</svg>
<text transform="translate(546.30,102.80) translate(-0.33,0) scale(0.914,1.000)" font-size="9.00">50 µm</text>
<line x1="550.30" y1="105.60" x2="566.30" y2="105.60" stroke="#111" stroke-width="1.5" stroke-linecap="butt"/>
<line x1="665.20" y1="105.00" x2="681.20" y2="105.00" stroke="#111" stroke-width="1.5" stroke-linecap="butt"/>
<line x1="550.30" y1="194.30" x2="566.30" y2="194.30" stroke="#111" stroke-width="1.5" stroke-linecap="butt"/>
<line x1="665.20" y1="194.30" x2="681.20" y2="194.30" stroke="#111" stroke-width="1.5" stroke-linecap="butt"/>
<rect x="301.00" y="630.00" width="160.30" height="45.50" fill="#efefef"/>
<rect x="301.00" y="630.00" width="15.50" height="45.50" fill="#dadada"/>
<rect x="311.20" y="630.00" width="5.00" height="45.50" fill="#a8a8a8"/>
<line x1="304.00" y1="633.00" x2="311.20" y2="633.00" stroke="#888" stroke-width="0.6" stroke-linecap="butt"/>
<line x1="306.50" y1="638.00" x2="311.20" y2="638.00" stroke="#888" stroke-width="0.6" stroke-linecap="butt"/>
<line x1="304.00" y1="643.00" x2="311.20" y2="643.00" stroke="#888" stroke-width="0.6" stroke-linecap="butt"/>
<line x1="306.50" y1="648.00" x2="311.20" y2="648.00" stroke="#888" stroke-width="0.6" stroke-linecap="butt"/>
<line x1="304.00" y1="653.00" x2="311.20" y2="653.00" stroke="#888" stroke-width="0.6" stroke-linecap="butt"/>
<line x1="306.50" y1="658.00" x2="311.20" y2="658.00" stroke="#888" stroke-width="0.6" stroke-linecap="butt"/>
<line x1="304.00" y1="663.00" x2="311.20" y2="663.00" stroke="#888" stroke-width="0.6" stroke-linecap="butt"/>
<line x1="306.50" y1="668.00" x2="311.20" y2="668.00" stroke="#888" stroke-width="0.6" stroke-linecap="butt"/>
<line x1="304.00" y1="673.00" x2="311.20" y2="673.00" stroke="#888" stroke-width="0.6" stroke-linecap="butt"/>
<ellipse cx="334.0" cy="639.9" rx="6.4" ry="5.6" fill="url(#tumR)"/>
<ellipse cx="356.6" cy="639.4" rx="5.0" ry="5.0" fill="url(#tumR)"/>
<ellipse cx="377.7" cy="638.1" rx="4.0" ry="4.1" fill="url(#tumT)"/>
<ellipse cx="396.0" cy="639.9" rx="3.7" ry="3.7" fill="url(#tumT)"/>
<ellipse cx="422.1" cy="638.6" rx="3.7" ry="3.5" fill="url(#tumT)"/>
<ellipse cx="448.9" cy="640.6" rx="4.7" ry="2.8" fill="url(#tumT)"/>
<ellipse cx="331.0" cy="663.4" rx="6.9" ry="8.0" fill="url(#tumM)"/>
<ellipse cx="356.6" cy="664.2" rx="5.6" ry="7.4" fill="url(#tumM)"/>
<ellipse cx="379.9" cy="661.7" rx="6.2" ry="6.2" fill="url(#tumT)"/>
<ellipse cx="405.0" cy="663.4" rx="5.6" ry="6.8" fill="url(#tumM)"/>
<ellipse cx="427.8" cy="661.0" rx="5.6" ry="5.0" fill="url(#tumT)"/>
<ellipse cx="450.7" cy="662.7" rx="5.6" ry="6.2" fill="url(#tumT)"/>
<rect x="284.6" y="737.1" width="96.1" height="67.5" fill="#fff" filter="url(#he)"/>
<rect x="284.6" y="808.2" width="96.1" height="67.1" fill="#fff" filter="url(#he2)"/>
<g filter="url(#blur06)"><ellipse cx="301.1" cy="817.0" rx="1.1" ry="1.4" fill="#f6eef6" opacity="0.9"/><ellipse cx="303.4" cy="822.6" rx="1.5" ry="1.3" fill="#f6eef6" opacity="0.9"/><ellipse cx="303.4" cy="823.9" rx="1.4" ry="1.5" fill="#f6eef6" opacity="0.9"/><ellipse cx="309.9" cy="821.6" rx="1.0" ry="1.4" fill="#f6eef6" opacity="0.9"/><ellipse cx="292.4" cy="819.7" rx="1.0" ry="1.0" fill="#f6eef6" opacity="0.9"/><ellipse cx="305.9" cy="823.2" rx="1.4" ry="0.9" fill="#f6eef6" opacity="0.9"/><ellipse cx="300.6" cy="821.3" rx="1.0" ry="1.2" fill="#f6eef6" opacity="0.9"/><ellipse cx="294.2" cy="822.1" rx="0.9" ry="1.5" fill="#f6eef6" opacity="0.9"/><ellipse cx="324.5" cy="821.4" rx="1.7" ry="1.5" fill="#f6eef6" opacity="0.9"/><ellipse cx="321.7" cy="824.2" rx="0.9" ry="1.4" fill="#f6eef6" opacity="0.9"/><ellipse cx="316.2" cy="821.6" rx="1.3" ry="1.4" fill="#f6eef6" opacity="0.9"/><ellipse cx="316.1" cy="821.4" rx="1.9" ry="0.8" fill="#f6eef6" opacity="0.9"/><ellipse cx="324.0" cy="814.1" rx="1.7" ry="1.6" fill="#f6eef6" opacity="0.9"/><ellipse cx="303.2" cy="837.5" rx="1.4" ry="1.4" fill="#f6eef6" opacity="0.9"/><ellipse cx="306.5" cy="834.6" rx="1.9" ry="0.7" fill="#f6eef6" opacity="0.9"/><ellipse cx="304.9" cy="838.0" rx="1.2" ry="1.6" fill="#f6eef6" opacity="0.9"/><ellipse cx="314.6" cy="844.9" rx="1.9" ry="1.3" fill="#f6eef6" opacity="0.9"/><ellipse cx="310.2" cy="839.4" rx="1.6" ry="0.8" fill="#f6eef6" opacity="0.9"/><ellipse cx="305.5" cy="839.5" rx="1.8" ry="1.5" fill="#f6eef6" opacity="0.9"/><ellipse cx="311.9" cy="835.3" rx="1.5" ry="0.8" fill="#f6eef6" opacity="0.9"/><ellipse cx="318.3" cy="845.7" rx="1.7" ry="0.7" fill="#f6eef6" opacity="0.9"/><ellipse cx="326.7" cy="845.1" rx="1.9" ry="0.8" fill="#f6eef6" opacity="0.9"/><ellipse cx="321.5" cy="847.5" rx="1.9" ry="0.8" fill="#f6eef6" opacity="0.9"/><ellipse cx="324.5" cy="851.0" rx="0.9" ry="0.8" fill="#f6eef6" opacity="0.9"/><ellipse cx="335.0" cy="846.4" rx="1.1" ry="1.2" fill="#f6eef6" opacity="0.9"/><ellipse cx="286.8" cy="856.8" rx="1.7" ry="1.2" fill="#f6eef6" opacity="0.9"/><ellipse cx="291.8" cy="850.2" rx="1.8" ry="0.8" fill="#f6eef6" opacity="0.9"/><ellipse cx="292.6" cy="848.0" rx="1.1" ry="1.1" fill="#f6eef6" opacity="0.9"/><ellipse cx="297.0" cy="854.3" rx="0.9" ry="0.7" fill="#f6eef6" opacity="0.9"/><ellipse cx="331.1" cy="831.2" rx="1.9" ry="1.2" fill="#f6eef6" opacity="0.9"/><ellipse cx="327.0" cy="824.5" rx="1.0" ry="1.6" fill="#f6eef6" opacity="0.9"/><ellipse cx="326.7" cy="832.6" rx="1.4" ry="1.3" fill="#f6eef6" opacity="0.9"/><ellipse cx="330.3" cy="827.7" rx="1.8" ry="1.1" fill="#f6eef6" opacity="0.9"/></g>
<rect x="384.2" y="737.1" width="96.3" height="67.5" fill="#fff" filter="url(#kib1)"/>
<svg x="384.2" y="737.1" width="96.3" height="67.5" overflow="hidden">
<circle cx="43.6" cy="37.8" r="1.3" fill="#9a5530"/><circle cx="43.5" cy="57.7" r="0.9" fill="#a0603a"/><circle cx="45.8" cy="41.4" r="0.9" fill="#9a5530"/><circle cx="29.2" cy="6.1" r="1.2" fill="#7a3818"/><circle cx="57.3" cy="26.7" r="1.0" fill="#a0603a"/><circle cx="62.6" cy="42.1" r="1.2" fill="#7a3818"/><circle cx="5.7" cy="12.8" r="0.9" fill="#7a3818"/><circle cx="74.9" cy="22.0" r="1.1" fill="#8a4420"/><circle cx="50.0" cy="43.2" r="1.0" fill="#7a3818"/><circle cx="44.0" cy="18.8" r="1.3" fill="#7a3818"/><circle cx="68.2" cy="21.3" r="0.9" fill="#6a2c10"/><circle cx="2.9" cy="38.0" r="0.8" fill="#7a3818"/><circle cx="81.5" cy="26.1" r="1.3" fill="#7a3818"/><circle cx="20.6" cy="62.6" r="0.8" fill="#9a5530"/><circle cx="94.4" cy="26.8" r="0.8" fill="#8a4420"/><circle cx="75.0" cy="18.2" r="0.8" fill="#6a2c10"/><circle cx="1.5" cy="27.7" r="1.3" fill="#8a4420"/><circle cx="23.7" cy="6.8" r="0.8" fill="#9a5530"/><circle cx="17.1" cy="37.8" r="1.0" fill="#8a4420"/><circle cx="94.9" cy="51.9" r="1.0" fill="#9a5530"/><circle cx="11.2" cy="28.4" r="0.9" fill="#6a2c10"/><circle cx="83.2" cy="65.8" r="1.1" fill="#7a3818"/><circle cx="20.3" cy="26.6" r="1.2" fill="#a0603a"/><circle cx="9.7" cy="66.8" r="0.9" fill="#6a2c10"/><circle cx="0.9" cy="41.2" r="1.2" fill="#9a5530"/><circle cx="7.1" cy="6.1" r="1.1" fill="#8a4420"/><circle cx="1.5" cy="24.9" r="1.1" fill="#8a4420"/><circle cx="92.4" cy="32.7" r="1.1" fill="#9a5530"/><circle cx="17.6" cy="10.4" r="1.2" fill="#a0603a"/><circle cx="24.0" cy="12.8" r="1.2" fill="#a0603a"/><circle cx="18.9" cy="64.1" r="1.2" fill="#a0603a"/><circle cx="7.6" cy="3.2" r="0.8" fill="#a0603a"/><circle cx="92.7" cy="16.1" r="1.1" fill="#6a2c10"/><circle cx="40.5" cy="61.1" r="1.0" fill="#a0603a"/><circle cx="16.9" cy="48.6" r="0.8" fill="#8a4420"/><circle cx="46.2" cy="44.1" r="1.1" fill="#7a3818"/><circle cx="27.0" cy="61.9" r="0.9" fill="#7a3818"/><circle cx="6.7" cy="27.8" r="0.9" fill="#7a3818"/><circle cx="17.0" cy="24.9" r="1.1" fill="#8a4420"/><circle cx="8.9" cy="9.3" r="1.0" fill="#6a2c10"/><circle cx="63.3" cy="46.7" r="1.1" fill="#8a4420"/><circle cx="56.8" cy="62.3" r="1.0" fill="#6a2c10"/><circle cx="67.5" cy="65.0" r="0.8" fill="#7a3818"/><circle cx="46.4" cy="49.3" r="0.9" fill="#7a3818"/><circle cx="7.2" cy="36.9" r="1.2" fill="#8a4420"/><circle cx="76.4" cy="61.8" r="0.9" fill="#9a5530"/><circle cx="86.8" cy="58.8" r="1.0" fill="#7a3818"/><circle cx="83.2" cy="38.7" r="1.1" fill="#9a5530"/><circle cx="36.5" cy="0.8" r="0.8" fill="#7a3818"/><circle cx="61.6" cy="67.0" r="1.2" fill="#6a2c10"/><circle cx="37.4" cy="49.6" r="1.1" fill="#9a5530"/><circle cx="44.6" cy="36.5" r="1.0" fill="#a0603a"/><circle cx="2.9" cy="40.6" r="1.0" fill="#8a4420"/><circle cx="92.2" cy="7.6" r="1.2" fill="#9a5530"/><circle cx="24.6" cy="0.8" r="0.9" fill="#a0603a"/><circle cx="19.5" cy="11.4" r="1.2" fill="#9a5530"/><circle cx="48.0" cy="16.3" r="1.0" fill="#6a2c10"/><circle cx="19.1" cy="29.1" r="1.2" fill="#8a4420"/><circle cx="84.8" cy="25.9" r="1.1" fill="#6a2c10"/><circle cx="20.2" cy="9.1" r="0.9" fill="#7a3818"/><circle cx="68.5" cy="64.1" r="0.9" fill="#8a4420"/><circle cx="10.9" cy="31.8" r="1.3" fill="#9a5530"/><circle cx="36.8" cy="35.1" r="1.1" fill="#a0603a"/><circle cx="43.6" cy="5.0" r="0.8" fill="#a0603a"/><circle cx="4.0" cy="47.8" r="1.1" fill="#6a2c10"/><circle cx="62.5" cy="38.1" r="1.1" fill="#9a5530"/><circle cx="43.8" cy="1.7" r="1.2" fill="#8a4420"/><circle cx="75.0" cy="53.8" r="1.3" fill="#7a3818"/><circle cx="43.0" cy="42.5" r="1.1" fill="#6a2c10"/><circle cx="92.3" cy="46.2" r="0.9" fill="#9a5530"/><circle cx="24.7" cy="48.2" r="1.2" fill="#a0603a"/><circle cx="68.8" cy="12.1" r="0.9" fill="#6a2c10"/><circle cx="52.0" cy="63.9" r="1.0" fill="#8a4420"/><circle cx="37.9" cy="53.5" r="1.2" fill="#7a3818"/><circle cx="39.5" cy="60.3" r="1.0" fill="#9a5530"/><circle cx="43.7" cy="42.2" r="1.3" fill="#9a5530"/><circle cx="53.0" cy="44.1" r="1.0" fill="#6a2c10"/><circle cx="44.7" cy="44.0" r="0.9" fill="#7a3818"/><circle cx="20.5" cy="60.7" r="1.3" fill="#6a2c10"/><circle cx="51.7" cy="53.4" r="0.9" fill="#7a3818"/><circle cx="33.6" cy="5.6" r="1.0" fill="#a0603a"/><circle cx="40.6" cy="18.6" r="1.3" fill="#8a4420"/><circle cx="77.9" cy="4.3" r="1.2" fill="#8a4420"/><circle cx="51.3" cy="46.3" r="1.3" fill="#9a5530"/><circle cx="14.3" cy="34.9" r="1.1" fill="#9a5530"/><circle cx="91.1" cy="33.2" r="1.3" fill="#7a3818"/><circle cx="73.0" cy="29.7" r="1.1" fill="#a0603a"/><circle cx="61.5" cy="35.3" r="1.2" fill="#a0603a"/><circle cx="24.7" cy="45.3" r="1.3" fill="#a0603a"/><circle cx="20.1" cy="57.4" r="1.3" fill="#a0603a"/><circle cx="26.3" cy="33.6" r="1.0" fill="#7a3818"/><circle cx="48.5" cy="40.9" r="0.8" fill="#7a3818"/><circle cx="49.7" cy="27.0" r="1.2" fill="#a0603a"/><circle cx="11.7" cy="6.3" r="0.8" fill="#a0603a"/><circle cx="44.2" cy="62.2" r="1.2" fill="#9a5530"/><circle cx="25.9" cy="31.9" r="0.8" fill="#9a5530"/><circle cx="86.8" cy="63.2" r="1.3" fill="#a0603a"/><circle cx="30.5" cy="12.9" r="1.1" fill="#6a2c10"/><circle cx="12.5" cy="52.6" r="0.8" fill="#8a4420"/><circle cx="15.0" cy="0.8" r="0.9" fill="#6a2c10"/><circle cx="23.5" cy="33.7" r="1.0" fill="#a0603a"/><circle cx="11.8" cy="34.5" r="0.9" fill="#8a4420"/><circle cx="67.5" cy="59.3" r="0.8" fill="#9a5530"/><circle cx="79.5" cy="41.6" r="1.0" fill="#a0603a"/><circle cx="61.5" cy="35.7" r="1.2" fill="#a0603a"/><circle cx="56.5" cy="9.2" r="1.3" fill="#6a2c10"/><circle cx="86.9" cy="21.3" r="0.9" fill="#8a4420"/><circle cx="21.0" cy="67.4" r="1.2" fill="#8a4420"/><circle cx="85.6" cy="8.9" r="0.8" fill="#9a5530"/><circle cx="9.3" cy="56.2" r="1.0" fill="#8a4420"/><circle cx="19.3" cy="42.4" r="1.2" fill="#7a3818"/><circle cx="19.3" cy="46.1" r="1.3" fill="#6a2c10"/><circle cx="11.1" cy="34.1" r="1.2" fill="#a0603a"/><circle cx="96.2" cy="56.2" r="1.2" fill="#9a5530"/><circle cx="10.2" cy="2.5" r="1.1" fill="#a0603a"/><circle cx="87.2" cy="32.5" r="0.9" fill="#7a3818"/><circle cx="19.6" cy="56.7" r="1.3" fill="#7a3818"/><circle cx="55.8" cy="9.1" r="1.1" fill="#7a3818"/><circle cx="73.6" cy="22.1" r="1.0" fill="#a0603a"/><circle cx="34.1" cy="14.2" r="1.0" fill="#7a3818"/><circle cx="81.3" cy="12.2" r="1.0" fill="#6a2c10"/><circle cx="39.0" cy="13.2" r="0.8" fill="#a0603a"/><circle cx="76.3" cy="21.8" r="0.8" fill="#9a5530"/><circle cx="54.9" cy="12.9" r="1.1" fill="#6a2c10"/><circle cx="77.5" cy="17.4" r="1.3" fill="#8a4420"/><circle cx="78.4" cy="27.4" r="1.2" fill="#a0603a"/><circle cx="66.9" cy="51.8" r="1.2" fill="#9a5530"/><circle cx="19.9" cy="12.5" r="1.2" fill="#6a2c10"/><circle cx="45.1" cy="0.7" r="0.9" fill="#a0603a"/><circle cx="4.8" cy="18.4" r="1.3" fill="#6a2c10"/><circle cx="32.5" cy="44.5" r="1.1" fill="#a0603a"/><circle cx="7.4" cy="34.7" r="1.0" fill="#8a4420"/><circle cx="67.5" cy="51.4" r="1.3" fill="#7a3818"/><circle cx="11.1" cy="7.3" r="0.9" fill="#9a5530"/><circle cx="38.7" cy="3.4" r="0.9" fill="#9a5530"/><circle cx="1.0" cy="17.5" r="0.9" fill="#6a2c10"/><circle cx="53.0" cy="34.3" r="1.3" fill="#a0603a"/><circle cx="81.5" cy="6.7" r="1.0" fill="#7a3818"/><circle cx="52.9" cy="45.1" r="1.3" fill="#9a5530"/><circle cx="89.6" cy="10.8" r="1.0" fill="#8a4420"/><circle cx="82.4" cy="36.6" r="1.1" fill="#9a5530"/><circle cx="91.0" cy="28.4" r="1.0" fill="#a0603a"/><circle cx="30.1" cy="35.8" r="1.0" fill="#6a2c10"/><circle cx="54.0" cy="19.1" r="1.1" fill="#6a2c10"/><circle cx="2.6" cy="52.1" r="1.1" fill="#8a4420"/><circle cx="39.4" cy="46.2" r="0.8" fill="#6a2c10"/><circle cx="72.1" cy="3.4" r="1.3" fill="#6a2c10"/><circle cx="7.1" cy="61.1" r="1.0" fill="#9a5530"/><circle cx="24.2" cy="51.0" r="0.8" fill="#7a3818"/><circle cx="90.3" cy="48.8" r="1.0" fill="#8a4420"/><circle cx="58.1" cy="7.8" r="1.1" fill="#9a5530"/><circle cx="11.4" cy="58.1" r="0.9" fill="#8a4420"/><circle cx="12.0" cy="29.9" r="1.1" fill="#9a5530"/><circle cx="57.9" cy="43.2" r="1.1" fill="#6a2c10"/><circle cx="74.9" cy="35.8" r="1.3" fill="#6a2c10"/><circle cx="70.7" cy="16.1" r="0.8" fill="#6a2c10"/><circle cx="75.5" cy="42.2" r="0.9" fill="#6a2c10"/><circle cx="58.7" cy="48.9" r="1.1" fill="#8a4420"/><circle cx="61.0" cy="50.9" r="0.9" fill="#8a4420"/><circle cx="48.4" cy="44.1" r="0.9" fill="#7a3818"/><circle cx="60.5" cy="0.6" r="0.9" fill="#7a3818"/><circle cx="60.0" cy="6.9" r="1.0" fill="#7a3818"/><circle cx="72.8" cy="61.6" r="0.8" fill="#8a4420"/><circle cx="60.8" cy="25.2" r="1.0" fill="#8a4420"/><circle cx="32.6" cy="33.4" r="0.8" fill="#7a3818"/><circle cx="77.3" cy="30.2" r="1.2" fill="#8a4420"/><circle cx="42.8" cy="50.4" r="1.0" fill="#8a4420"/><circle cx="35.5" cy="44.1" r="1.3" fill="#6a2c10"/><circle cx="28.0" cy="51.2" r="1.2" fill="#8a4420"/><circle cx="41.2" cy="24.9" r="0.8" fill="#6a2c10"/><circle cx="7.6" cy="5.6" r="1.1" fill="#9a5530"/><circle cx="78.5" cy="31.3" r="1.2" fill="#7a3818"/><circle cx="7.3" cy="14.4" r="1.1" fill="#7a3818"/><circle cx="66.9" cy="33.4" r="1.2" fill="#6a2c10"/><circle cx="27.2" cy="9.6" r="0.9" fill="#6a2c10"/><circle cx="35.3" cy="7.9" r="1.1" fill="#a0603a"/><circle cx="57.3" cy="60.9" r="1.1" fill="#6a2c10"/><circle cx="42.2" cy="54.2" r="0.9" fill="#6a2c10"/><circle cx="21.3" cy="65.3" r="1.2" fill="#a0603a"/><circle cx="23.9" cy="24.4" r="1.0" fill="#6a2c10"/><circle cx="65.2" cy="39.5" r="1.2" fill="#a0603a"/><circle cx="35.5" cy="26.3" r="0.8" fill="#a0603a"/><circle cx="54.2" cy="11.9" r="1.2" fill="#6a2c10"/><circle cx="78.2" cy="14.9" r="0.8" fill="#8a4420"/><circle cx="54.6" cy="65.2" r="1.1" fill="#9a5530"/><circle cx="6.2" cy="36.9" r="1.2" fill="#7a3818"/><circle cx="32.2" cy="18.5" r="0.8" fill="#6a2c10"/><circle cx="8.2" cy="42.8" r="0.8" fill="#9a5530"/><circle cx="23.6" cy="14.9" r="1.2" fill="#a0603a"/><circle cx="32.6" cy="31.0" r="0.9" fill="#6a2c10"/><circle cx="64.8" cy="33.3" r="1.0" fill="#7a3818"/><circle cx="68.2" cy="61.8" r="1.0" fill="#6a2c10"/><circle cx="82.2" cy="54.4" r="1.2" fill="#9a5530"/><circle cx="92.2" cy="43.2" r="1.0" fill="#7a3818"/><circle cx="77.3" cy="28.5" r="1.0" fill="#8a4420"/><circle cx="23.7" cy="11.0" r="1.1" fill="#8a4420"/><circle cx="30.9" cy="26.3" r="1.0" fill="#6a2c10"/><circle cx="93.4" cy="4.0" r="0.9" fill="#7a3818"/><circle cx="29.2" cy="10.5" r="1.3" fill="#7a3818"/><circle cx="72.5" cy="1.2" r="1.0" fill="#7a3818"/><circle cx="30.1" cy="13.3" r="0.9" fill="#a0603a"/><circle cx="22.7" cy="48.4" r="1.1" fill="#8a4420"/><circle cx="42.6" cy="60.4" r="1.0" fill="#6a2c10"/><circle cx="60.4" cy="63.6" r="1.1" fill="#6a2c10"/><circle cx="46.7" cy="27.2" r="1.3" fill="#a0603a"/><circle cx="74.3" cy="6.2" r="1.2" fill="#9a5530"/><circle cx="4.8" cy="64.0" r="1.2" fill="#9a5530"/><circle cx="94.0" cy="53.6" r="1.2" fill="#7a3818"/><circle cx="63.3" cy="16.0" r="0.8" fill="#9a5530"/><circle cx="87.2" cy="30.4" r="0.9" fill="#9a5530"/><circle cx="58.4" cy="10.6" r="0.8" fill="#6a2c10"/><circle cx="13.9" cy="61.3" r="1.2" fill="#8a4420"/><circle cx="61.3" cy="67.0" r="0.9" fill="#a0603a"/><circle cx="5.1" cy="38.6" r="0.8" fill="#8a4420"/><circle cx="79.1" cy="57.1" r="1.2" fill="#7a3818"/><circle cx="33.9" cy="41.5" r="1.0" fill="#9a5530"/><circle cx="66.8" cy="5.6" r="1.2" fill="#a0603a"/><circle cx="82.6" cy="20.5" r="1.2" fill="#9a5530"/><circle cx="18.6" cy="46.1" r="1.2" fill="#9a5530"/><circle cx="20.1" cy="36.7" r="1.0" fill="#8a4420"/><circle cx="91.2" cy="65.1" r="0.9" fill="#9a5530"/><circle cx="7.3" cy="20.6" r="1.0" fill="#7a3818"/><circle cx="34.6" cy="46.4" r="0.8" fill="#9a5530"/><circle cx="65.1" cy="50.4" r="1.2" fill="#7a3818"/><circle cx="63.0" cy="0.8" r="1.0" fill="#9a5530"/><circle cx="22.9" cy="38.1" r="1.0" fill="#7a3818"/><circle cx="82.4" cy="57.0" r="1.1" fill="#a0603a"/><circle cx="14.7" cy="42.4" r="1.3" fill="#6a2c10"/><circle cx="91.9" cy="51.0" r="1.1" fill="#7a3818"/><circle cx="24.7" cy="13.5" r="1.2" fill="#6a2c10"/><circle cx="29.8" cy="18.5" r="1.0" fill="#6a2c10"/><circle cx="43.0" cy="25.8" r="0.8" fill="#a0603a"/><circle cx="9.1" cy="45.7" r="1.1" fill="#8a4420"/><circle cx="18.6" cy="2.5" r="1.0" fill="#7a3818"/><circle cx="9.7" cy="2.2" r="1.3" fill="#9a5530"/><circle cx="39.2" cy="4.9" r="1.3" fill="#9a5530"/><circle cx="89.3" cy="9.4" r="0.9" fill="#8a4420"/><circle cx="79.1" cy="26.1" r="0.9" fill="#9a5530"/><circle cx="60.0" cy="49.1" r="1.1" fill="#6a2c10"/><circle cx="94.6" cy="53.3" r="1.1" fill="#a0603a"/><circle cx="51.0" cy="17.6" r="0.9" fill="#6a2c10"/><circle cx="62.7" cy="7.2" r="1.0" fill="#a0603a"/><circle cx="32.0" cy="19.8" r="0.8" fill="#8a4420"/><circle cx="24.4" cy="36.4" r="0.9" fill="#8a4420"/><circle cx="34.0" cy="33.8" r="0.8" fill="#8a4420"/><circle cx="95.0" cy="34.8" r="1.1" fill="#8a4420"/><circle cx="54.6" cy="1.8" r="1.1" fill="#7a3818"/><circle cx="13.1" cy="32.3" r="1.0" fill="#6a2c10"/><circle cx="31.7" cy="62.7" r="0.9" fill="#9a5530"/><circle cx="85.0" cy="30.5" r="1.2" fill="#8a4420"/><circle cx="87.1" cy="36.7" r="1.1" fill="#a0603a"/><circle cx="88.1" cy="11.4" r="1.2" fill="#6a2c10"/><circle cx="57.9" cy="8.3" r="1.2" fill="#6a2c10"/><circle cx="66.0" cy="24.5" r="1.2" fill="#6a2c10"/><circle cx="80.0" cy="12.5" r="1.1" fill="#7a3818"/><circle cx="43.8" cy="27.2" r="1.2" fill="#8a4420"/><circle cx="29.6" cy="45.3" r="1.2" fill="#9a5530"/><circle cx="59.2" cy="43.2" r="1.2" fill="#8a4420"/><circle cx="19.2" cy="31.6" r="0.8" fill="#9a5530"/><circle cx="11.4" cy="27.4" r="0.9" fill="#8a4420"/><circle cx="25.4" cy="38.3" r="0.9" fill="#7a3818"/><circle cx="69.5" cy="53.2" r="1.0" fill="#9a5530"/><circle cx="57.8" cy="31.7" r="1.0" fill="#a0603a"/><circle cx="87.9" cy="38.1" r="1.0" fill="#6a2c10"/><circle cx="46.8" cy="67.1" r="1.2" fill="#9a5530"/><circle cx="79.5" cy="7.9" r="0.8" fill="#a0603a"/><circle cx="31.8" cy="35.1" r="1.0" fill="#7a3818"/><circle cx="30.9" cy="3.7" r="1.1" fill="#9a5530"/><circle cx="70.5" cy="40.3" r="1.2" fill="#6a2c10"/><circle cx="85.0" cy="59.2" r="0.9" fill="#9a5530"/><circle cx="23.3" cy="58.9" r="1.3" fill="#9a5530"/><circle cx="66.9" cy="35.5" r="0.9" fill="#6a2c10"/><circle cx="63.3" cy="63.5" r="1.2" fill="#6a2c10"/><circle cx="83.4" cy="28.4" r="1.2" fill="#8a4420"/><circle cx="62.5" cy="28.5" r="0.8" fill="#7a3818"/><circle cx="9.5" cy="53.5" r="0.8" fill="#a0603a"/><circle cx="55.5" cy="30.6" r="0.9" fill="#6a2c10"/><circle cx="2.3" cy="11.6" r="1.0" fill="#9a5530"/><circle cx="78.5" cy="26.8" r="0.9" fill="#a0603a"/><circle cx="22.2" cy="20.7" r="1.0" fill="#6a2c10"/><circle cx="29.6" cy="33.6" r="1.3" fill="#9a5530"/><circle cx="84.6" cy="13.7" r="1.2" fill="#7a3818"/><circle cx="18.8" cy="56.6" r="0.9" fill="#9a5530"/><circle cx="1.5" cy="42.9" r="1.1" fill="#a0603a"/><circle cx="19.5" cy="42.7" r="0.9" fill="#7a3818"/><circle cx="62.6" cy="20.7" r="1.2" fill="#6a2c10"/><circle cx="83.7" cy="48.1" r="0.8" fill="#9a5530"/><circle cx="40.0" cy="11.4" r="1.2" fill="#7a3818"/><circle cx="68.4" cy="13.3" r="0.8" fill="#8a4420"/><circle cx="48.3" cy="19.9" r="0.9" fill="#a0603a"/><circle cx="85.2" cy="39.8" r="0.9" fill="#6a2c10"/><circle cx="86.2" cy="12.2" r="0.9" fill="#8a4420"/><circle cx="61.6" cy="6.1" r="1.3" fill="#9a5530"/><circle cx="88.3" cy="5.0" r="1.2" fill="#7a3818"/><circle cx="57.8" cy="19.2" r="0.9" fill="#a0603a"/><circle cx="8.4" cy="19.2" r="1.2" fill="#8a4420"/><circle cx="17.3" cy="49.6" r="0.8" fill="#8a4420"/><circle cx="95.1" cy="2.3" r="1.0" fill="#a0603a"/><circle cx="37.0" cy="62.7" r="1.0" fill="#8a4420"/><circle cx="6.2" cy="52.4" r="1.3" fill="#6a2c10"/><circle cx="63.4" cy="52.9" r="1.0" fill="#a0603a"/><circle cx="79.6" cy="42.8" r="1.3" fill="#a0603a"/><circle cx="16.7" cy="52.6" r="0.8" fill="#a0603a"/><circle cx="41.9" cy="45.1" r="1.1" fill="#6a2c10"/><circle cx="75.7" cy="53.4" r="0.9" fill="#9a5530"/><circle cx="52.4" cy="57.6" r="1.1" fill="#6a2c10"/><circle cx="3.4" cy="40.3" r="1.1" fill="#a0603a"/><circle cx="43.2" cy="59.4" r="0.9" fill="#a0603a"/><circle cx="1.7" cy="33.5" r="1.0" fill="#9a5530"/><circle cx="69.6" cy="57.8" r="0.8" fill="#7a3818"/><circle cx="87.4" cy="38.4" r="1.0" fill="#8a4420"/><circle cx="60.0" cy="3.6" r="1.0" fill="#6a2c10"/><circle cx="78.9" cy="49.8" r="1.2" fill="#a0603a"/><circle cx="48.0" cy="43.9" r="1.0" fill="#9a5530"/><circle cx="24.5" cy="10.8" r="1.1" fill="#a0603a"/><circle cx="75.8" cy="4.1" r="1.0" fill="#6a2c10"/><circle cx="67.3" cy="47.5" r="1.3" fill="#8a4420"/><circle cx="47.1" cy="51.4" r="1.3" fill="#8a4420"/><circle cx="71.7" cy="35.2" r="1.3" fill="#7a3818"/><circle cx="23.2" cy="60.1" r="0.8" fill="#9a5530"/><circle cx="53.6" cy="31.9" r="1.3" fill="#7a3818"/><circle cx="65.5" cy="48.4" r="1.3" fill="#a0603a"/><circle cx="22.1" cy="17.1" r="1.1" fill="#8a4420"/><circle cx="40.3" cy="5.8" r="0.9" fill="#6a2c10"/><circle cx="32.5" cy="66.2" r="1.1" fill="#7a3818"/><circle cx="15.4" cy="39.5" r="1.3" fill="#6a2c10"/><circle cx="54.6" cy="61.6" r="1.2" fill="#8a4420"/><circle cx="44.5" cy="26.5" r="1.2" fill="#9a5530"/><circle cx="36.5" cy="3.3" r="1.0" fill="#8a4420"/><circle cx="17.7" cy="37.1" r="0.8" fill="#8a4420"/>
</svg>
<rect x="384.2" y="808.2" width="96.3" height="67.1" fill="#fff" filter="url(#kib2)"/>
<svg x="384.2" y="808.2" width="96.3" height="67.1" overflow="hidden">
<circle cx="45.7" cy="44.1" r="1.1" fill="#8a4420"/><circle cx="36.8" cy="66.9" r="1.0" fill="#9a5530"/><circle cx="66.5" cy="40.4" r="1.1" fill="#a0603a"/><circle cx="14.0" cy="29.5" r="0.8" fill="#8a4420"/><circle cx="5.7" cy="54.9" r="0.8" fill="#6a2c10"/><circle cx="65.6" cy="53.5" r="0.8" fill="#7a3818"/><circle cx="78.9" cy="44.4" r="0.9" fill="#9a5530"/><circle cx="91.2" cy="7.6" r="1.0" fill="#8a4420"/><circle cx="52.0" cy="59.2" r="1.1" fill="#7a3818"/><circle cx="53.5" cy="34.0" r="0.8" fill="#a0603a"/><circle cx="40.3" cy="40.0" r="1.0" fill="#9a5530"/><circle cx="52.1" cy="43.0" r="0.8" fill="#8a4420"/><circle cx="94.0" cy="44.5" r="0.9" fill="#6a2c10"/><circle cx="83.4" cy="25.9" r="0.9" fill="#6a2c10"/><circle cx="22.6" cy="24.4" r="1.0" fill="#a0603a"/><circle cx="17.3" cy="25.6" r="1.2" fill="#7a3818"/><circle cx="50.0" cy="14.9" r="1.0" fill="#9a5530"/><circle cx="19.7" cy="40.7" r="1.2" fill="#8a4420"/><circle cx="17.1" cy="46.7" r="0.8" fill="#6a2c10"/><circle cx="48.0" cy="40.4" r="1.1" fill="#a0603a"/><circle cx="44.2" cy="14.0" r="0.9" fill="#9a5530"/><circle cx="67.1" cy="57.4" r="0.9" fill="#8a4420"/><circle cx="44.8" cy="36.8" r="0.9" fill="#8a4420"/><circle cx="87.8" cy="0.4" r="0.9" fill="#6a2c10"/><circle cx="17.3" cy="53.3" r="1.0" fill="#8a4420"/><circle cx="59.6" cy="66.0" r="1.3" fill="#a0603a"/><circle cx="14.9" cy="62.2" r="1.2" fill="#6a2c10"/><circle cx="61.6" cy="15.4" r="1.0" fill="#9a5530"/><circle cx="47.2" cy="23.7" r="1.1" fill="#9a5530"/><circle cx="86.1" cy="10.9" r="0.9" fill="#7a3818"/><circle cx="26.8" cy="63.3" r="1.0" fill="#9a5530"/><circle cx="67.9" cy="14.4" r="0.9" fill="#6a2c10"/><circle cx="2.7" cy="0.2" r="0.8" fill="#a0603a"/><circle cx="85.4" cy="28.2" r="0.9" fill="#9a5530"/><circle cx="45.4" cy="3.9" r="1.1" fill="#6a2c10"/><circle cx="73.2" cy="28.0" r="1.1" fill="#9a5530"/><circle cx="76.0" cy="38.9" r="0.9" fill="#6a2c10"/><circle cx="61.4" cy="25.8" r="0.8" fill="#8a4420"/><circle cx="87.0" cy="53.5" r="1.2" fill="#9a5530"/><circle cx="51.5" cy="52.9" r="1.0" fill="#7a3818"/><circle cx="68.4" cy="12.7" r="0.9" fill="#a0603a"/><circle cx="47.4" cy="41.0" r="0.9" fill="#a0603a"/><circle cx="67.5" cy="26.4" r="0.9" fill="#9a5530"/><circle cx="34.3" cy="5.5" r="0.9" fill="#7a3818"/><circle cx="69.4" cy="20.8" r="0.8" fill="#9a5530"/><circle cx="35.2" cy="2.0" r="1.0" fill="#9a5530"/><circle cx="46.7" cy="3.8" r="1.1" fill="#9a5530"/><circle cx="23.0" cy="22.0" r="1.3" fill="#7a3818"/><circle cx="92.8" cy="24.6" r="1.2" fill="#9a5530"/><circle cx="28.5" cy="34.7" r="0.8" fill="#6a2c10"/><circle cx="15.6" cy="31.2" r="1.1" fill="#8a4420"/><circle cx="44.3" cy="52.7" r="0.8" fill="#8a4420"/><circle cx="39.2" cy="46.9" r="1.2" fill="#a0603a"/><circle cx="64.8" cy="44.5" r="1.3" fill="#a0603a"/><circle cx="54.9" cy="20.9" r="1.2" fill="#7a3818"/><circle cx="31.0" cy="33.5" r="0.9" fill="#6a2c10"/><circle cx="16.4" cy="32.0" r="1.2" fill="#8a4420"/><circle cx="24.3" cy="3.1" r="1.2" fill="#6a2c10"/><circle cx="39.3" cy="42.1" r="0.9" fill="#a0603a"/><circle cx="30.9" cy="8.4" r="1.1" fill="#a0603a"/><circle cx="76.7" cy="25.4" r="1.0" fill="#6a2c10"/><circle cx="32.7" cy="51.6" r="1.0" fill="#9a5530"/><circle cx="78.5" cy="12.3" r="1.2" fill="#6a2c10"/><circle cx="10.6" cy="18.0" r="1.2" fill="#6a2c10"/><circle cx="94.4" cy="61.4" r="1.2" fill="#6a2c10"/><circle cx="80.2" cy="14.2" r="1.2" fill="#7a3818"/><circle cx="53.5" cy="2.9" r="1.2" fill="#8a4420"/><circle cx="15.7" cy="48.0" r="0.9" fill="#8a4420"/><circle cx="94.5" cy="51.9" r="1.1" fill="#7a3818"/><circle cx="58.4" cy="6.9" r="1.1" fill="#a0603a"/><circle cx="19.3" cy="6.6" r="0.8" fill="#8a4420"/><circle cx="77.1" cy="33.9" r="1.1" fill="#9a5530"/><circle cx="34.3" cy="56.4" r="1.2" fill="#a0603a"/><circle cx="2.7" cy="56.7" r="0.8" fill="#8a4420"/><circle cx="47.3" cy="57.4" r="1.1" fill="#9a5530"/><circle cx="52.8" cy="64.6" r="1.0" fill="#7a3818"/><circle cx="80.8" cy="8.7" r="0.8" fill="#7a3818"/><circle cx="40.7" cy="54.1" r="1.2" fill="#8a4420"/><circle cx="3.0" cy="46.1" r="1.1" fill="#7a3818"/><circle cx="57.1" cy="39.4" r="1.2" fill="#8a4420"/><circle cx="44.4" cy="22.6" r="1.1" fill="#6a2c10"/><circle cx="77.1" cy="26.2" r="1.1" fill="#6a2c10"/><circle cx="91.7" cy="66.2" r="1.2" fill="#6a2c10"/><circle cx="13.7" cy="8.2" r="1.0" fill="#8a4420"/><circle cx="64.4" cy="0.8" r="0.9" fill="#9a5530"/><circle cx="42.0" cy="22.8" r="1.0" fill="#6a2c10"/><circle cx="32.7" cy="25.6" r="1.2" fill="#9a5530"/><circle cx="33.0" cy="59.7" r="1.1" fill="#a0603a"/><circle cx="34.8" cy="15.5" r="1.0" fill="#a0603a"/><circle cx="54.4" cy="56.3" r="1.1" fill="#9a5530"/><circle cx="71.7" cy="16.9" r="1.0" fill="#7a3818"/><circle cx="11.5" cy="39.4" r="1.0" fill="#6a2c10"/><circle cx="52.8" cy="40.0" r="1.1" fill="#9a5530"/><circle cx="32.3" cy="25.1" r="1.2" fill="#6a2c10"/><circle cx="90.9" cy="40.1" r="0.8" fill="#a0603a"/><circle cx="38.5" cy="13.8" r="0.9" fill="#6a2c10"/><circle cx="59.3" cy="57.6" r="0.8" fill="#6a2c10"/><circle cx="32.0" cy="44.1" r="1.0" fill="#a0603a"/><circle cx="31.6" cy="36.1" r="1.2" fill="#a0603a"/><circle cx="9.7" cy="16.8" r="1.2" fill="#7a3818"/><circle cx="64.9" cy="11.5" r="1.0" fill="#6a2c10"/><circle cx="6.5" cy="46.2" r="0.9" fill="#6a2c10"/><circle cx="61.4" cy="42.8" r="1.1" fill="#9a5530"/><circle cx="71.6" cy="20.8" r="0.8" fill="#9a5530"/><circle cx="37.7" cy="31.2" r="0.9" fill="#8a4420"/><circle cx="23.0" cy="35.3" r="1.1" fill="#a0603a"/><circle cx="63.5" cy="48.0" r="1.2" fill="#6a2c10"/><circle cx="34.2" cy="20.6" r="0.8" fill="#6a2c10"/><circle cx="37.6" cy="64.9" r="1.2" fill="#8a4420"/><circle cx="66.4" cy="34.9" r="1.1" fill="#8a4420"/><circle cx="25.0" cy="27.8" r="0.8" fill="#7a3818"/><circle cx="43.6" cy="35.6" r="0.9" fill="#8a4420"/><circle cx="11.7" cy="55.8" r="1.0" fill="#9a5530"/><circle cx="29.6" cy="6.3" r="0.9" fill="#8a4420"/><circle cx="36.6" cy="35.5" r="0.9" fill="#a0603a"/><circle cx="79.0" cy="52.7" r="0.8" fill="#8a4420"/><circle cx="73.7" cy="37.0" r="1.2" fill="#6a2c10"/><circle cx="3.3" cy="36.7" r="1.0" fill="#9a5530"/><circle cx="59.5" cy="12.4" r="1.2" fill="#7a3818"/><circle cx="42.0" cy="1.4" r="1.0" fill="#6a2c10"/><circle cx="81.0" cy="5.7" r="1.1" fill="#a0603a"/><circle cx="43.8" cy="52.9" r="1.3" fill="#a0603a"/><circle cx="38.5" cy="0.5" r="1.0" fill="#9a5530"/><circle cx="86.7" cy="1.6" r="1.2" fill="#a0603a"/><circle cx="65.3" cy="18.6" r="0.9" fill="#6a2c10"/><circle cx="39.2" cy="53.7" r="1.2" fill="#a0603a"/><circle cx="7.8" cy="45.6" r="0.8" fill="#6a2c10"/><circle cx="62.6" cy="24.4" r="0.9" fill="#7a3818"/><circle cx="63.0" cy="55.4" r="0.8" fill="#8a4420"/><circle cx="6.2" cy="10.1" r="1.2" fill="#a0603a"/><circle cx="51.3" cy="11.9" r="1.2" fill="#6a2c10"/><circle cx="94.2" cy="15.0" r="1.0" fill="#8a4420"/><circle cx="27.2" cy="38.2" r="1.1" fill="#8a4420"/><circle cx="79.3" cy="50.4" r="0.9" fill="#9a5530"/><circle cx="19.8" cy="64.0" r="1.3" fill="#6a2c10"/><circle cx="34.5" cy="6.3" r="1.0" fill="#9a5530"/><circle cx="34.2" cy="2.7" r="0.9" fill="#a0603a"/><circle cx="59.9" cy="37.2" r="0.8" fill="#a0603a"/><circle cx="84.0" cy="21.1" r="1.3" fill="#7a3818"/><circle cx="88.4" cy="16.1" r="1.0" fill="#8a4420"/><circle cx="85.2" cy="5.9" r="1.3" fill="#a0603a"/><circle cx="16.9" cy="28.9" r="1.2" fill="#6a2c10"/><circle cx="96.1" cy="52.3" r="1.0" fill="#6a2c10"/><circle cx="30.5" cy="3.5" r="1.3" fill="#6a2c10"/><circle cx="63.6" cy="32.2" r="0.9" fill="#8a4420"/><circle cx="59.8" cy="55.4" r="1.1" fill="#9a5530"/><circle cx="86.3" cy="62.6" r="1.0" fill="#9a5530"/><circle cx="51.4" cy="26.2" r="0.9" fill="#8a4420"/><circle cx="81.4" cy="45.5" r="1.1" fill="#8a4420"/><circle cx="51.1" cy="48.1" r="1.3" fill="#7a3818"/><circle cx="19.4" cy="27.6" r="0.8" fill="#a0603a"/><circle cx="6.8" cy="31.5" r="1.3" fill="#9a5530"/><circle cx="49.8" cy="29.1" r="1.0" fill="#8a4420"/><circle cx="16.3" cy="56.7" r="1.1" fill="#8a4420"/><circle cx="62.6" cy="9.7" r="1.0" fill="#8a4420"/><circle cx="69.7" cy="42.0" r="1.1" fill="#7a3818"/><circle cx="22.5" cy="49.0" r="1.0" fill="#8a4420"/><circle cx="15.3" cy="5.9" r="1.3" fill="#a0603a"/><circle cx="95.8" cy="37.7" r="0.9" fill="#9a5530"/><circle cx="76.4" cy="65.1" r="1.2" fill="#a0603a"/><circle cx="52.9" cy="16.6" r="1.2" fill="#6a2c10"/><circle cx="24.1" cy="26.4" r="1.1" fill="#a0603a"/><circle cx="84.6" cy="44.9" r="1.0" fill="#7a3818"/><circle cx="43.4" cy="34.9" r="1.3" fill="#9a5530"/><circle cx="74.0" cy="37.4" r="1.1" fill="#7a3818"/><circle cx="0.8" cy="49.3" r="0.8" fill="#6a2c10"/><circle cx="53.8" cy="6.0" r="1.1" fill="#a0603a"/><circle cx="78.6" cy="34.3" r="1.2" fill="#7a3818"/><circle cx="76.5" cy="61.5" r="0.8" fill="#6a2c10"/><circle cx="94.2" cy="0.7" r="0.8" fill="#7a3818"/><circle cx="25.6" cy="59.7" r="0.9" fill="#6a2c10"/><circle cx="11.4" cy="44.2" r="0.8" fill="#a0603a"/><circle cx="76.8" cy="6.5" r="1.1" fill="#9a5530"/><circle cx="35.8" cy="18.8" r="0.9" fill="#7a3818"/><circle cx="10.2" cy="18.3" r="1.1" fill="#6a2c10"/><circle cx="74.9" cy="32.1" r="0.9" fill="#7a3818"/><circle cx="8.2" cy="0.5" r="0.9" fill="#9a5530"/><circle cx="65.4" cy="57.9" r="1.3" fill="#9a5530"/><circle cx="85.2" cy="51.3" r="1.0" fill="#7a3818"/><circle cx="8.9" cy="59.6" r="0.8" fill="#9a5530"/><circle cx="16.2" cy="66.4" r="1.2" fill="#9a5530"/><circle cx="30.1" cy="20.0" r="1.2" fill="#7a3818"/><circle cx="0.2" cy="13.2" r="1.0" fill="#a0603a"/><circle cx="30.1" cy="47.9" r="0.8" fill="#8a4420"/><circle cx="77.4" cy="27.8" r="0.8" fill="#6a2c10"/><circle cx="95.2" cy="0.4" r="1.0" fill="#6a2c10"/><circle cx="7.3" cy="22.7" r="0.8" fill="#6a2c10"/><circle cx="40.8" cy="17.9" r="0.8" fill="#8a4420"/><circle cx="19.9" cy="52.4" r="1.3" fill="#a0603a"/><circle cx="78.4" cy="49.5" r="0.9" fill="#7a3818"/><circle cx="4.9" cy="53.4" r="1.1" fill="#8a4420"/><circle cx="2.1" cy="24.8" r="1.2" fill="#6a2c10"/><circle cx="20.3" cy="64.9" r="1.1" fill="#7a3818"/><circle cx="81.4" cy="61.9" r="1.1" fill="#9a5530"/><circle cx="17.8" cy="42.1" r="1.1" fill="#6a2c10"/><circle cx="41.2" cy="12.5" r="0.8" fill="#9a5530"/><circle cx="72.7" cy="61.6" r="0.8" fill="#7a3818"/><circle cx="4.9" cy="49.3" r="1.2" fill="#7a3818"/><circle cx="91.6" cy="11.1" r="1.0" fill="#9a5530"/><circle cx="83.2" cy="22.0" r="0.8" fill="#9a5530"/><circle cx="94.7" cy="45.3" r="1.3" fill="#7a3818"/><circle cx="45.4" cy="43.0" r="1.0" fill="#a0603a"/><circle cx="29.8" cy="35.5" r="1.0" fill="#9a5530"/><circle cx="55.7" cy="36.7" r="1.0" fill="#8a4420"/><circle cx="56.5" cy="63.1" r="1.2" fill="#6a2c10"/><circle cx="16.5" cy="65.3" r="1.2" fill="#6a2c10"/><circle cx="50.7" cy="48.8" r="0.8" fill="#8a4420"/><circle cx="79.5" cy="55.6" r="0.8" fill="#9a5530"/><circle cx="53.9" cy="59.2" r="1.0" fill="#8a4420"/><circle cx="95.0" cy="46.8" r="1.1" fill="#8a4420"/><circle cx="17.2" cy="45.8" r="0.9" fill="#a0603a"/><circle cx="47.8" cy="45.8" r="1.3" fill="#8a4420"/><circle cx="2.1" cy="62.2" r="0.8" fill="#8a4420"/><circle cx="76.0" cy="17.2" r="1.1" fill="#a0603a"/><circle cx="27.4" cy="22.5" r="1.3" fill="#9a5530"/><circle cx="63.3" cy="46.6" r="0.8" fill="#a0603a"/><circle cx="83.5" cy="36.0" r="1.0" fill="#8a4420"/><circle cx="73.6" cy="35.7" r="1.3" fill="#7a3818"/><circle cx="86.7" cy="8.3" r="1.0" fill="#a0603a"/><circle cx="90.9" cy="41.1" r="1.2" fill="#9a5530"/><circle cx="4.2" cy="23.5" r="0.9" fill="#9a5530"/><circle cx="10.1" cy="44.9" r="1.1" fill="#6a2c10"/><circle cx="36.4" cy="12.6" r="1.0" fill="#6a2c10"/><circle cx="23.6" cy="62.0" r="0.9" fill="#9a5530"/><circle cx="58.0" cy="58.7" r="1.3" fill="#8a4420"/><circle cx="73.5" cy="42.0" r="1.0" fill="#7a3818"/><circle cx="74.6" cy="9.9" r="1.2" fill="#9a5530"/><circle cx="35.7" cy="33.9" r="1.1" fill="#a0603a"/><circle cx="47.8" cy="44.9" r="0.8" fill="#8a4420"/><circle cx="13.9" cy="54.4" r="1.0" fill="#6a2c10"/><circle cx="27.5" cy="13.8" r="1.1" fill="#9a5530"/><circle cx="59.3" cy="54.7" r="0.8" fill="#9a5530"/><circle cx="82.4" cy="34.5" r="1.1" fill="#6a2c10"/><circle cx="22.2" cy="2.9" r="1.1" fill="#9a5530"/><circle cx="72.9" cy="41.0" r="0.8" fill="#6a2c10"/><circle cx="9.6" cy="50.6" r="0.8" fill="#a0603a"/><circle cx="77.1" cy="61.2" r="1.3" fill="#9a5530"/><circle cx="17.2" cy="54.7" r="1.0" fill="#a0603a"/><circle cx="57.2" cy="2.4" r="1.3" fill="#9a5530"/><circle cx="34.9" cy="51.5" r="1.3" fill="#8a4420"/><circle cx="87.7" cy="53.3" r="1.0" fill="#6a2c10"/><circle cx="11.3" cy="19.9" r="0.8" fill="#9a5530"/><circle cx="79.4" cy="42.1" r="1.2" fill="#8a4420"/><circle cx="6.3" cy="50.5" r="0.8" fill="#8a4420"/><circle cx="71.8" cy="51.6" r="1.1" fill="#7a3818"/><circle cx="30.0" cy="62.6" r="1.1" fill="#7a3818"/><circle cx="25.8" cy="32.2" r="1.1" fill="#8a4420"/><circle cx="31.2" cy="27.9" r="1.2" fill="#9a5530"/><circle cx="16.7" cy="45.6" r="1.2" fill="#a0603a"/><circle cx="71.0" cy="16.5" r="0.9" fill="#9a5530"/><circle cx="24.7" cy="8.5" r="0.8" fill="#a0603a"/><circle cx="19.1" cy="49.8" r="0.9" fill="#a0603a"/><circle cx="31.2" cy="0.7" r="1.2" fill="#a0603a"/><circle cx="48.6" cy="42.1" r="0.8" fill="#9a5530"/><circle cx="96.2" cy="11.7" r="1.0" fill="#a0603a"/><circle cx="57.7" cy="54.2" r="1.2" fill="#6a2c10"/><circle cx="52.3" cy="9.3" r="1.0" fill="#9a5530"/><circle cx="39.9" cy="38.7" r="0.9" fill="#9a5530"/><circle cx="68.3" cy="43.9" r="1.2" fill="#6a2c10"/><circle cx="59.1" cy="35.1" r="1.0" fill="#8a4420"/><circle cx="55.4" cy="18.8" r="0.8" fill="#a0603a"/><circle cx="49.4" cy="8.8" r="1.1" fill="#6a2c10"/><circle cx="77.3" cy="9.7" r="1.1" fill="#6a2c10"/><circle cx="75.6" cy="34.1" r="1.0" fill="#8a4420"/><circle cx="86.5" cy="48.1" r="0.9" fill="#9a5530"/><circle cx="0.7" cy="64.1" r="1.2" fill="#9a5530"/><circle cx="65.5" cy="33.4" r="1.2" fill="#8a4420"/><circle cx="80.8" cy="25.3" r="0.9" fill="#9a5530"/><circle cx="34.2" cy="47.1" r="1.0" fill="#a0603a"/><circle cx="57.5" cy="44.1" r="1.1" fill="#8a4420"/><circle cx="43.0" cy="8.1" r="1.0" fill="#7a3818"/><circle cx="85.3" cy="9.0" r="1.0" fill="#9a5530"/><circle cx="55.0" cy="25.8" r="1.2" fill="#8a4420"/><circle cx="70.2" cy="31.2" r="1.2" fill="#a0603a"/><circle cx="70.0" cy="27.3" r="1.2" fill="#a0603a"/><circle cx="64.9" cy="39.1" r="1.0" fill="#9a5530"/><circle cx="37.5" cy="42.0" r="1.3" fill="#8a4420"/><circle cx="7.7" cy="17.4" r="0.8" fill="#8a4420"/><circle cx="87.2" cy="44.6" r="0.8" fill="#9a5530"/><circle cx="83.9" cy="54.2" r="1.2" fill="#6a2c10"/><circle cx="65.8" cy="51.5" r="0.8" fill="#7a3818"/><circle cx="79.0" cy="24.2" r="0.9" fill="#7a3818"/><circle cx="32.7" cy="34.1" r="0.9" fill="#7a3818"/><circle cx="91.9" cy="52.3" r="1.0" fill="#9a5530"/><circle cx="1.9" cy="30.8" r="1.3" fill="#a0603a"/><circle cx="84.2" cy="16.9" r="0.8" fill="#7a3818"/><circle cx="50.6" cy="54.4" r="1.1" fill="#9a5530"/><circle cx="48.7" cy="27.4" r="1.1" fill="#8a4420"/><circle cx="87.4" cy="24.4" r="0.9" fill="#a0603a"/><circle cx="56.9" cy="37.6" r="0.8" fill="#a0603a"/><circle cx="20.8" cy="17.5" r="0.9" fill="#7a3818"/><circle cx="58.5" cy="10.6" r="0.9" fill="#a0603a"/><circle cx="55.8" cy="8.9" r="1.3" fill="#7a3818"/><circle cx="7.5" cy="24.6" r="1.1" fill="#a0603a"/><circle cx="62.8" cy="60.6" r="0.8" fill="#a0603a"/><circle cx="21.2" cy="48.4" r="1.0" fill="#a0603a"/><circle cx="77.1" cy="33.7" r="1.0" fill="#a0603a"/><circle cx="54.5" cy="63.1" r="0.9" fill="#7a3818"/><circle cx="48.0" cy="56.4" r="1.2" fill="#7a3818"/><circle cx="51.2" cy="28.8" r="1.2" fill="#a0603a"/><circle cx="10.8" cy="23.9" r="0.8" fill="#6a2c10"/><circle cx="29.9" cy="17.5" r="1.1" fill="#7a3818"/><circle cx="28.1" cy="44.4" r="1.1" fill="#6a2c10"/><circle cx="53.1" cy="28.1" r="1.0" fill="#6a2c10"/><circle cx="62.5" cy="6.8" r="0.8" fill="#a0603a"/><circle cx="47.6" cy="58.1" r="0.8" fill="#6a2c10"/><circle cx="45.1" cy="44.9" r="0.8" fill="#a0603a"/><circle cx="43.0" cy="66.6" r="1.3" fill="#6a2c10"/><circle cx="62.0" cy="13.0" r="1.1" fill="#8a4420"/><circle cx="45.7" cy="10.7" r="1.3" fill="#6a2c10"/><circle cx="45.9" cy="60.4" r="1.2" fill="#8a4420"/><circle cx="41.8" cy="38.2" r="1.2" fill="#7a3818"/><circle cx="22.5" cy="24.2" r="1.1" fill="#7a3818"/><circle cx="29.6" cy="42.3" r="0.9" fill="#7a3818"/><circle cx="25.1" cy="24.5" r="1.0" fill="#7a3818"/><circle cx="17.4" cy="19.6" r="1.1" fill="#8a4420"/><circle cx="53.5" cy="50.3" r="1.0" fill="#6a2c10"/><circle cx="66.1" cy="9.8" r="0.9" fill="#6a2c10"/><circle cx="21.1" cy="16.3" r="0.8" fill="#a0603a"/><circle cx="75.9" cy="2.5" r="1.2" fill="#7a3818"/><circle cx="14.8" cy="65.9" r="1.0" fill="#a0603a"/><circle cx="31.2" cy="33.0" r="1.2" fill="#6a2c10"/><circle cx="81.7" cy="34.7" r="1.2" fill="#8a4420"/><circle cx="10.0" cy="62.5" r="1.3" fill="#8a4420"/><circle cx="89.0" cy="12.5" r="1.1" fill="#6a2c10"/><circle cx="32.8" cy="0.3" r="0.8" fill="#a0603a"/><circle cx="3.2" cy="24.4" r="0.9" fill="#6a2c10"/><circle cx="78.8" cy="9.2" r="1.1" fill="#9a5530"/><circle cx="17.8" cy="39.2" r="1.3" fill="#6a2c10"/><circle cx="29.8" cy="7.1" r="1.3" fill="#a0603a"/><circle cx="77.9" cy="47.5" r="1.1" fill="#a0603a"/><circle cx="10.7" cy="46.1" r="0.8" fill="#7a3818"/><circle cx="79.5" cy="49.3" r="0.9" fill="#6a2c10"/><circle cx="28.4" cy="19.3" r="1.1" fill="#a0603a"/><circle cx="19.9" cy="66.5" r="1.3" fill="#9a5530"/><circle cx="29.6" cy="9.8" r="1.1" fill="#9a5530"/><circle cx="75.9" cy="63.1" r="1.3" fill="#a0603a"/><circle cx="92.1" cy="11.6" r="1.0" fill="#9a5530"/><circle cx="82.3" cy="32.1" r="0.8" fill="#7a3818"/><circle cx="52.9" cy="9.2" r="1.1" fill="#6a2c10"/><circle cx="19.6" cy="52.1" r="1.0" fill="#9a5530"/><circle cx="16.0" cy="20.3" r="0.8" fill="#a0603a"/><circle cx="73.2" cy="44.4" r="0.8" fill="#8a4420"/><circle cx="9.6" cy="20.3" r="1.1" fill="#7a3818"/><circle cx="74.7" cy="33.3" r="1.0" fill="#8a4420"/><circle cx="26.1" cy="4.9" r="0.9" fill="#a0603a"/><circle cx="17.6" cy="11.6" r="0.9" fill="#8a4420"/><circle cx="62.4" cy="13.1" r="1.2" fill="#9a5530"/><circle cx="12.8" cy="10.0" r="1.1" fill="#7a3818"/><circle cx="62.2" cy="47.0" r="1.3" fill="#a0603a"/><circle cx="58.6" cy="40.2" r="0.8" fill="#8a4420"/><circle cx="93.0" cy="51.7" r="0.8" fill="#7a3818"/><circle cx="5.0" cy="54.1" r="0.9" fill="#8a4420"/><circle cx="65.9" cy="5.8" r="0.9" fill="#a0603a"/><circle cx="17.9" cy="47.8" r="0.9" fill="#8a4420"/><circle cx="96.2" cy="22.3" r="0.8" fill="#7a3818"/><circle cx="80.8" cy="11.8" r="1.3" fill="#6a2c10"/><circle cx="39.4" cy="17.3" r="0.8" fill="#8a4420"/><circle cx="73.6" cy="45.7" r="0.9" fill="#9a5530"/><circle cx="78.5" cy="10.4" r="1.3" fill="#7a3818"/><circle cx="33.7" cy="54.4" r="0.8" fill="#a0603a"/><circle cx="66.9" cy="61.9" r="0.8" fill="#a0603a"/><circle cx="71.1" cy="4.5" r="1.1" fill="#9a5530"/><circle cx="96.3" cy="6.2" r="0.9" fill="#6a2c10"/><circle cx="44.8" cy="20.6" r="0.8" fill="#6a2c10"/><circle cx="79.4" cy="43.8" r="0.9" fill="#9a5530"/><circle cx="14.7" cy="18.4" r="1.2" fill="#a0603a"/><circle cx="6.4" cy="28.7" r="1.2" fill="#8a4420"/><circle cx="3.2" cy="56.5" r="1.2" fill="#8a4420"/><circle cx="25.2" cy="27.2" r="1.2" fill="#a0603a"/><circle cx="36.3" cy="59.7" r="0.9" fill="#a0603a"/><circle cx="53.7" cy="11.8" r="1.1" fill="#a0603a"/><circle cx="29.3" cy="62.4" r="1.1" fill="#9a5530"/><circle cx="8.1" cy="63.3" r="1.2" fill="#7a3818"/><circle cx="49.2" cy="24.7" r="0.9" fill="#a0603a"/><circle cx="81.8" cy="41.3" r="1.2" fill="#9a5530"/><circle cx="11.0" cy="19.3" r="1.3" fill="#6a2c10"/><circle cx="32.4" cy="42.2" r="1.3" fill="#a0603a"/><circle cx="45.9" cy="26.3" r="0.8" fill="#8a4420"/><circle cx="75.2" cy="47.0" r="1.1" fill="#8a4420"/><circle cx="6.8" cy="35.0" r="1.1" fill="#a0603a"/><circle cx="77.6" cy="63.9" r="1.2" fill="#7a3818"/><circle cx="33.8" cy="13.8" r="1.1" fill="#8a4420"/><circle cx="8.7" cy="22.3" r="1.2" fill="#7a3818"/><circle cx="59.6" cy="12.1" r="0.9" fill="#7a3818"/><circle cx="42.3" cy="47.3" r="0.9" fill="#a0603a"/><circle cx="45.8" cy="41.6" r="0.8" fill="#6a2c10"/><circle cx="13.8" cy="44.7" r="0.8" fill="#8a4420"/><circle cx="31.6" cy="2.8" r="1.3" fill="#6a2c10"/><circle cx="78.2" cy="54.6" r="1.3" fill="#8a4420"/><circle cx="26.4" cy="14.8" r="0.9" fill="#6a2c10"/><circle cx="69.6" cy="18.3" r="0.9" fill="#9a5530"/><circle cx="24.3" cy="16.8" r="0.8" fill="#a0603a"/><circle cx="4.7" cy="53.5" r="1.2" fill="#8a4420"/><circle cx="70.7" cy="18.5" r="1.1" fill="#8a4420"/><circle cx="55.3" cy="3.4" r="0.9" fill="#9a5530"/><circle cx="24.6" cy="37.1" r="1.0" fill="#8a4420"/><circle cx="36.6" cy="34.3" r="1.0" fill="#a0603a"/><circle cx="23.2" cy="28.3" r="1.1" fill="#7a3818"/><circle cx="64.3" cy="33.2" r="0.8" fill="#8a4420"/><circle cx="2.7" cy="20.7" r="0.9" fill="#7a3818"/><circle cx="1.4" cy="40.2" r="0.9" fill="#7a3818"/><circle cx="46.9" cy="21.7" r="1.0" fill="#6a2c10"/><circle cx="65.3" cy="63.2" r="1.1" fill="#6a2c10"/><circle cx="12.4" cy="27.1" r="1.1" fill="#a0603a"/><circle cx="83.1" cy="58.0" r="1.0" fill="#8a4420"/><circle cx="64.4" cy="11.0" r="1.2" fill="#a0603a"/><circle cx="85.5" cy="1.6" r="0.9" fill="#8a4420"/><circle cx="39.2" cy="51.9" r="1.2" fill="#a0603a"/><circle cx="81.6" cy="25.3" r="1.2" fill="#7a3818"/><circle cx="87.1" cy="24.5" r="1.2" fill="#8a4420"/><circle cx="38.2" cy="41.2" r="1.1" fill="#8a4420"/><circle cx="18.0" cy="44.1" r="1.1" fill="#8a4420"/><circle cx="71.8" cy="7.6" r="0.8" fill="#9a5530"/><circle cx="24.7" cy="6.7" r="0.9" fill="#8a4420"/><circle cx="89.7" cy="61.8" r="0.9" fill="#a0603a"/><circle cx="90.2" cy="61.4" r="0.9" fill="#6a2c10"/><circle cx="4.3" cy="58.1" r="1.2" fill="#6a2c10"/><circle cx="35.5" cy="48.9" r="1.1" fill="#7a3818"/><circle cx="73.0" cy="42.1" r="1.0" fill="#a0603a"/><circle cx="68.5" cy="32.5" r="0.9" fill="#a0603a"/><circle cx="9.4" cy="43.1" r="1.0" fill="#8a4420"/><circle cx="39.9" cy="28.9" r="1.0" fill="#a0603a"/><circle cx="55.9" cy="35.7" r="1.2" fill="#9a5530"/><circle cx="38.1" cy="2.2" r="1.1" fill="#8a4420"/><circle cx="51.6" cy="17.2" r="0.8" fill="#a0603a"/><circle cx="82.0" cy="12.2" r="1.2" fill="#7a3818"/><circle cx="61.8" cy="36.7" r="1.1" fill="#9a5530"/><circle cx="87.6" cy="55.3" r="0.8" fill="#8a4420"/><circle cx="62.6" cy="57.7" r="1.2" fill="#7a3818"/><circle cx="11.1" cy="33.8" r="0.9" fill="#a0603a"/><circle cx="39.0" cy="10.8" r="1.2" fill="#8a4420"/><circle cx="41.5" cy="10.3" r="1.0" fill="#a0603a"/><circle cx="92.6" cy="29.3" r="0.8" fill="#8a4420"/><circle cx="0.1" cy="1.4" r="0.8" fill="#7a3818"/><circle cx="84.7" cy="26.6" r="1.1" fill="#9a5530"/><circle cx="47.6" cy="25.5" r="1.2" fill="#a0603a"/><circle cx="40.1" cy="54.7" r="0.9" fill="#7a3818"/><circle cx="60.9" cy="57.5" r="0.8" fill="#6a2c10"/><circle cx="24.4" cy="4.9" r="0.8" fill="#6a2c10"/><circle cx="48.3" cy="63.8" r="0.9" fill="#8a4420"/><circle cx="48.3" cy="26.9" r="0.9" fill="#6a2c10"/><circle cx="91.3" cy="32.7" r="0.8" fill="#7a3818"/><circle cx="85.0" cy="38.5" r="1.0" fill="#6a2c10"/><circle cx="34.5" cy="1.4" r="1.3" fill="#9a5530"/><circle cx="12.0" cy="16.6" r="1.3" fill="#9a5530"/><circle cx="76.8" cy="14.8" r="1.2" fill="#a0603a"/><circle cx="48.8" cy="63.0" r="0.8" fill="#8a4420"/><circle cx="77.2" cy="36.9" r="1.0" fill="#6a2c10"/><circle cx="88.2" cy="48.2" r="1.3" fill="#a0603a"/><circle cx="16.0" cy="28.0" r="0.8" fill="#8a4420"/><circle cx="75.0" cy="21.5" r="0.9" fill="#9a5530"/><circle cx="31.8" cy="11.5" r="0.9" fill="#8a4420"/><circle cx="78.1" cy="18.0" r="1.1" fill="#a0603a"/><circle cx="35.2" cy="28.5" r="1.1" fill="#8a4420"/><circle cx="9.9" cy="7.1" r="1.1" fill="#8a4420"/><circle cx="82.4" cy="44.9" r="1.3" fill="#8a4420"/><circle cx="80.6" cy="9.9" r="0.9" fill="#9a5530"/><circle cx="48.5" cy="6.2" r="1.0" fill="#8a4420"/><circle cx="88.9" cy="66.4" r="0.8" fill="#6a2c10"/><circle cx="3.4" cy="15.5" r="1.3" fill="#8a4420"/><circle cx="47.0" cy="0.9" r="0.9" fill="#a0603a"/><circle cx="85.1" cy="20.9" r="1.1" fill="#9a5530"/><circle cx="56.0" cy="23.8" r="0.8" fill="#7a3818"/><circle cx="48.9" cy="1.1" r="1.1" fill="#6a2c10"/><circle cx="84.6" cy="50.7" r="1.0" fill="#8a4420"/><circle cx="10.2" cy="46.2" r="1.1" fill="#9a5530"/><circle cx="24.8" cy="44.5" r="1.3" fill="#9a5530"/><circle cx="9.9" cy="44.2" r="1.1" fill="#8a4420"/><circle cx="20.2" cy="57.5" r="1.0" fill="#6a2c10"/><circle cx="35.3" cy="23.1" r="1.3" fill="#9a5530"/><circle cx="47.6" cy="27.7" r="0.8" fill="#6a2c10"/><circle cx="6.6" cy="3.1" r="0.8" fill="#7a3818"/><circle cx="47.9" cy="5.6" r="0.8" fill="#9a5530"/><circle cx="77.9" cy="19.7" r="1.2" fill="#7a3818"/><circle cx="2.4" cy="64.1" r="1.2" fill="#6a2c10"/><circle cx="66.8" cy="62.1" r="1.2" fill="#8a4420"/><circle cx="1.0" cy="6.4" r="1.3" fill="#7a3818"/><circle cx="6.2" cy="57.9" r="1.3" fill="#6a2c10"/><circle cx="91.4" cy="1.9" r="0.9" fill="#8a4420"/><circle cx="4.8" cy="66.5" r="0.9" fill="#8a4420"/><circle cx="84.3" cy="1.9" r="1.2" fill="#8a4420"/><circle cx="85.0" cy="21.7" r="0.8" fill="#6a2c10"/><circle cx="76.0" cy="15.3" r="1.0" fill="#6a2c10"/><circle cx="58.5" cy="39.7" r="1.0" fill="#8a4420"/><circle cx="48.4" cy="57.0" r="1.0" fill="#6a2c10"/><circle cx="83.2" cy="32.9" r="0.8" fill="#7a3818"/><circle cx="11.6" cy="11.9" r="0.9" fill="#8a4420"/><circle cx="61.4" cy="56.0" r="0.9" fill="#a0603a"/><circle cx="6.3" cy="39.6" r="1.2" fill="#a0603a"/><circle cx="53.4" cy="35.7" r="0.9" fill="#a0603a"/><circle cx="68.9" cy="48.6" r="0.9" fill="#7a3818"/><circle cx="81.0" cy="17.1" r="1.1" fill="#8a4420"/><circle cx="6.2" cy="38.8" r="1.0" fill="#9a5530"/><circle cx="74.3" cy="3.8" r="0.8" fill="#9a5530"/><circle cx="74.1" cy="55.4" r="1.3" fill="#9a5530"/><circle cx="64.4" cy="2.0" r="0.9" fill="#6a2c10"/><circle cx="67.9" cy="28.0" r="0.9" fill="#6a2c10"/><circle cx="40.6" cy="6.9" r="1.0" fill="#6a2c10"/><circle cx="23.9" cy="7.6" r="0.8" fill="#6a2c10"/><circle cx="78.2" cy="26.7" r="1.2" fill="#8a4420"/><circle cx="21.2" cy="26.0" r="0.9" fill="#a0603a"/><circle cx="28.5" cy="57.2" r="1.0" fill="#9a5530"/><circle cx="32.5" cy="4.3" r="1.2" fill="#6a2c10"/><circle cx="61.6" cy="10.4" r="1.2" fill="#7a3818"/><circle cx="51.4" cy="34.5" r="0.9" fill="#7a3818"/><circle cx="69.4" cy="59.7" r="1.3" fill="#7a3818"/><circle cx="12.6" cy="17.2" r="0.9" fill="#7a3818"/><circle cx="42.4" cy="60.4" r="1.1" fill="#8a4420"/><circle cx="70.3" cy="48.3" r="1.0" fill="#8a4420"/><circle cx="71.8" cy="20.4" r="1.0" fill="#8a4420"/><circle cx="80.2" cy="59.3" r="1.2" fill="#a0603a"/><circle cx="85.6" cy="35.3" r="1.2" fill="#8a4420"/><circle cx="61.3" cy="8.3" r="1.0" fill="#7a3818"/><circle cx="94.7" cy="38.2" r="0.9" fill="#9a5530"/><circle cx="30.9" cy="40.5" r="1.2" fill="#6a2c10"/><circle cx="56.5" cy="27.5" r="0.8" fill="#7a3818"/><circle cx="77.4" cy="50.1" r="0.9" fill="#a0603a"/><circle cx="83.5" cy="13.1" r="1.2" fill="#6a2c10"/><circle cx="34.5" cy="1.3" r="0.9" fill="#9a5530"/><circle cx="53.4" cy="61.5" r="0.9" fill="#6a2c10"/><circle cx="35.7" cy="42.4" r="1.2" fill="#9a5530"/><circle cx="6.1" cy="33.7" r="0.8" fill="#a0603a"/><circle cx="10.6" cy="19.2" r="0.9" fill="#9a5530"/><circle cx="23.0" cy="9.9" r="1.1" fill="#6a2c10"/><circle cx="68.3" cy="11.9" r="1.2" fill="#8a4420"/><circle cx="58.2" cy="46.7" r="0.9" fill="#a0603a"/><circle cx="23.1" cy="19.3" r="1.0" fill="#a0603a"/><circle cx="76.5" cy="15.2" r="1.1" fill="#8a4420"/><circle cx="74.3" cy="17.0" r="1.1" fill="#6a2c10"/><circle cx="39.3" cy="60.1" r="1.3" fill="#8a4420"/><circle cx="33.2" cy="18.4" r="0.9" fill="#6a2c10"/><circle cx="19.7" cy="26.1" r="0.8" fill="#9a5530"/><circle cx="55.3" cy="57.8" r="0.9" fill="#6a2c10"/><circle cx="56.8" cy="42.0" r="1.0" fill="#a0603a"/><circle cx="29.9" cy="35.1" r="0.9" fill="#6a2c10"/><circle cx="21.9" cy="1.1" r="1.2" fill="#a0603a"/><circle cx="0.9" cy="27.9" r="1.0" fill="#8a4420"/><circle cx="36.0" cy="60.0" r="1.1" fill="#7a3818"/><circle cx="49.9" cy="22.9" r="1.1" fill="#9a5530"/><circle cx="86.4" cy="7.3" r="1.0" fill="#7a3818"/><circle cx="96.0" cy="7.3" r="1.2" fill="#7a3818"/><circle cx="25.2" cy="12.6" r="1.2" fill="#a0603a"/><circle cx="90.6" cy="51.3" r="0.9" fill="#8a4420"/><circle cx="43.6" cy="9.8" r="1.0" fill="#8a4420"/><circle cx="33.5" cy="59.7" r="1.0" fill="#a0603a"/><circle cx="68.3" cy="7.2" r="1.2" fill="#a0603a"/><circle cx="28.4" cy="17.0" r="0.8" fill="#7a3818"/><circle cx="36.2" cy="44.4" r="0.9" fill="#8a4420"/><circle cx="3.3" cy="18.7" r="1.2" fill="#8a4420"/><circle cx="21.8" cy="14.1" r="0.9" fill="#9a5530"/><circle cx="82.2" cy="51.8" r="1.3" fill="#9a5530"/><circle cx="63.1" cy="50.4" r="1.0" fill="#8a4420"/><circle cx="14.2" cy="42.2" r="0.8" fill="#9a5530"/><circle cx="75.2" cy="56.9" r="1.3" fill="#7a3818"/><circle cx="30.9" cy="14.3" r="1.0" fill="#a0603a"/><circle cx="55.2" cy="12.0" r="1.3" fill="#8a4420"/><circle cx="20.7" cy="66.9" r="0.9" fill="#9a5530"/><circle cx="92.0" cy="43.3" r="1.1" fill="#9a5530"/><circle cx="85.5" cy="21.6" r="1.2" fill="#a0603a"/><circle cx="93.9" cy="12.3" r="1.1" fill="#9a5530"/><circle cx="83.3" cy="44.7" r="1.2" fill="#9a5530"/><circle cx="29.1" cy="33.7" r="1.1" fill="#8a4420"/><circle cx="8.8" cy="15.1" r="0.8" fill="#8a4420"/><circle cx="29.2" cy="5.1" r="0.9" fill="#a0603a"/><circle cx="30.8" cy="1.5" r="0.9" fill="#9a5530"/><circle cx="74.2" cy="62.2" r="1.3" fill="#a0603a"/><circle cx="93.2" cy="16.5" r="1.3" fill="#6a2c10"/><circle cx="60.8" cy="38.0" r="1.2" fill="#9a5530"/><circle cx="31.6" cy="54.1" r="1.2" fill="#9a5530"/><circle cx="77.4" cy="51.2" r="0.9" fill="#6a2c10"/><circle cx="80.8" cy="10.5" r="1.1" fill="#6a2c10"/><circle cx="59.9" cy="61.2" r="0.9" fill="#7a3818"/><circle cx="70.5" cy="18.9" r="1.0" fill="#7a3818"/><circle cx="22.9" cy="11.4" r="0.9" fill="#7a3818"/><circle cx="93.9" cy="58.8" r="1.2" fill="#6a2c10"/><circle cx="82.2" cy="28.6" r="1.2" fill="#7a3818"/><circle cx="31.4" cy="61.3" r="0.9" fill="#7a3818"/><circle cx="23.6" cy="50.0" r="1.3" fill="#9a5530"/><circle cx="31.0" cy="0.3" r="0.9" fill="#6a2c10"/><circle cx="60.9" cy="20.2" r="0.8" fill="#7a3818"/><circle cx="10.8" cy="22.7" r="0.9" fill="#8a4420"/><circle cx="62.1" cy="25.4" r="1.2" fill="#8a4420"/><circle cx="27.6" cy="53.7" r="1.1" fill="#7a3818"/><circle cx="43.2" cy="0.5" r="1.1" fill="#8a4420"/><circle cx="5.4" cy="29.4" r="0.9" fill="#8a4420"/><circle cx="39.4" cy="27.4" r="1.2" fill="#9a5530"/><circle cx="71.7" cy="27.4" r="0.9" fill="#a0603a"/><circle cx="72.2" cy="65.9" r="1.3" fill="#9a5530"/><circle cx="28.8" cy="14.4" r="1.2" fill="#8a4420"/><circle cx="64.2" cy="35.4" r="1.0" fill="#8a4420"/><circle cx="92.9" cy="32.5" r="1.2" fill="#9a5530"/><circle cx="46.8" cy="13.7" r="0.9" fill="#9a5530"/><circle cx="58.2" cy="43.1" r="1.3" fill="#6a2c10"/><circle cx="92.0" cy="40.9" r="1.3" fill="#7a3818"/><circle cx="24.5" cy="27.4" r="1.2" fill="#a0603a"/><circle cx="70.3" cy="38.0" r="1.3" fill="#a0603a"/><circle cx="96.3" cy="12.0" r="0.8" fill="#7a3818"/><circle cx="50.2" cy="26.1" r="0.8" fill="#6a2c10"/><circle cx="15.9" cy="31.2" r="1.1" fill="#9a5530"/><circle cx="51.9" cy="60.8" r="1.0" fill="#8a4420"/><circle cx="65.7" cy="65.2" r="1.1" fill="#6a2c10"/><circle cx="88.0" cy="50.6" r="1.3" fill="#9a5530"/><circle cx="23.8" cy="63.7" r="1.0" fill="#7a3818"/><circle cx="91.5" cy="55.8" r="0.8" fill="#9a5530"/><circle cx="39.4" cy="66.4" r="1.0" fill="#7a3818"/><circle cx="23.6" cy="6.6" r="1.1" fill="#7a3818"/><circle cx="60.9" cy="33.1" r="1.0" fill="#7a3818"/><circle cx="46.7" cy="46.1" r="1.2" fill="#6a2c10"/><circle cx="61.6" cy="19.6" r="0.8" fill="#6a2c10"/><circle cx="42.1" cy="66.9" r="1.2" fill="#8a4420"/><circle cx="50.5" cy="38.6" r="0.9" fill="#9a5530"/><circle cx="10.8" cy="36.3" r="1.0" fill="#9a5530"/><circle cx="7.9" cy="43.6" r="0.8" fill="#8a4420"/><circle cx="81.3" cy="53.6" r="1.1" fill="#8a4420"/><circle cx="78.8" cy="19.3" r="1.0" fill="#8a4420"/><circle cx="82.1" cy="37.4" r="0.9" fill="#8a4420"/><circle cx="92.9" cy="60.8" r="0.9" fill="#9a5530"/><circle cx="14.3" cy="62.7" r="1.2" fill="#6a2c10"/><circle cx="65.5" cy="38.0" r="0.9" fill="#9a5530"/><circle cx="69.8" cy="47.1" r="1.1" fill="#6a2c10"/><circle cx="42.8" cy="51.7" r="1.1" fill="#9a5530"/><circle cx="29.9" cy="4.3" r="0.8" fill="#9a5530"/><circle cx="48.6" cy="63.7" r="1.1" fill="#6a2c10"/><circle cx="82.1" cy="54.0" r="0.8" fill="#7a3818"/><circle cx="32.1" cy="25.6" r="1.1" fill="#7a3818"/><circle cx="12.9" cy="43.6" r="0.9" fill="#8a4420"/><circle cx="16.6" cy="58.2" r="1.1" fill="#a0603a"/><circle cx="49.4" cy="66.9" r="0.8" fill="#a0603a"/><circle cx="13.7" cy="16.8" r="1.2" fill="#6a2c10"/><circle cx="77.0" cy="43.6" r="1.2" fill="#a0603a"/><circle cx="74.4" cy="45.9" r="0.8" fill="#a0603a"/><circle cx="54.0" cy="2.9" r="1.0" fill="#7a3818"/><circle cx="45.8" cy="58.7" r="1.0" fill="#6a2c10"/><circle cx="73.6" cy="55.2" r="1.1" fill="#9a5530"/><circle cx="10.4" cy="43.2" r="1.0" fill="#9a5530"/><circle cx="69.9" cy="56.5" r="1.2" fill="#9a5530"/><circle cx="38.7" cy="22.2" r="1.0" fill="#8a4420"/><circle cx="52.9" cy="56.9" r="1.2" fill="#6a2c10"/><circle cx="75.1" cy="49.0" r="0.9" fill="#a0603a"/><circle cx="47.0" cy="56.0" r="0.9" fill="#7a3818"/><circle cx="4.2" cy="45.8" r="1.0" fill="#8a4420"/><circle cx="46.4" cy="49.1" r="1.0" fill="#a0603a"/><circle cx="89.7" cy="30.6" r="0.8" fill="#9a5530"/><circle cx="7.5" cy="18.9" r="0.9" fill="#a0603a"/><circle cx="60.7" cy="47.4" r="1.3" fill="#a0603a"/><circle cx="89.9" cy="58.7" r="1.3" fill="#6a2c10"/><circle cx="32.6" cy="0.9" r="0.8" fill="#a0603a"/><circle cx="43.8" cy="9.0" r="0.9" fill="#9a5530"/><circle cx="66.8" cy="32.2" r="1.1" fill="#6a2c10"/><circle cx="95.0" cy="21.5" r="0.9" fill="#7a3818"/><circle cx="42.2" cy="15.0" r="1.2" fill="#9a5530"/><circle cx="71.6" cy="46.4" r="1.1" fill="#6a2c10"/><circle cx="96.3" cy="18.6" r="0.9" fill="#8a4420"/><circle cx="31.6" cy="65.5" r="0.9" fill="#9a5530"/><circle cx="45.1" cy="66.0" r="1.1" fill="#6a2c10"/><circle cx="34.0" cy="31.1" r="1.2" fill="#6a2c10"/><circle cx="57.3" cy="41.4" r="0.8" fill="#9a5530"/><circle cx="15.0" cy="15.9" r="1.1" fill="#8a4420"/><circle cx="62.4" cy="7.8" r="1.0" fill="#8a4420"/><circle cx="65.4" cy="59.9" r="0.9" fill="#6a2c10"/><circle cx="1.2" cy="23.0" r="1.2" fill="#9a5530"/><circle cx="42.0" cy="0.6" r="0.9" fill="#6a2c10"/><circle cx="86.9" cy="47.9" r="1.1" fill="#7a3818"/><circle cx="94.9" cy="1.5" r="0.9" fill="#7a3818"/><circle cx="37.8" cy="59.4" r="0.8" fill="#8a4420"/><circle cx="47.7" cy="64.0" r="1.3" fill="#7a3818"/><circle cx="72.6" cy="49.5" r="0.9" fill="#6a2c10"/><circle cx="3.9" cy="0.9" r="1.0" fill="#a0603a"/><circle cx="64.8" cy="36.7" r="0.9" fill="#a0603a"/><circle cx="64.3" cy="8.6" r="0.9" fill="#8a4420"/><circle cx="18.2" cy="46.4" r="1.2" fill="#a0603a"/><circle cx="45.9" cy="36.2" r="0.8" fill="#7a3818"/><circle cx="77.3" cy="58.3" r="0.9" fill="#7a3818"/><circle cx="40.7" cy="55.3" r="1.2" fill="#9a5530"/><circle cx="9.6" cy="20.8" r="0.8" fill="#7a3818"/><circle cx="71.5" cy="20.8" r="1.1" fill="#7a3818"/><circle cx="96.2" cy="44.4" r="1.3" fill="#7a3818"/><circle cx="16.9" cy="48.0" r="1.3" fill="#a0603a"/><circle cx="64.4" cy="25.4" r="1.2" fill="#7a3818"/><circle cx="19.9" cy="63.1" r="1.3" fill="#6a2c10"/><circle cx="33.4" cy="42.0" r="0.8" fill="#7a3818"/><circle cx="74.0" cy="3.1" r="1.2" fill="#8a4420"/><circle cx="87.8" cy="28.3" r="1.0" fill="#9a5530"/><circle cx="36.7" cy="20.5" r="1.1" fill="#8a4420"/><circle cx="81.2" cy="37.8" r="1.0" fill="#7a3818"/><circle cx="7.9" cy="5.4" r="1.1" fill="#a0603a"/><circle cx="49.0" cy="48.4" r="0.9" fill="#6a2c10"/><circle cx="87.8" cy="32.8" r="0.8" fill="#8a4420"/><circle cx="68.2" cy="53.4" r="1.1" fill="#7a3818"/><circle cx="11.4" cy="34.5" r="1.2" fill="#6a2c10"/><circle cx="80.6" cy="19.4" r="1.2" fill="#a0603a"/><circle cx="34.9" cy="20.6" r="1.0" fill="#6a2c10"/><circle cx="45.9" cy="14.4" r="1.1" fill="#a0603a"/><circle cx="21.1" cy="50.9" r="1.0" fill="#9a5530"/><circle cx="2.4" cy="52.4" r="1.1" fill="#a0603a"/><circle cx="4.4" cy="6.6" r="1.2" fill="#7a3818"/><circle cx="22.8" cy="41.0" r="1.2" fill="#9a5530"/><circle cx="9.7" cy="18.9" r="1.2" fill="#7a3818"/><circle cx="93.7" cy="37.4" r="0.8" fill="#8a4420"/><circle cx="29.2" cy="48.4" r="1.3" fill="#6a2c10"/><circle cx="38.8" cy="11.4" r="1.0" fill="#a0603a"/><circle cx="25.4" cy="33.0" r="1.2" fill="#a0603a"/><circle cx="51.3" cy="40.8" r="1.0" fill="#9a5530"/><circle cx="93.2" cy="57.6" r="1.0" fill="#9a5530"/><circle cx="33.5" cy="22.7" r="1.3" fill="#9a5530"/><circle cx="3.6" cy="3.8" r="1.1" fill="#a0603a"/><circle cx="79.7" cy="28.6" r="0.9" fill="#8a4420"/><circle cx="33.2" cy="41.4" r="0.9" fill="#6a2c10"/><circle cx="76.9" cy="57.0" r="1.0" fill="#9a5530"/><circle cx="43.8" cy="6.1" r="0.9" fill="#a0603a"/><circle cx="22.0" cy="54.3" r="1.1" fill="#8a4420"/><circle cx="14.2" cy="34.3" r="1.2" fill="#a0603a"/><circle cx="25.3" cy="31.7" r="1.2" fill="#7a3818"/><circle cx="87.5" cy="28.0" r="1.0" fill="#6a2c10"/><circle cx="44.9" cy="25.5" r="1.3" fill="#9a5530"/><circle cx="8.8" cy="19.4" r="0.8" fill="#6a2c10"/><circle cx="23.6" cy="9.8" r="0.8" fill="#8a4420"/><circle cx="10.7" cy="32.7" r="1.3" fill="#6a2c10"/><circle cx="6.3" cy="10.1" r="1.0" fill="#6a2c10"/><circle cx="56.7" cy="11.8" r="0.8" fill="#8a4420"/><circle cx="14.5" cy="37.0" r="1.3" fill="#8a4420"/><circle cx="64.5" cy="17.4" r="1.2" fill="#7a3818"/><circle cx="85.5" cy="50.0" r="0.9" fill="#6a2c10"/><circle cx="11.3" cy="64.8" r="1.0" fill="#6a2c10"/><circle cx="88.8" cy="23.0" r="1.2" fill="#8a4420"/><circle cx="5.2" cy="66.6" r="1.3" fill="#7a3818"/><circle cx="72.4" cy="51.0" r="0.8" fill="#7a3818"/><circle cx="30.0" cy="12.4" r="1.2" fill="#6a2c10"/><circle cx="67.3" cy="65.2" r="0.9" fill="#7a3818"/><circle cx="56.3" cy="59.5" r="1.3" fill="#6a2c10"/><circle cx="52.3" cy="17.7" r="1.1" fill="#6a2c10"/><circle cx="46.6" cy="8.1" r="0.8" fill="#a0603a"/><circle cx="20.0" cy="57.7" r="0.9" fill="#8a4420"/><circle cx="64.9" cy="15.1" r="1.1" fill="#9a5530"/><circle cx="40.7" cy="13.5" r="0.9" fill="#7a3818"/><circle cx="5.9" cy="11.2" r="0.8" fill="#a0603a"/><circle cx="44.2" cy="9.2" r="1.1" fill="#9a5530"/><circle cx="53.4" cy="16.2" r="1.2" fill="#6a2c10"/><circle cx="75.7" cy="63.1" r="0.9" fill="#a0603a"/><circle cx="96.1" cy="15.9" r="1.0" fill="#9a5530"/><circle cx="93.2" cy="60.5" r="0.9" fill="#9a5530"/><circle cx="50.7" cy="24.8" r="0.9" fill="#8a4420"/><circle cx="11.5" cy="62.2" r="1.1" fill="#6a2c10"/><circle cx="75.1" cy="14.9" r="0.9" fill="#8a4420"/><circle cx="35.6" cy="46.0" r="1.0" fill="#8a4420"/><circle cx="58.0" cy="52.1" r="1.2" fill="#a0603a"/><circle cx="42.0" cy="62.6" r="0.9" fill="#8a4420"/><circle cx="76.5" cy="61.7" r="1.0" fill="#6a2c10"/><circle cx="77.1" cy="18.9" r="1.2" fill="#9a5530"/><circle cx="17.6" cy="0.8" r="1.0" fill="#9a5530"/><circle cx="52.4" cy="66.0" r="1.2" fill="#a0603a"/><circle cx="55.5" cy="64.6" r="0.9" fill="#8a4420"/><circle cx="33.4" cy="18.2" r="1.2" fill="#7a3818"/><circle cx="73.6" cy="46.8" r="1.0" fill="#6a2c10"/><circle cx="82.0" cy="9.8" r="0.8" fill="#a0603a"/><circle cx="1.9" cy="23.7" r="0.8" fill="#9a5530"/><circle cx="69.3" cy="31.8" r="1.1" fill="#7a3818"/><circle cx="21.4" cy="16.6" r="1.3" fill="#7a3818"/><circle cx="39.7" cy="42.3" r="1.3" fill="#a0603a"/><circle cx="26.8" cy="45.8" r="1.3" fill="#7a3818"/><circle cx="42.4" cy="61.2" r="1.3" fill="#7a3818"/><circle cx="95.2" cy="13.0" r="0.8" fill="#9a5530"/><circle cx="34.5" cy="22.4" r="1.3" fill="#7a3818"/><circle cx="83.3" cy="53.4" r="1.1" fill="#a0603a"/><circle cx="86.9" cy="47.8" r="1.0" fill="#7a3818"/><circle cx="34.8" cy="5.9" r="0.9" fill="#8a4420"/><circle cx="69.4" cy="10.7" r="1.1" fill="#7a3818"/><circle cx="37.7" cy="31.1" r="1.2" fill="#8a4420"/><circle cx="29.9" cy="38.6" r="0.9" fill="#8a4420"/><circle cx="64.4" cy="16.4" r="1.1" fill="#6a2c10"/><circle cx="18.7" cy="39.4" r="0.9" fill="#a0603a"/><circle cx="91.7" cy="66.1" r="0.8" fill="#8a4420"/><circle cx="20.6" cy="46.7" r="1.0" fill="#a0603a"/><circle cx="82.8" cy="33.3" r="1.2" fill="#9a5530"/><circle cx="60.1" cy="14.8" r="0.9" fill="#8a4420"/><circle cx="32.1" cy="36.9" r="1.2" fill="#8a4420"/><circle cx="42.0" cy="15.5" r="1.0" fill="#9a5530"/><circle cx="40.9" cy="48.2" r="1.1" fill="#6a2c10"/><circle cx="61.2" cy="48.7" r="1.2" fill="#7a3818"/><circle cx="64.9" cy="60.0" r="1.3" fill="#6a2c10"/><circle cx="32.3" cy="66.0" r="1.0" fill="#8a4420"/><circle cx="80.2" cy="50.3" r="0.9" fill="#a0603a"/><circle cx="52.9" cy="1.2" r="0.8" fill="#6a2c10"/><circle cx="14.0" cy="49.1" r="0.8" fill="#6a2c10"/><circle cx="70.1" cy="26.2" r="1.0" fill="#8a4420"/><circle cx="72.8" cy="22.5" r="0.9" fill="#a0603a"/><circle cx="69.2" cy="35.1" r="1.0" fill="#6a2c10"/><circle cx="18.2" cy="57.2" r="0.8" fill="#6a2c10"/><circle cx="77.3" cy="59.5" r="0.9" fill="#9a5530"/><circle cx="90.9" cy="6.8" r="0.8" fill="#a0603a"/><circle cx="1.0" cy="22.2" r="1.1" fill="#6a2c10"/><circle cx="31.2" cy="2.0" r="1.3" fill="#9a5530"/><circle cx="65.2" cy="55.2" r="0.9" fill="#6a2c10"/><circle cx="55.1" cy="3.4" r="1.0" fill="#9a5530"/><circle cx="79.7" cy="50.8" r="1.0" fill="#7a3818"/><circle cx="22.7" cy="20.2" r="1.0" fill="#8a4420"/><circle cx="65.9" cy="2.5" r="0.9" fill="#9a5530"/><circle cx="44.2" cy="31.9" r="0.9" fill="#8a4420"/><circle cx="12.6" cy="42.1" r="0.8" fill="#8a4420"/><circle cx="17.3" cy="36.1" r="1.3" fill="#6a2c10"/><circle cx="10.7" cy="3.3" r="1.1" fill="#6a2c10"/><circle cx="7.4" cy="19.5" r="1.1" fill="#8a4420"/><circle cx="47.8" cy="32.4" r="1.0" fill="#7a3818"/><circle cx="87.0" cy="18.4" r="1.3" fill="#6a2c10"/><circle cx="54.5" cy="22.4" r="1.2" fill="#7a3818"/><circle cx="24.3" cy="6.5" r="1.2" fill="#6a2c10"/><circle cx="66.8" cy="61.6" r="1.0" fill="#a0603a"/><circle cx="18.1" cy="40.8" r="0.8" fill="#8a4420"/><circle cx="83.2" cy="15.7" r="0.8" fill="#a0603a"/><circle cx="89.1" cy="14.1" r="1.1" fill="#7a3818"/><circle cx="25.6" cy="58.5" r="1.0" fill="#6a2c10"/><circle cx="80.7" cy="59.2" r="1.1" fill="#8a4420"/><circle cx="94.5" cy="8.4" r="1.2" fill="#8a4420"/><circle cx="91.8" cy="27.7" r="1.0" fill="#9a5530"/><circle cx="24.2" cy="14.8" r="1.1" fill="#6a2c10"/><circle cx="80.2" cy="12.5" r="0.9" fill="#7a3818"/><circle cx="28.4" cy="46.0" r="0.8" fill="#9a5530"/><circle cx="84.0" cy="33.4" r="1.3" fill="#6a2c10"/><circle cx="26.8" cy="48.1" r="1.0" fill="#9a5530"/>
</svg>
<text transform="translate(285.60,800.00) translate(-0.30,0) scale(0.871,1.000)" font-size="8.50">50 µm</text>
<line x1="286.00" y1="802.40" x2="305.50" y2="802.40" stroke="#111" stroke-width="1.4" stroke-linecap="butt"/>
<line x1="385.60" y1="802.40" x2="405.10" y2="802.40" stroke="#111" stroke-width="1.4" stroke-linecap="butt"/>
<line x1="286.00" y1="873.10" x2="305.50" y2="873.10" stroke="#111" stroke-width="1.4" stroke-linecap="butt"/>
<line x1="385.60" y1="873.10" x2="405.10" y2="873.10" stroke="#111" stroke-width="1.4" stroke-linecap="butt"/>
<text transform="translate(3.10,18.20) translate(-0.69,0) scale(0.968,1.000)" font-size="23.62" font-weight="bold">A</text>
<text transform="translate(219.50,21.70) translate(-1.42,0) scale(0.877,1.000)" font-size="23.19" font-weight="bold">B</text>
<text transform="translate(431.10,18.40) translate(-0.86,0) scale(1.012,1.000)" font-size="21.29" font-weight="bold">C</text>
<text transform="translate(7.20,413.00) translate(-1.61,0) scale(0.966,1.000)" font-size="23.77" font-weight="bold">D</text>
<text transform="translate(1.90,596.00) translate(-1.54,0) scale(0.936,1.000)" font-size="23.48" font-weight="bold">E</text>
<text transform="translate(244.80,610.40) translate(-1.57,0) scale(0.931,1.000)" font-size="24.06" font-weight="bold">F</text>
<text transform="translate(480.10,609.30) translate(-0.91,0) scale(0.985,1.000)" font-size="23.14" font-weight="bold">G</text>
<text transform="translate(5.10,766.00) translate(-1.61,0) scale(0.989,1.000)" font-size="23.19" font-weight="bold">H</text>
<text transform="translate(245.30,732.00) translate(-1.50,0) scale(0.924,1.000)" font-size="23.19" font-weight="bold">I</text>
<text transform="translate(499.00,783.70) translate(-0.38,0) scale(0.881,1.000)" font-size="21.74" font-weight="bold">J</text>
<line x1="34.20" y1="61.80" x2="34.20" y2="157.60" stroke="#000" stroke-width="1.5" stroke-linecap="butt"/>
<line x1="33.40" y1="154.60" x2="156.70" y2="154.60" stroke="#000" stroke-width="1.5" stroke-linecap="butt"/>
<line x1="31.00" y1="154.60" x2="34.20" y2="154.60" stroke="#000" stroke-width="1.5" stroke-linecap="butt"/>
<text transform="translate(28.30,161.60) translate(-8.58,0)" font-size="16.50">0</text>
<line x1="31.00" y1="131.53" x2="34.20" y2="131.53" stroke="#000" stroke-width="1.5" stroke-linecap="butt"/>
<text transform="translate(28.30,138.53) translate(-8.42,0)" font-size="16.50">1</text>
<line x1="31.00" y1="108.45" x2="34.20" y2="108.45" stroke="#000" stroke-width="1.5" stroke-linecap="butt"/>
<text transform="translate(28.30,115.45) translate(-8.42,0)" font-size="16.50">2</text>
<line x1="31.00" y1="85.38" x2="34.20" y2="85.38" stroke="#000" stroke-width="1.5" stroke-linecap="butt"/>
<text transform="translate(28.30,92.38) translate(-8.42,0)" font-size="16.50">3</text>
<line x1="31.00" y1="62.30" x2="34.20" y2="62.30" stroke="#000" stroke-width="1.5" stroke-linecap="butt"/>
<text transform="translate(28.30,69.30) translate(-8.75,0)" font-size="16.50">4</text>
<line x1="33.90" y1="154.60" x2="33.90" y2="157.60" stroke="#000" stroke-width="1.5" stroke-linecap="butt"/>
<text transform="translate(33.90,173.80) translate(-4.37,0)" font-size="15.60">0</text>
<line x1="51.33" y1="154.60" x2="51.33" y2="157.60" stroke="#000" stroke-width="1.5" stroke-linecap="butt"/>
<text transform="translate(51.33,173.80) translate(-4.60,0)" font-size="15.60">1</text>
<line x1="68.76" y1="154.60" x2="68.76" y2="157.60" stroke="#000" stroke-width="1.5" stroke-linecap="butt"/>
<text transform="translate(68.76,173.80) translate(-4.37,0)" font-size="15.60">2</text>
<line x1="86.19" y1="154.60" x2="86.19" y2="157.60" stroke="#000" stroke-width="1.5" stroke-linecap="butt"/>
<text transform="translate(86.19,173.80) translate(-4.29,0)" font-size="15.60">3</text>
<line x1="103.62" y1="154.60" x2="103.62" y2="157.60" stroke="#000" stroke-width="1.5" stroke-linecap="butt"/>
<text transform="translate(103.62,173.80) translate(-4.29,0)" font-size="15.60">4</text>
<line x1="121.05" y1="154.60" x2="121.05" y2="157.60" stroke="#000" stroke-width="1.5" stroke-linecap="butt"/>
<text transform="translate(121.05,173.80) translate(-4.29,0)" font-size="15.60">5</text>
<line x1="138.48" y1="154.60" x2="138.48" y2="157.60" stroke="#000" stroke-width="1.5" stroke-linecap="butt"/>
<text transform="translate(138.48,173.80) translate(-4.37,0)" font-size="15.60">6</text>
<line x1="155.91" y1="154.60" x2="155.91" y2="157.60" stroke="#000" stroke-width="1.5" stroke-linecap="butt"/>
<text transform="translate(155.91,173.80) translate(-4.37,0)" font-size="15.60">7</text>
<text transform="translate(50.60,189.70) translate(-0.34,0) scale(1.087,1.000)" font-size="15.80">Time (days)</text>
<text transform="translate(14.00,156.90) rotate(-90) translate(-0.87,0) scale(1.082,1.000)" font-size="16.00">OD450 Value</text>
<polyline points="51.33,151.14 68.76,144.68 86.19,138.45 103.62,130.60 121.05,122.06 138.48,107.30 155.91,95.53" fill="none" stroke="#000" stroke-width="1.6" stroke-linejoin="round"/>
<line x1="51.33" y1="151.60" x2="51.33" y2="150.68" stroke="#000" stroke-width="1.5" stroke-linecap="butt"/>
<line x1="48.33" y1="151.60" x2="54.33" y2="151.60" stroke="#000" stroke-width="1.5" stroke-linecap="butt"/>
<line x1="48.33" y1="150.68" x2="54.33" y2="150.68" stroke="#000" stroke-width="1.5" stroke-linecap="butt"/>
<line x1="68.76" y1="145.37" x2="68.76" y2="143.99" stroke="#000" stroke-width="1.5" stroke-linecap="butt"/>
<line x1="65.76" y1="145.37" x2="71.76" y2="145.37" stroke="#000" stroke-width="1.5" stroke-linecap="butt"/>
<line x1="65.76" y1="143.99" x2="71.76" y2="143.99" stroke="#000" stroke-width="1.5" stroke-linecap="butt"/>
<line x1="86.19" y1="141.91" x2="86.19" y2="134.99" stroke="#000" stroke-width="1.5" stroke-linecap="butt"/>
<line x1="83.19" y1="141.91" x2="89.19" y2="141.91" stroke="#000" stroke-width="1.5" stroke-linecap="butt"/>
<line x1="83.19" y1="134.99" x2="89.19" y2="134.99" stroke="#000" stroke-width="1.5" stroke-linecap="butt"/>
<line x1="103.62" y1="131.99" x2="103.62" y2="129.22" stroke="#000" stroke-width="1.5" stroke-linecap="butt"/>
<line x1="100.62" y1="131.99" x2="106.62" y2="131.99" stroke="#000" stroke-width="1.5" stroke-linecap="butt"/>
<line x1="100.62" y1="129.22" x2="106.62" y2="129.22" stroke="#000" stroke-width="1.5" stroke-linecap="butt"/>
<line x1="121.05" y1="128.76" x2="121.05" y2="115.37" stroke="#000" stroke-width="1.5" stroke-linecap="butt"/>
<line x1="118.05" y1="128.76" x2="124.05" y2="128.76" stroke="#000" stroke-width="1.5" stroke-linecap="butt"/>
<line x1="118.05" y1="115.37" x2="124.05" y2="115.37" stroke="#000" stroke-width="1.5" stroke-linecap="butt"/>
<line x1="138.48" y1="113.53" x2="138.48" y2="101.07" stroke="#000" stroke-width="1.5" stroke-linecap="butt"/>
<line x1="135.48" y1="113.53" x2="141.48" y2="113.53" stroke="#000" stroke-width="1.5" stroke-linecap="butt"/>
<line x1="135.48" y1="101.07" x2="141.48" y2="101.07" stroke="#000" stroke-width="1.5" stroke-linecap="butt"/>
<line x1="155.91" y1="99.68" x2="155.91" y2="91.37" stroke="#000" stroke-width="1.5" stroke-linecap="butt"/>
<line x1="152.91" y1="99.68" x2="158.91" y2="99.68" stroke="#000" stroke-width="1.5" stroke-linecap="butt"/>
<line x1="152.91" y1="91.37" x2="158.91" y2="91.37" stroke="#000" stroke-width="1.5" stroke-linecap="butt"/>
<polyline points="51.33,150.45 68.76,142.60 86.19,128.29 103.62,121.14 121.05,105.68 138.48,94.60 155.91,80.99" fill="none" stroke="#f02020" stroke-width="1.6" stroke-linejoin="round"/>
<line x1="51.33" y1="151.14" x2="51.33" y2="149.75" stroke="#f02020" stroke-width="1.5" stroke-linecap="butt"/>
<line x1="48.33" y1="151.14" x2="54.33" y2="151.14" stroke="#f02020" stroke-width="1.5" stroke-linecap="butt"/>
<line x1="48.33" y1="149.75" x2="54.33" y2="149.75" stroke="#f02020" stroke-width="1.5" stroke-linecap="butt"/>
<line x1="68.76" y1="143.75" x2="68.76" y2="141.45" stroke="#f02020" stroke-width="1.5" stroke-linecap="butt"/>
<line x1="65.76" y1="143.75" x2="71.76" y2="143.75" stroke="#f02020" stroke-width="1.5" stroke-linecap="butt"/>
<line x1="65.76" y1="141.45" x2="71.76" y2="141.45" stroke="#f02020" stroke-width="1.5" stroke-linecap="butt"/>
<line x1="86.19" y1="130.83" x2="86.19" y2="125.76" stroke="#f02020" stroke-width="1.5" stroke-linecap="butt"/>
<line x1="83.19" y1="130.83" x2="89.19" y2="130.83" stroke="#f02020" stroke-width="1.5" stroke-linecap="butt"/>
<line x1="83.19" y1="125.76" x2="89.19" y2="125.76" stroke="#f02020" stroke-width="1.5" stroke-linecap="butt"/>
<line x1="103.62" y1="124.37" x2="103.62" y2="117.91" stroke="#f02020" stroke-width="1.5" stroke-linecap="butt"/>
<line x1="100.62" y1="124.37" x2="106.62" y2="124.37" stroke="#f02020" stroke-width="1.5" stroke-linecap="butt"/>
<line x1="100.62" y1="117.91" x2="106.62" y2="117.91" stroke="#f02020" stroke-width="1.5" stroke-linecap="butt"/>
<line x1="121.05" y1="110.30" x2="121.05" y2="101.07" stroke="#f02020" stroke-width="1.5" stroke-linecap="butt"/>
<line x1="118.05" y1="110.30" x2="124.05" y2="110.30" stroke="#f02020" stroke-width="1.5" stroke-linecap="butt"/>
<line x1="118.05" y1="101.07" x2="124.05" y2="101.07" stroke="#f02020" stroke-width="1.5" stroke-linecap="butt"/>
<line x1="138.48" y1="97.60" x2="138.48" y2="91.61" stroke="#f02020" stroke-width="1.5" stroke-linecap="butt"/>
<line x1="135.48" y1="97.60" x2="141.48" y2="97.60" stroke="#f02020" stroke-width="1.5" stroke-linecap="butt"/>
<line x1="135.48" y1="91.61" x2="141.48" y2="91.61" stroke="#f02020" stroke-width="1.5" stroke-linecap="butt"/>
<line x1="155.91" y1="84.68" x2="155.91" y2="77.30" stroke="#f02020" stroke-width="1.5" stroke-linecap="butt"/>
<line x1="152.91" y1="84.68" x2="158.91" y2="84.68" stroke="#f02020" stroke-width="1.5" stroke-linecap="butt"/>
<line x1="152.91" y1="77.30" x2="158.91" y2="77.30" stroke="#f02020" stroke-width="1.5" stroke-linecap="butt"/>
<line x1="23.80" y1="28.90" x2="43.40" y2="28.90" stroke="#000" stroke-width="1.7" stroke-linecap="butt"/>
<line x1="23.80" y1="50.00" x2="43.40" y2="50.00" stroke="#f02020" stroke-width="1.7" stroke-linecap="butt"/>
<text transform="translate(55.20,34.70) translate(-1.43,0) scale(1.114,1.000)" font-size="16.00">RKO NC</text>
<text transform="translate(55.20,55.80) translate(-1.39,0) scale(1.087,1.000)" font-size="16.00">RKO ETV7</text>
<text transform="translate(169.60,42.50) rotate(90) translate(-1.42,0) scale(1.041,1.000)" font-size="17.00"><tspan font-style="italic">P</tspan> = 0.0032</text>
<polyline points="163.00,81.80 166.60,81.80 166.60,93.60 163.00,93.60" fill="none" stroke="#000" stroke-width="1.5"/>
<line x1="34.20" y1="251.80" x2="34.20" y2="347.80" stroke="#000" stroke-width="1.5" stroke-linecap="butt"/>
<line x1="33.40" y1="344.80" x2="156.70" y2="344.80" stroke="#000" stroke-width="1.5" stroke-linecap="butt"/>
<line x1="31.00" y1="344.80" x2="34.20" y2="344.80" stroke="#000" stroke-width="1.5" stroke-linecap="butt"/>
<text transform="translate(28.30,351.80) translate(-8.58,0)" font-size="16.50">0</text>
<line x1="31.00" y1="313.97" x2="34.20" y2="313.97" stroke="#000" stroke-width="1.5" stroke-linecap="butt"/>
<text transform="translate(28.30,320.97) translate(-8.42,0)" font-size="16.50">1</text>
<line x1="31.00" y1="283.13" x2="34.20" y2="283.13" stroke="#000" stroke-width="1.5" stroke-linecap="butt"/>
<text transform="translate(28.30,290.13) translate(-8.42,0)" font-size="16.50">2</text>
<line x1="31.00" y1="252.30" x2="34.20" y2="252.30" stroke="#000" stroke-width="1.5" stroke-linecap="butt"/>
<text transform="translate(28.30,259.30) translate(-8.42,0)" font-size="16.50">3</text>
<line x1="33.90" y1="344.80" x2="33.90" y2="347.80" stroke="#000" stroke-width="1.5" stroke-linecap="butt"/>
<text transform="translate(33.90,364.00) translate(-4.37,0)" font-size="15.60">0</text>
<line x1="51.33" y1="344.80" x2="51.33" y2="347.80" stroke="#000" stroke-width="1.5" stroke-linecap="butt"/>
<text transform="translate(51.33,364.00) translate(-4.60,0)" font-size="15.60">1</text>
<line x1="68.76" y1="344.80" x2="68.76" y2="347.80" stroke="#000" stroke-width="1.5" stroke-linecap="butt"/>
<text transform="translate(68.76,364.00) translate(-4.37,0)" font-size="15.60">2</text>
<line x1="86.19" y1="344.80" x2="86.19" y2="347.80" stroke="#000" stroke-width="1.5" stroke-linecap="butt"/>
<text transform="translate(86.19,364.00) translate(-4.29,0)" font-size="15.60">3</text>
<line x1="103.62" y1="344.80" x2="103.62" y2="347.80" stroke="#000" stroke-width="1.5" stroke-linecap="butt"/>
<text transform="translate(103.62,364.00) translate(-4.29,0)" font-size="15.60">4</text>
<line x1="121.05" y1="344.80" x2="121.05" y2="347.80" stroke="#000" stroke-width="1.5" stroke-linecap="butt"/>
<text transform="translate(121.05,364.00) translate(-4.29,0)" font-size="15.60">5</text>
<line x1="138.48" y1="344.80" x2="138.48" y2="347.80" stroke="#000" stroke-width="1.5" stroke-linecap="butt"/>
<text transform="translate(138.48,364.00) translate(-4.37,0)" font-size="15.60">6</text>
<line x1="155.91" y1="344.80" x2="155.91" y2="347.80" stroke="#000" stroke-width="1.5" stroke-linecap="butt"/>
<text transform="translate(155.91,364.00) translate(-4.37,0)" font-size="15.60">7</text>
<text transform="translate(50.60,380.00) translate(-0.34,0) scale(1.087,1.000)" font-size="15.80">Time (days)</text>
<text transform="translate(14.00,347.00) rotate(-90) translate(-0.87,0) scale(1.082,1.000)" font-size="16.00">OD450 Value</text>
<polyline points="51.33,342.33 68.76,335.86 86.19,330.31 103.62,321.37 121.05,311.50 138.48,302.56 155.91,287.45" fill="none" stroke="#000" stroke-width="1.6" stroke-linejoin="round"/>
<line x1="51.33" y1="342.95" x2="51.33" y2="341.72" stroke="#000" stroke-width="1.5" stroke-linecap="butt"/>
<line x1="48.33" y1="342.95" x2="54.33" y2="342.95" stroke="#000" stroke-width="1.5" stroke-linecap="butt"/>
<line x1="48.33" y1="341.72" x2="54.33" y2="341.72" stroke="#000" stroke-width="1.5" stroke-linecap="butt"/>
<line x1="68.76" y1="337.40" x2="68.76" y2="334.32" stroke="#000" stroke-width="1.5" stroke-linecap="butt"/>
<line x1="65.76" y1="337.40" x2="71.76" y2="337.40" stroke="#000" stroke-width="1.5" stroke-linecap="butt"/>
<line x1="65.76" y1="334.32" x2="71.76" y2="334.32" stroke="#000" stroke-width="1.5" stroke-linecap="butt"/>
<line x1="86.19" y1="331.85" x2="86.19" y2="328.77" stroke="#000" stroke-width="1.5" stroke-linecap="butt"/>
<line x1="83.19" y1="331.85" x2="89.19" y2="331.85" stroke="#000" stroke-width="1.5" stroke-linecap="butt"/>
<line x1="83.19" y1="328.77" x2="89.19" y2="328.77" stroke="#000" stroke-width="1.5" stroke-linecap="butt"/>
<line x1="103.62" y1="323.53" x2="103.62" y2="319.21" stroke="#000" stroke-width="1.5" stroke-linecap="butt"/>
<line x1="100.62" y1="323.53" x2="106.62" y2="323.53" stroke="#000" stroke-width="1.5" stroke-linecap="butt"/>
<line x1="100.62" y1="319.21" x2="106.62" y2="319.21" stroke="#000" stroke-width="1.5" stroke-linecap="butt"/>
<line x1="121.05" y1="314.58" x2="121.05" y2="308.42" stroke="#000" stroke-width="1.5" stroke-linecap="butt"/>
<line x1="118.05" y1="314.58" x2="124.05" y2="314.58" stroke="#000" stroke-width="1.5" stroke-linecap="butt"/>
<line x1="118.05" y1="308.42" x2="124.05" y2="308.42" stroke="#000" stroke-width="1.5" stroke-linecap="butt"/>
<line x1="138.48" y1="307.18" x2="138.48" y2="297.93" stroke="#000" stroke-width="1.5" stroke-linecap="butt"/>
<line x1="135.48" y1="307.18" x2="141.48" y2="307.18" stroke="#000" stroke-width="1.5" stroke-linecap="butt"/>
<line x1="135.48" y1="297.93" x2="141.48" y2="297.93" stroke="#000" stroke-width="1.5" stroke-linecap="butt"/>
<line x1="155.91" y1="295.78" x2="155.91" y2="279.12" stroke="#000" stroke-width="1.5" stroke-linecap="butt"/>
<line x1="152.91" y1="295.78" x2="158.91" y2="295.78" stroke="#000" stroke-width="1.5" stroke-linecap="butt"/>
<line x1="152.91" y1="279.12" x2="158.91" y2="279.12" stroke="#000" stroke-width="1.5" stroke-linecap="butt"/>
<polyline points="51.33,342.33 68.76,336.48 86.19,330.31 103.62,315.20 121.05,302.56 138.48,287.45 155.91,271.42" fill="none" stroke="#f02020" stroke-width="1.6" stroke-linejoin="round"/>
<line x1="51.33" y1="342.95" x2="51.33" y2="341.72" stroke="#f02020" stroke-width="1.5" stroke-linecap="butt"/>
<line x1="48.33" y1="342.95" x2="54.33" y2="342.95" stroke="#f02020" stroke-width="1.5" stroke-linecap="butt"/>
<line x1="48.33" y1="341.72" x2="54.33" y2="341.72" stroke="#f02020" stroke-width="1.5" stroke-linecap="butt"/>
<line x1="68.76" y1="338.63" x2="68.76" y2="334.32" stroke="#f02020" stroke-width="1.5" stroke-linecap="butt"/>
<line x1="65.76" y1="338.63" x2="71.76" y2="338.63" stroke="#f02020" stroke-width="1.5" stroke-linecap="butt"/>
<line x1="65.76" y1="334.32" x2="71.76" y2="334.32" stroke="#f02020" stroke-width="1.5" stroke-linecap="butt"/>
<line x1="86.19" y1="331.85" x2="86.19" y2="328.77" stroke="#f02020" stroke-width="1.5" stroke-linecap="butt"/>
<line x1="83.19" y1="331.85" x2="89.19" y2="331.85" stroke="#f02020" stroke-width="1.5" stroke-linecap="butt"/>
<line x1="83.19" y1="328.77" x2="89.19" y2="328.77" stroke="#f02020" stroke-width="1.5" stroke-linecap="butt"/>
<line x1="103.62" y1="318.90" x2="103.62" y2="311.50" stroke="#f02020" stroke-width="1.5" stroke-linecap="butt"/>
<line x1="100.62" y1="318.90" x2="106.62" y2="318.90" stroke="#f02020" stroke-width="1.5" stroke-linecap="butt"/>
<line x1="100.62" y1="311.50" x2="106.62" y2="311.50" stroke="#f02020" stroke-width="1.5" stroke-linecap="butt"/>
<line x1="121.05" y1="305.03" x2="121.05" y2="300.09" stroke="#f02020" stroke-width="1.5" stroke-linecap="butt"/>
<line x1="118.05" y1="305.03" x2="124.05" y2="305.03" stroke="#f02020" stroke-width="1.5" stroke-linecap="butt"/>
<line x1="118.05" y1="300.09" x2="124.05" y2="300.09" stroke="#f02020" stroke-width="1.5" stroke-linecap="butt"/>
<line x1="138.48" y1="290.53" x2="138.48" y2="284.37" stroke="#f02020" stroke-width="1.5" stroke-linecap="butt"/>
<line x1="135.48" y1="290.53" x2="141.48" y2="290.53" stroke="#f02020" stroke-width="1.5" stroke-linecap="butt"/>
<line x1="135.48" y1="284.37" x2="141.48" y2="284.37" stroke="#f02020" stroke-width="1.5" stroke-linecap="butt"/>
<line x1="155.91" y1="278.20" x2="155.91" y2="264.63" stroke="#f02020" stroke-width="1.5" stroke-linecap="butt"/>
<line x1="152.91" y1="278.20" x2="158.91" y2="278.20" stroke="#f02020" stroke-width="1.5" stroke-linecap="butt"/>
<line x1="152.91" y1="264.63" x2="158.91" y2="264.63" stroke="#f02020" stroke-width="1.5" stroke-linecap="butt"/>
<line x1="23.80" y1="219.50" x2="43.40" y2="219.50" stroke="#000" stroke-width="1.7" stroke-linecap="butt"/>
<line x1="23.80" y1="239.70" x2="43.40" y2="239.70" stroke="#f02020" stroke-width="1.7" stroke-linecap="butt"/>
<text transform="translate(55.20,225.30) translate(-1.43,0) scale(1.113,1.000)" font-size="16.00">DLD1 NC</text>
<text transform="translate(55.20,245.50) translate(-1.42,0) scale(1.110,1.000)" font-size="16.00">DLD1 ETV7</text>
<text transform="translate(168.90,232.00) rotate(90) translate(-1.42,0) scale(1.047,1.000)" font-size="17.00"><tspan font-style="italic">P</tspan> = 0.0172</text>
<polyline points="162.90,272.30 166.20,272.30 166.20,287.40 162.90,287.40" fill="none" stroke="#000" stroke-width="1.5"/>
<text transform="translate(272.30,40.60) translate(-1.53,0) scale(1.127,1.000)" font-size="17.00">NC</text>
<text transform="translate(341.80,40.60) translate(-1.53,0) scale(1.122,1.000)" font-size="17.00">ETV7</text>
<text transform="translate(249.40,96.60) rotate(-90) translate(-1.54,0) scale(1.053,1.000)" font-size="18.30">RKO</text>
<text transform="translate(249.40,182.50) rotate(-90) translate(-1.46,0)" font-size="18.30">DLD1</text>
<text transform="translate(381.00,120.60) translate(-0.36,0) scale(1.195,1.000)" font-size="7.50">5mm</text>
<line x1="383.50" y1="124.00" x2="399.30" y2="124.00" stroke="#000" stroke-width="1.6" stroke-linecap="butt"/>
<circle cx="280.90" cy="208.30" r="2.20" fill="#0000ff"/>
<rect x="278.90" y="222.60" width="4.20" height="4.20" fill="#ff0000"/>
<text transform="translate(303.50,214.20) translate(-1.61,0) scale(1.085,1.000)" font-size="18.50">NC</text>
<text transform="translate(303.50,230.50) translate(-1.52,0) scale(1.029,1.000)" font-size="18.50">ETV7</text>
<text transform="translate(282.00,251.00) translate(-1.50,0) scale(1.039,1.000)" font-size="18.00"><tspan font-style="italic">P</tspan> = 0.0398</text>
<polyline points="318.30,258.80 318.30,253.60 337.60,253.60 337.60,258.80" fill="none" stroke="#000" stroke-width="1.5"/>
<text transform="translate(306.00,275.60) translate(-1.49,0) scale(1.034,1.000)" font-size="18.00"><tspan font-style="italic">P</tspan> = 0.0294</text>
<polyline points="363.80,281.60 363.80,277.40 383.00,277.40 383.00,281.60" fill="none" stroke="#000" stroke-width="1.5"/>
<line x1="308.60" y1="278.70" x2="308.60" y2="325.95" stroke="#000" stroke-width="1.5" stroke-linecap="butt"/>
<line x1="307.85" y1="325.20" x2="394.50" y2="325.20" stroke="#000" stroke-width="1.5" stroke-linecap="butt"/>
<line x1="305.60" y1="325.20" x2="308.60" y2="325.20" stroke="#000" stroke-width="1.5" stroke-linecap="butt"/>
<text transform="translate(303.20,331.60) translate(-9.52,0)" font-size="18.30">0</text>
<line x1="305.60" y1="309.87" x2="308.60" y2="309.87" stroke="#000" stroke-width="1.5" stroke-linecap="butt"/>
<text transform="translate(303.20,316.27) translate(-19.76,0)" font-size="18.30">20</text>
<line x1="305.60" y1="294.53" x2="308.60" y2="294.53" stroke="#000" stroke-width="1.5" stroke-linecap="butt"/>
<text transform="translate(303.20,300.94) translate(-19.76,0)" font-size="18.30">40</text>
<line x1="305.60" y1="279.20" x2="308.60" y2="279.20" stroke="#000" stroke-width="1.5" stroke-linecap="butt"/>
<text transform="translate(303.20,285.60) translate(-19.76,0)" font-size="18.30">60</text>
<line x1="328.90" y1="325.20" x2="328.90" y2="328.20" stroke="#000" stroke-width="1.5" stroke-linecap="butt"/>
<line x1="373.40" y1="325.20" x2="373.40" y2="328.20" stroke="#000" stroke-width="1.5" stroke-linecap="butt"/>
<rect x="315.20" y="297.80" width="11.00" height="27.40" fill="#8080ff"/>
<rect x="332.00" y="286.60" width="11.00" height="38.60" fill="#f08080"/>
<rect x="360.10" y="299.60" width="11.00" height="25.60" fill="#8080ff"/>
<rect x="376.90" y="287.40" width="11.00" height="37.80" fill="#f08080"/>
<line x1="320.50" y1="304.00" x2="320.50" y2="291.50" stroke="#000" stroke-width="1.5" stroke-linecap="butt"/>
<line x1="318.50" y1="304.00" x2="322.50" y2="304.00" stroke="#000" stroke-width="1.5" stroke-linecap="butt"/>
<line x1="318.50" y1="291.50" x2="322.50" y2="291.50" stroke="#000" stroke-width="1.5" stroke-linecap="butt"/>
<circle cx="320.50" cy="291.70" r="2.30" fill="#0000ff"/>
<circle cx="320.50" cy="297.20" r="2.30" fill="#0000ff"/>
<circle cx="320.50" cy="303.90" r="2.30" fill="#0000ff"/>
<line x1="337.40" y1="292.00" x2="337.40" y2="283.50" stroke="#000" stroke-width="1.5" stroke-linecap="butt"/>
<line x1="335.40" y1="292.00" x2="339.40" y2="292.00" stroke="#000" stroke-width="1.5" stroke-linecap="butt"/>
<line x1="335.40" y1="283.50" x2="339.40" y2="283.50" stroke="#000" stroke-width="1.5" stroke-linecap="butt"/>
<rect x="335.10" y="279.20" width="4.60" height="4.60" fill="#ff0000"/>
<rect x="331.70" y="288.80" width="4.60" height="4.60" fill="#ff0000"/>
<rect x="338.40" y="285.90" width="4.60" height="4.60" fill="#ff0000"/>
<line x1="365.50" y1="304.50" x2="365.50" y2="295.00" stroke="#000" stroke-width="1.5" stroke-linecap="butt"/>
<line x1="363.50" y1="304.50" x2="367.50" y2="304.50" stroke="#000" stroke-width="1.5" stroke-linecap="butt"/>
<line x1="363.50" y1="295.00" x2="367.50" y2="295.00" stroke="#000" stroke-width="1.5" stroke-linecap="butt"/>
<circle cx="362.20" cy="296.20" r="2.30" fill="#0000ff"/>
<circle cx="368.30" cy="298.60" r="2.30" fill="#0000ff"/>
<circle cx="365.20" cy="304.70" r="2.30" fill="#0000ff"/>
<line x1="382.30" y1="290.50" x2="382.30" y2="285.50" stroke="#000" stroke-width="1.5" stroke-linecap="butt"/>
<line x1="380.30" y1="290.50" x2="384.30" y2="290.50" stroke="#000" stroke-width="1.5" stroke-linecap="butt"/>
<line x1="380.30" y1="285.50" x2="384.30" y2="285.50" stroke="#000" stroke-width="1.5" stroke-linecap="butt"/>
<rect x="379.70" y="283.70" width="4.60" height="4.60" fill="#ff0000"/>
<rect x="376.20" y="287.10" width="4.60" height="4.60" fill="#ff0000"/>
<rect x="384.00" y="286.50" width="4.60" height="4.60" fill="#ff0000"/>
<text transform="translate(333.80,340.70) rotate(-45) translate(-36.45,0) scale(0.860,1.000)" font-size="19.99">RKO</text>
<text transform="translate(377.60,340.62) rotate(-45) translate(-38.62,0) scale(0.860,1.000)" font-size="20.14">DID1</text>
<text transform="translate(275.10,384.30) rotate(-90) translate(-0.89,0)" font-size="17.80">Cell colony number</text>
<text transform="translate(501.20,21.00) translate(-1.52,0) scale(1.056,1.000)" font-size="18.00">NC</text>
<text transform="translate(612.00,21.40) translate(-1.50,0) scale(1.043,1.000)" font-size="18.00">ETV7</text>
<text transform="translate(456.30,86.90) rotate(-90) translate(-1.52,0)" font-size="19.00">RKO</text>
<text transform="translate(456.30,182.30) rotate(-90) translate(-1.43,0) scale(0.938,1.000)" font-size="19.00">DLD1</text>
<circle cx="561.70" cy="215.20" r="2.20" fill="#0000ff"/>
<rect x="559.60" y="229.10" width="4.20" height="4.20" fill="#ff0000"/>
<text transform="translate(584.30,221.50) translate(-1.62,0) scale(1.093,1.000)" font-size="18.50">NC</text>
<text transform="translate(584.30,237.30) translate(-1.53,0) scale(1.033,1.000)" font-size="18.50">ETV7</text>
<text transform="translate(585.00,255.00) translate(-1.48,0)" font-size="18.50"><tspan font-style="italic">P</tspan> = 0.0397</text>
<polyline points="640.90,261.50 640.90,257.50 661.30,257.50 661.30,261.50" fill="none" stroke="#000" stroke-width="1.5"/>
<text transform="translate(578.70,280.80) translate(-1.49,0) scale(1.005,1.000)" font-size="18.50"><tspan font-style="italic">P</tspan> = 0.0475</text>
<polyline points="592.20,287.50 592.20,283.50 612.60,283.50 612.60,287.50" fill="none" stroke="#000" stroke-width="1.5"/>
<line x1="580.90" y1="283.10" x2="580.90" y2="333.25" stroke="#000" stroke-width="1.5" stroke-linecap="butt"/>
<line x1="580.15" y1="332.50" x2="672.60" y2="332.50" stroke="#000" stroke-width="1.5" stroke-linecap="butt"/>
<line x1="577.90" y1="332.50" x2="580.90" y2="332.50" stroke="#000" stroke-width="1.5" stroke-linecap="butt"/>
<text transform="translate(575.30,338.73) translate(-9.26,0)" font-size="17.80">0</text>
<line x1="577.90" y1="316.20" x2="580.90" y2="316.20" stroke="#000" stroke-width="1.5" stroke-linecap="butt"/>
<text transform="translate(575.30,322.43) translate(-19.22,0)" font-size="17.80">30</text>
<line x1="577.90" y1="299.90" x2="580.90" y2="299.90" stroke="#000" stroke-width="1.5" stroke-linecap="butt"/>
<text transform="translate(575.30,306.13) translate(-19.22,0)" font-size="17.80">60</text>
<line x1="577.90" y1="283.60" x2="580.90" y2="283.60" stroke="#000" stroke-width="1.5" stroke-linecap="butt"/>
<text transform="translate(575.30,289.83) translate(-19.22,0)" font-size="17.80">90</text>
<line x1="602.90" y1="332.50" x2="602.90" y2="335.50" stroke="#000" stroke-width="1.5" stroke-linecap="butt"/>
<line x1="651.10" y1="332.50" x2="651.10" y2="335.50" stroke="#000" stroke-width="1.5" stroke-linecap="butt"/>
<rect x="588.40" y="311.90" width="11.80" height="20.60" fill="#8080ff"/>
<rect x="606.00" y="303.50" width="11.80" height="29.00" fill="#f08080"/>
<rect x="636.40" y="299.00" width="11.80" height="33.50" fill="#8080ff"/>
<rect x="654.00" y="288.60" width="11.80" height="43.90" fill="#f08080"/>
<line x1="594.30" y1="315.90" x2="594.30" y2="305.80" stroke="#000" stroke-width="1.5" stroke-linecap="butt"/>
<line x1="592.30" y1="315.90" x2="596.30" y2="315.90" stroke="#000" stroke-width="1.5" stroke-linecap="butt"/>
<line x1="592.30" y1="305.80" x2="596.30" y2="305.80" stroke="#000" stroke-width="1.5" stroke-linecap="butt"/>
<circle cx="589.50" cy="308.50" r="2.30" fill="#0000ff"/>
<circle cx="597.90" cy="311.90" r="2.30" fill="#0000ff"/>
<circle cx="594.50" cy="316.40" r="2.30" fill="#0000ff"/>
<line x1="611.80" y1="308.00" x2="611.80" y2="299.50" stroke="#000" stroke-width="1.5" stroke-linecap="butt"/>
<line x1="609.80" y1="308.00" x2="613.80" y2="308.00" stroke="#000" stroke-width="1.5" stroke-linecap="butt"/>
<line x1="609.80" y1="299.50" x2="613.80" y2="299.50" stroke="#000" stroke-width="1.5" stroke-linecap="butt"/>
<rect x="609.20" y="297.10" width="4.60" height="4.60" fill="#ff0000"/>
<rect x="605.70" y="302.70" width="4.60" height="4.60" fill="#ff0000"/>
<rect x="613.70" y="302.70" width="4.60" height="4.60" fill="#ff0000"/>
<line x1="642.00" y1="303.50" x2="642.00" y2="293.80" stroke="#000" stroke-width="1.5" stroke-linecap="butt"/>
<line x1="640.00" y1="303.50" x2="644.00" y2="303.50" stroke="#000" stroke-width="1.5" stroke-linecap="butt"/>
<line x1="640.00" y1="293.80" x2="644.00" y2="293.80" stroke="#000" stroke-width="1.5" stroke-linecap="butt"/>
<circle cx="641.30" cy="293.80" r="2.30" fill="#0000ff"/>
<circle cx="638.60" cy="301.70" r="2.30" fill="#0000ff"/>
<circle cx="645.90" cy="301.70" r="2.30" fill="#0000ff"/>
<line x1="659.90" y1="293.20" x2="659.90" y2="288.00" stroke="#000" stroke-width="1.5" stroke-linecap="butt"/>
<line x1="657.90" y1="293.20" x2="661.90" y2="293.20" stroke="#000" stroke-width="1.5" stroke-linecap="butt"/>
<line x1="657.90" y1="288.00" x2="661.90" y2="288.00" stroke="#000" stroke-width="1.5" stroke-linecap="butt"/>
<rect x="653.30" y="284.70" width="4.60" height="4.60" fill="#ff0000"/>
<rect x="654.00" y="290.80" width="4.60" height="4.60" fill="#ff0000"/>
<rect x="661.70" y="288.10" width="4.60" height="4.60" fill="#ff0000"/>
<text transform="translate(608.20,347.40) rotate(-45) translate(-37.56,0) scale(0.860,1.000)" font-size="20.60">RKO</text>
<text transform="translate(654.70,347.97) rotate(-45) translate(-44.09,0) scale(0.860,1.000)" font-size="20.43">DLD1</text>
<text transform="translate(548.00,371.50) rotate(-90) translate(-1.47,0)" font-size="18.50">No. of invaded cells</text>
<text transform="translate(55.20,422.10) translate(-1.25,0) scale(1.006,1.000)" font-size="15.50">RKO NC</text>
<text transform="translate(135.50,422.10) translate(-1.24,0)" font-size="15.50">RKO ETV7</text>
<text transform="translate(243.40,421.90) translate(-1.25,0) scale(1.010,1.000)" font-size="15.50">DLD1 NC</text>
<text transform="translate(328.90,421.90) translate(-1.23,0) scale(0.994,1.000)" font-size="15.50">DLD1 ETV7</text>
<text transform="translate(35.90,473.00) rotate(-90) translate(-0.69,0) scale(1.084,1.000)" font-size="16.00">0 h</text>
<text transform="translate(35.90,547.70) rotate(-90) translate(-0.33,0) scale(1.038,1.000)" font-size="16.00">48 h</text>
<circle cx="479.00" cy="401.60" r="2.00" fill="#0000ff"/>
<rect x="477.10" y="416.10" width="3.80" height="3.80" fill="#ff0000"/>
<text transform="translate(500.10,407.30) translate(-1.53,0) scale(1.198,1.000)" font-size="16.00">NC</text>
<text transform="translate(500.10,424.20) translate(-1.40,0) scale(1.092,1.000)" font-size="16.00">ETV7</text>
<text transform="translate(457.20,447.00) translate(-1.41,0) scale(1.036,1.000)" font-size="17.00"><tspan font-style="italic">P</tspan> = 0.0106</text>
<polyline points="488.90,455.70 488.90,451.00 510.50,451.00 510.50,455.70" fill="none" stroke="#000" stroke-width="1.5"/>
<text transform="translate(494.40,476.00) translate(-1.41,0) scale(1.036,1.000)" font-size="17.00"><tspan font-style="italic">P</tspan> = 0.0475</text>
<polyline points="542.00,483.50 542.00,478.70 563.90,478.70 563.90,483.50" fill="none" stroke="#000" stroke-width="1.5"/>
<line x1="475.80" y1="473.20" x2="475.80" y2="525.25" stroke="#000" stroke-width="1.5" stroke-linecap="butt"/>
<line x1="475.05" y1="524.50" x2="575.80" y2="524.50" stroke="#000" stroke-width="1.5" stroke-linecap="butt"/>
<line x1="472.80" y1="524.50" x2="475.80" y2="524.50" stroke="#000" stroke-width="1.5" stroke-linecap="butt"/>
<text transform="translate(470.80,532.18) translate(-8.74,0)" font-size="16.80">0</text>
<line x1="472.80" y1="507.57" x2="475.80" y2="507.57" stroke="#000" stroke-width="1.5" stroke-linecap="butt"/>
<text transform="translate(470.80,515.25) translate(-27.38,0)" font-size="16.80">200</text>
<line x1="472.80" y1="490.63" x2="475.80" y2="490.63" stroke="#000" stroke-width="1.5" stroke-linecap="butt"/>
<text transform="translate(470.80,498.31) translate(-27.38,0)" font-size="16.80">400</text>
<line x1="472.80" y1="473.70" x2="475.80" y2="473.70" stroke="#000" stroke-width="1.5" stroke-linecap="butt"/>
<text transform="translate(470.80,481.38) translate(-27.38,0)" font-size="16.80">600</text>
<line x1="499.40" y1="524.50" x2="499.40" y2="527.50" stroke="#000" stroke-width="1.5" stroke-linecap="butt"/>
<line x1="552.70" y1="524.50" x2="552.70" y2="527.50" stroke="#000" stroke-width="1.5" stroke-linecap="butt"/>
<rect x="483.20" y="505.40" width="12.40" height="19.10" fill="#8080ff"/>
<rect x="503.10" y="487.80" width="13.10" height="36.70" fill="#f08080"/>
<rect x="536.10" y="515.10" width="12.90" height="9.40" fill="#8080ff"/>
<rect x="556.00" y="503.40" width="12.80" height="21.10" fill="#f08080"/>
<line x1="488.90" y1="510.50" x2="488.90" y2="498.50" stroke="#000" stroke-width="1.5" stroke-linecap="butt"/>
<line x1="486.40" y1="510.50" x2="491.40" y2="510.50" stroke="#000" stroke-width="1.5" stroke-linecap="butt"/>
<line x1="486.40" y1="498.50" x2="491.40" y2="498.50" stroke="#000" stroke-width="1.5" stroke-linecap="butt"/>
<circle cx="488.90" cy="498.50" r="2.10" fill="#0000ff"/>
<circle cx="484.50" cy="508.40" r="2.10" fill="#0000ff"/>
<circle cx="493.10" cy="508.40" r="2.10" fill="#0000ff"/>
<line x1="509.30" y1="494.50" x2="509.30" y2="479.90" stroke="#000" stroke-width="1.5" stroke-linecap="butt"/>
<line x1="506.80" y1="494.50" x2="511.80" y2="494.50" stroke="#000" stroke-width="1.5" stroke-linecap="butt"/>
<line x1="506.80" y1="479.90" x2="511.80" y2="479.90" stroke="#000" stroke-width="1.5" stroke-linecap="butt"/>
<rect x="507.30" y="477.90" width="4.00" height="4.00" fill="#ff0000"/>
<rect x="507.30" y="485.30" width="4.00" height="4.00" fill="#ff0000"/>
<rect x="507.30" y="492.30" width="4.00" height="4.00" fill="#ff0000"/>
<circle cx="537.80" cy="515.80" r="2.10" fill="#0000ff"/>
<circle cx="541.50" cy="515.80" r="2.10" fill="#0000ff"/>
<circle cx="546.00" cy="515.80" r="2.10" fill="#0000ff"/>
<line x1="562.60" y1="509.00" x2="562.60" y2="496.00" stroke="#000" stroke-width="1.5" stroke-linecap="butt"/>
<line x1="560.10" y1="509.00" x2="565.10" y2="509.00" stroke="#000" stroke-width="1.5" stroke-linecap="butt"/>
<line x1="560.10" y1="496.00" x2="565.10" y2="496.00" stroke="#000" stroke-width="1.5" stroke-linecap="butt"/>
<rect x="560.60" y="494.00" width="4.00" height="4.00" fill="#ff0000"/>
<rect x="556.40" y="505.20" width="4.00" height="4.00" fill="#ff0000"/>
<rect x="564.40" y="505.20" width="4.00" height="4.00" fill="#ff0000"/>
<text transform="translate(503.00,541.31) rotate(-45) translate(-33.20,0) scale(0.860,1.000)" font-size="18.21">RKO</text>
<text transform="translate(556.40,540.30) rotate(-45) translate(-41.13,0) scale(0.860,1.000)" font-size="19.05">DLD1</text>
<text transform="translate(435.00,586.80) rotate(-90) translate(-1.39,0) scale(1.024,1.000)" font-size="17.00">Distance of migration (µm)</text>
<line x1="62.30" y1="601.20" x2="62.30" y2="699.50" stroke="#000" stroke-width="1.5" stroke-linecap="butt"/>
<line x1="61.50" y1="696.80" x2="181.50" y2="696.80" stroke="#000" stroke-width="1.5" stroke-linecap="butt"/>
<line x1="59.30" y1="696.80" x2="62.30" y2="696.80" stroke="#000" stroke-width="1.5" stroke-linecap="butt"/>
<text transform="translate(56.50,702.80) translate(-8.11,0)" font-size="15.60">0</text>
<line x1="59.30" y1="665.10" x2="62.30" y2="665.10" stroke="#000" stroke-width="1.5" stroke-linecap="butt"/>
<text transform="translate(56.50,671.10) translate(-16.85,0)" font-size="15.60">50</text>
<line x1="59.30" y1="633.40" x2="62.30" y2="633.40" stroke="#000" stroke-width="1.5" stroke-linecap="butt"/>
<text transform="translate(56.50,639.40) translate(-25.43,0)" font-size="15.60">100</text>
<line x1="59.30" y1="601.70" x2="62.30" y2="601.70" stroke="#000" stroke-width="1.5" stroke-linecap="butt"/>
<text transform="translate(56.50,607.70) translate(-25.43,0)" font-size="15.60">150</text>
<line x1="62.00" y1="696.80" x2="62.00" y2="699.80" stroke="#000" stroke-width="1.5" stroke-linecap="butt"/>
<text transform="translate(62.30,716.30) translate(-10.43,0)" font-size="15.00">0.0</text>
<line x1="101.67" y1="696.80" x2="101.67" y2="699.80" stroke="#000" stroke-width="1.5" stroke-linecap="butt"/>
<text transform="translate(101.97,716.30) translate(-10.35,0)" font-size="15.00">0.6</text>
<line x1="141.33" y1="696.80" x2="141.33" y2="699.80" stroke="#000" stroke-width="1.5" stroke-linecap="butt"/>
<text transform="translate(141.63,716.30) translate(-10.65,0)" font-size="15.00">1.2</text>
<line x1="181.00" y1="696.80" x2="181.00" y2="699.80" stroke="#000" stroke-width="1.5" stroke-linecap="butt"/>
<text transform="translate(181.30,716.30) translate(-10.65,0)" font-size="15.00">1.8</text>
<line x1="81.83" y1="696.80" x2="81.83" y2="698.50" stroke="#000" stroke-width="1.2" stroke-linecap="butt"/>
<line x1="121.50" y1="696.80" x2="121.50" y2="698.50" stroke="#000" stroke-width="1.2" stroke-linecap="butt"/>
<line x1="161.17" y1="696.80" x2="161.17" y2="698.50" stroke="#000" stroke-width="1.2" stroke-linecap="butt"/>
<text transform="translate(58.80,733.90) translate(-0.63,0) scale(1.020,1.000)" font-size="15.50">5-FU (log10C µM)</text>
<text transform="translate(27.40,686.30) rotate(-90) translate(-0.61,0) scale(0.956,1.000)" font-size="16.00">cell viability</text>
<line x1="62.3" y1="665.10" x2="175" y2="665.10" stroke="#000" stroke-width="1.3" stroke-dasharray="1.3,2.7"/>
<path d="M88.44,639.15 L89.77,639.42 L91.09,639.70 L92.41,640.00 L93.73,640.30 L95.06,640.62 L96.38,640.95 L97.70,641.29 L99.02,641.65 L100.34,642.02 L101.67,642.41 L102.99,642.80 L104.31,643.22 L105.63,643.65 L106.96,644.09 L108.28,644.55 L109.60,645.02 L110.92,645.51 L112.24,646.01 L113.57,646.53 L114.89,647.07 L116.21,647.62 L117.53,648.18 L118.86,648.77 L120.18,649.36 L121.50,649.98 L122.82,650.60 L124.14,651.25 L125.47,651.90 L126.79,652.57 L128.11,653.26 L129.43,653.95 L130.76,654.66 L132.08,655.39 L133.40,656.12 L134.72,656.86 L136.04,657.62 L137.37,658.38 L138.69,659.15 L140.01,659.93 L141.33,660.71 L142.66,661.50 L143.98,662.30 L145.30,663.10 L146.62,663.90 L147.94,664.70 L149.27,665.50 L150.59,666.30 L151.91,667.10 L153.23,667.90 L154.56,668.70 L155.88,669.49 L157.20,670.27 L158.52,671.05 L159.84,671.82 L161.17,672.58 L162.49,673.34 L163.81,674.08 L165.13,674.81 L166.46,675.54 L167.78,676.25" fill="none" stroke="#f07070" stroke-width="1.4"/>
<path d="M88.44,639.70 L89.77,640.00 L91.09,640.30 L92.41,640.62 L93.73,640.95 L95.06,641.29 L96.38,641.65 L97.70,642.02 L99.02,642.41 L100.34,642.80 L101.67,643.22 L102.99,643.65 L104.31,644.09 L105.63,644.55 L106.96,645.02 L108.28,645.51 L109.60,646.01 L110.92,646.53 L112.24,647.07 L113.57,647.62 L114.89,648.18 L116.21,648.77 L117.53,649.36 L118.86,649.98 L120.18,650.60 L121.50,651.25 L122.82,651.90 L124.14,652.57 L125.47,653.26 L126.79,653.95 L128.11,654.66 L129.43,655.39 L130.76,656.12 L132.08,656.86 L133.40,657.62 L134.72,658.38 L136.04,659.15 L137.37,659.93 L138.69,660.71 L140.01,661.50 L141.33,662.30 L142.66,663.10 L143.98,663.90 L145.30,664.70 L146.62,665.50 L147.94,666.30 L149.27,667.10 L150.59,667.90 L151.91,668.70 L153.23,669.49 L154.56,670.27 L155.88,671.05 L157.20,671.82 L158.52,672.58 L159.84,673.34 L161.17,674.08 L162.49,674.81 L163.81,675.54 L165.13,676.25 L166.46,676.94 L167.78,677.63" fill="none" stroke="#333333" stroke-width="1.1"/>
<rect x="86.54" y="637.21" width="3.80" height="3.80" fill="#606060"/>
<rect x="106.38" y="641.64" width="3.80" height="3.80" fill="#606060"/>
<rect x="126.21" y="653.06" width="3.80" height="3.80" fill="#606060"/>
<rect x="146.04" y="661.93" width="3.80" height="3.80" fill="#606060"/>
<rect x="165.88" y="677.15" width="3.80" height="3.80" fill="#606060"/>
<rect x="86.94" y="639.51" width="3.00" height="3.00" fill="#f06060"/>
<rect x="106.78" y="642.04" width="3.00" height="3.00" fill="#f06060"/>
<rect x="126.61" y="652.19" width="3.00" height="3.00" fill="#f06060"/>
<rect x="146.44" y="660.43" width="3.00" height="3.00" fill="#f06060"/>
<rect x="166.28" y="676.91" width="3.00" height="3.00" fill="#f06060"/>
<rect x="86.64" y="637.31" width="3.60" height="3.60" fill="#606060"/>
<rect x="126.31" y="654.42" width="3.60" height="3.60" fill="#606060"/>
<text transform="translate(141.50,660.00) translate(-0.83,0) scale(1.068,1.000)" font-size="15.50">20.36</text>
<text transform="translate(103.60,680.20) translate(-1.29,0) scale(1.041,1.000)" font-size="15.50">18.58</text>
<text transform="translate(65.50,694.10) translate(-1.34,0) scale(1.114,1.000)" font-size="15.00">RKO</text>
<line x1="71.20" y1="600.60" x2="88.30" y2="600.60" stroke="#555555" stroke-width="1.4" stroke-linecap="butt"/>
<circle cx="79.70" cy="600.60" r="1.80" fill="#555555"/>
<line x1="71.20" y1="617.80" x2="88.30" y2="617.80" stroke="#f39090" stroke-width="1.4" stroke-linecap="butt"/>
<rect x="78.10" y="616.20" width="3.20" height="3.20" fill="#f05050"/>
<text transform="translate(99.00,605.90) translate(-1.36,0) scale(1.100,1.000)" font-size="15.50">NC</text>
<text transform="translate(99.00,623.10) translate(-1.30,0) scale(1.051,1.000)" font-size="15.50">ETV7</text>
<line x1="565.80" y1="636.90" x2="565.80" y2="700.20" stroke="#000" stroke-width="1.5" stroke-linecap="butt"/>
<line x1="565.00" y1="697.40" x2="657.20" y2="697.40" stroke="#000" stroke-width="1.5" stroke-linecap="butt"/>
<line x1="562.80" y1="697.40" x2="565.80" y2="697.40" stroke="#000" stroke-width="1.5" stroke-linecap="butt"/>
<text transform="translate(562.00,703.20) translate(-23.19,0) scale(1.145,1.000)" font-size="15.00">0.0</text>
<line x1="562.80" y1="677.40" x2="565.80" y2="677.40" stroke="#000" stroke-width="1.5" stroke-linecap="butt"/>
<text transform="translate(562.00,683.20) translate(-23.19,0) scale(1.154,1.000)" font-size="15.00">0.5</text>
<line x1="562.80" y1="657.40" x2="565.80" y2="657.40" stroke="#000" stroke-width="1.5" stroke-linecap="butt"/>
<text transform="translate(562.00,663.20) translate(-23.92,0) scale(1.181,1.000)" font-size="15.00">1.0</text>
<line x1="562.80" y1="637.40" x2="565.80" y2="637.40" stroke="#000" stroke-width="1.5" stroke-linecap="butt"/>
<text transform="translate(562.00,643.20) translate(-23.93,0) scale(1.190,1.000)" font-size="15.00">1.5</text>
<line x1="566.40" y1="697.40" x2="566.40" y2="700.40" stroke="#000" stroke-width="1.5" stroke-linecap="butt"/>
<line x1="584.46" y1="697.40" x2="584.46" y2="700.40" stroke="#000" stroke-width="1.5" stroke-linecap="butt"/>
<line x1="602.52" y1="697.40" x2="602.52" y2="700.40" stroke="#000" stroke-width="1.5" stroke-linecap="butt"/>
<line x1="620.58" y1="697.40" x2="620.58" y2="700.40" stroke="#000" stroke-width="1.5" stroke-linecap="butt"/>
<line x1="638.64" y1="697.40" x2="638.64" y2="700.40" stroke="#000" stroke-width="1.5" stroke-linecap="butt"/>
<line x1="656.70" y1="697.40" x2="656.70" y2="700.40" stroke="#000" stroke-width="1.5" stroke-linecap="butt"/>
<text transform="translate(562.20,716.80) translate(-0.58,0) scale(0.958,1.000)" font-size="15.00">0</text>
<text transform="translate(580.60,716.80) translate(-0.29,0) scale(0.954,1.000)" font-size="15.00">4</text>
<text transform="translate(598.60,716.80) translate(-0.62,0) scale(1.035,1.000)" font-size="15.00">8</text>
<text transform="translate(612.20,716.80) translate(-1.29,0) scale(1.072,1.000)" font-size="15.00">121620</text>
<text transform="translate(571.90,731.40) translate(-0.31,0) scale(1.014,1.000)" font-size="15.50">Time (days)</text>
<text transform="translate(553.10,615.00) translate(-0.81,0) scale(1.082,1.000)" font-size="15.00">+ 5-FU</text>
<text transform="translate(533.60,738.30) rotate(-90) translate(-0.32,0) scale(0.963,1.000)" font-size="16.40">Tumor Volume (cm</text>
<text transform="translate(525.60,605.90) rotate(-90) translate(-0.51,0) scale(1.110,1.000)" font-size="11.50">3</text>
<text transform="translate(533.60,599.30) rotate(-90) translate(-0.15,0) scale(0.938,1.000)" font-size="16.40">)</text>
<polyline points="584.46,697.40 602.52,697.00 620.58,695.60 638.64,692.20 656.70,683.00" fill="none" stroke="#2020f0" stroke-width="1.6" stroke-linejoin="round"/>
<polyline points="584.46,696.60 602.52,695.40 620.58,689.40 638.64,679.00 656.70,658.20" fill="none" stroke="#f03030" stroke-width="1.6" stroke-linejoin="round"/>
<polygon points="584.46,694.88 582.15,699.29 586.77,699.29" fill="#2020f0"/>
<polygon points="602.52,694.48 600.21,698.89 604.83,698.89" fill="#2020f0"/>
<polygon points="620.58,693.08 618.27,697.49 622.89,697.49" fill="#2020f0"/>
<polygon points="638.64,689.68 636.33,694.09 640.95,694.09" fill="#2020f0"/>
<line x1="656.70" y1="688.20" x2="656.70" y2="677.80" stroke="#2020f0" stroke-width="1.5" stroke-linecap="butt"/>
<line x1="654.20" y1="688.20" x2="659.20" y2="688.20" stroke="#2020f0" stroke-width="1.5" stroke-linecap="butt"/>
<line x1="654.20" y1="677.80" x2="659.20" y2="677.80" stroke="#2020f0" stroke-width="1.5" stroke-linecap="butt"/>
<polygon points="656.70,680.48 654.39,684.89 659.01,684.89" fill="#2020f0"/>
<rect x="582.36" y="694.50" width="4.20" height="4.20" fill="#f03030"/>
<rect x="600.42" y="693.30" width="4.20" height="4.20" fill="#f03030"/>
<rect x="618.48" y="687.30" width="4.20" height="4.20" fill="#f03030"/>
<line x1="638.64" y1="683.00" x2="638.64" y2="675.00" stroke="#f03030" stroke-width="1.5" stroke-linecap="butt"/>
<line x1="636.14" y1="683.00" x2="641.14" y2="683.00" stroke="#f03030" stroke-width="1.5" stroke-linecap="butt"/>
<line x1="636.14" y1="675.00" x2="641.14" y2="675.00" stroke="#f03030" stroke-width="1.5" stroke-linecap="butt"/>
<rect x="636.54" y="676.90" width="4.20" height="4.20" fill="#f03030"/>
<line x1="656.70" y1="668.60" x2="656.70" y2="647.80" stroke="#f03030" stroke-width="1.5" stroke-linecap="butt"/>
<line x1="654.20" y1="668.60" x2="659.20" y2="668.60" stroke="#f03030" stroke-width="1.5" stroke-linecap="butt"/>
<line x1="654.20" y1="647.80" x2="659.20" y2="647.80" stroke="#f03030" stroke-width="1.5" stroke-linecap="butt"/>
<rect x="654.60" y="656.10" width="4.20" height="4.20" fill="#f03030"/>
<line x1="570.00" y1="634.80" x2="587.70" y2="634.80" stroke="#2020f0" stroke-width="1.6" stroke-linecap="butt"/>
<polygon points="578.90,632.28 576.59,636.69 581.21,636.69" fill="#2020f0"/>
<line x1="570.00" y1="652.90" x2="587.70" y2="652.90" stroke="#f03030" stroke-width="1.6" stroke-linecap="butt"/>
<rect x="576.80" y="650.80" width="4.20" height="4.20" fill="#f03030"/>
<text transform="translate(598.70,639.80) translate(-1.36,0) scale(1.095,1.000)" font-size="15.50">NC</text>
<text transform="translate(598.70,658.00) translate(-1.31,0) scale(1.059,1.000)" font-size="15.50">ETV7</text>
<text transform="translate(669.50,625.50) rotate(90) translate(-1.28,0)" font-size="16.00"><tspan font-style="italic">P</tspan> = 0.0093</text>
<polyline points="661.30,658.80 665.50,658.80 665.50,682.50 661.30,682.50" fill="none" stroke="#000" stroke-width="1.5"/>
<line x1="95.80" y1="798.90" x2="95.80" y2="849.00" stroke="#000" stroke-width="1.5" stroke-linecap="butt"/>
<line x1="95.00" y1="846.20" x2="162.00" y2="846.20" stroke="#000" stroke-width="1.5" stroke-linecap="butt"/>
<line x1="92.80" y1="846.20" x2="95.80" y2="846.20" stroke="#000" stroke-width="1.5" stroke-linecap="butt"/>
<text transform="translate(91.20,853.00) translate(-25.25,0) scale(1.169,1.000)" font-size="16.00">0.0</text>
<line x1="92.80" y1="830.60" x2="95.80" y2="830.60" stroke="#000" stroke-width="1.5" stroke-linecap="butt"/>
<text transform="translate(91.20,837.40) translate(-25.25,0) scale(1.178,1.000)" font-size="16.00">0.2</text>
<line x1="92.80" y1="815.00" x2="95.80" y2="815.00" stroke="#000" stroke-width="1.5" stroke-linecap="butt"/>
<text transform="translate(91.20,821.80) translate(-25.24,0) scale(1.160,1.000)" font-size="16.00">0.4</text>
<line x1="92.80" y1="799.40" x2="95.80" y2="799.40" stroke="#000" stroke-width="1.5" stroke-linecap="butt"/>
<text transform="translate(91.20,806.20) translate(-25.25,0) scale(1.178,1.000)" font-size="16.00">0.6</text>
<line x1="117.00" y1="846.20" x2="117.00" y2="849.20" stroke="#000" stroke-width="1.5" stroke-linecap="butt"/>
<line x1="150.20" y1="846.20" x2="150.20" y2="849.20" stroke="#000" stroke-width="1.5" stroke-linecap="butt"/>
<text transform="translate(82.80,772.60) translate(-0.85,0) scale(1.128,1.000)" font-size="15.00">+ 5-FU</text>
<text transform="translate(91.40,795.00) translate(-1.39,0) scale(1.053,1.000)" font-size="16.50"><tspan font-style="italic">P</tspan> = 0.0031</text>
<polyline points="116.00,802.50 116.00,797.30 150.20,797.30 150.20,802.50" fill="none" stroke="#000" stroke-width="1.5"/>
<text transform="translate(60.20,884.30) rotate(-90) translate(-0.32,0) scale(0.974,1.000)" font-size="16.50">Tumor weight (g)</text>
<line x1="106.80" y1="831.80" x2="127.70" y2="831.80" stroke="#000" stroke-width="1.8" stroke-linecap="butt"/>
<line x1="117.00" y1="836.40" x2="117.00" y2="827.70" stroke="#000" stroke-width="1.5" stroke-linecap="butt"/>
<line x1="112.50" y1="836.40" x2="121.50" y2="836.40" stroke="#000" stroke-width="1.5" stroke-linecap="butt"/>
<line x1="112.50" y1="827.70" x2="121.50" y2="827.70" stroke="#000" stroke-width="1.5" stroke-linecap="butt"/>
<circle cx="114.40" cy="826.20" r="2.60" fill="#3030f0"/>
<circle cx="120.00" cy="824.60" r="2.60" fill="#3030f0"/>
<circle cx="114.40" cy="833.30" r="2.60" fill="#3030f0"/>
<circle cx="109.30" cy="835.90" r="2.60" fill="#3030f0"/>
<circle cx="119.50" cy="836.40" r="2.60" fill="#3030f0"/>
<circle cx="125.70" cy="834.30" r="2.60" fill="#3030f0"/>
<line x1="142.00" y1="819.00" x2="157.80" y2="819.00" stroke="#000" stroke-width="1.8" stroke-linecap="butt"/>
<line x1="150.20" y1="825.70" x2="150.20" y2="812.60" stroke="#000" stroke-width="1.5" stroke-linecap="butt"/>
<line x1="145.70" y1="825.70" x2="154.70" y2="825.70" stroke="#000" stroke-width="1.5" stroke-linecap="butt"/>
<line x1="145.70" y1="812.60" x2="154.70" y2="812.60" stroke="#000" stroke-width="1.5" stroke-linecap="butt"/>
<rect x="147.00" y="805.60" width="5.40" height="5.40" fill="#f03030"/>
<rect x="147.00" y="812.70" width="5.40" height="5.40" fill="#f03030"/>
<rect x="139.30" y="816.30" width="5.40" height="5.40" fill="#f03030"/>
<rect x="155.10" y="816.30" width="5.40" height="5.40" fill="#f03030"/>
<rect x="143.40" y="823.50" width="5.40" height="5.40" fill="#f03030"/>
<rect x="151.10" y="822.40" width="5.40" height="5.40" fill="#f03030"/>
<line x1="142.00" y1="819.00" x2="157.80" y2="819.00" stroke="#000" stroke-width="1.6" stroke-linecap="butt"/>
<line x1="150.20" y1="812.60" x2="150.20" y2="825.70" stroke="#000" stroke-width="1.6" stroke-linecap="butt"/>
<line x1="145.50" y1="812.60" x2="154.80" y2="812.60" stroke="#000" stroke-width="1.6" stroke-linecap="butt"/>
<text transform="translate(121.10,862.88) rotate(-45) translate(-21.11,0) scale(0.860,1.000)" font-size="17.53">NC</text>
<text transform="translate(152.00,860.93) rotate(-45) translate(-39.43,0) scale(0.860,1.000)" font-size="18.71">ETV7</text>
<rect x="566.80" y="827.20" width="12.60" height="17.60" fill="#8080ff" stroke="#0000ff" stroke-width="1.8"/>
<rect x="589.10" y="812.80" width="12.40" height="32.00" fill="#f08080" stroke="#ff0000" stroke-width="1.8"/>
<line x1="558.70" y1="799.30" x2="558.70" y2="847.60" stroke="#000" stroke-width="1.5" stroke-linecap="butt"/>
<line x1="557.90" y1="844.80" x2="610.70" y2="844.80" stroke="#000" stroke-width="1.5" stroke-linecap="butt"/>
<line x1="555.70" y1="844.80" x2="558.70" y2="844.80" stroke="#000" stroke-width="1.5" stroke-linecap="butt"/>
<text transform="translate(552.90,851.10) translate(-8.06,0)" font-size="15.50">0</text>
<line x1="555.70" y1="829.80" x2="558.70" y2="829.80" stroke="#000" stroke-width="1.5" stroke-linecap="butt"/>
<text transform="translate(552.90,836.10) translate(-16.74,0)" font-size="15.50">10</text>
<line x1="555.70" y1="814.80" x2="558.70" y2="814.80" stroke="#000" stroke-width="1.5" stroke-linecap="butt"/>
<text transform="translate(552.90,821.10) translate(-16.74,0)" font-size="15.50">20</text>
<line x1="555.70" y1="799.80" x2="558.70" y2="799.80" stroke="#000" stroke-width="1.5" stroke-linecap="butt"/>
<text transform="translate(552.90,806.10) translate(-16.74,0)" font-size="15.50">30</text>
<line x1="573.10" y1="844.80" x2="573.10" y2="847.80" stroke="#000" stroke-width="1.5" stroke-linecap="butt"/>
<line x1="595.00" y1="844.80" x2="595.00" y2="847.80" stroke="#000" stroke-width="1.5" stroke-linecap="butt"/>
<text transform="translate(531.90,788.90) translate(-1.34,0) scale(1.047,1.000)" font-size="16.00"><tspan font-style="italic">P</tspan> = 0.0004</text>
<polyline points="572.20,796.10 572.20,792.10 596.20,792.10 596.20,796.10" fill="none" stroke="#000" stroke-width="1.5"/>
<line x1="573.10" y1="830.00" x2="573.10" y2="822.20" stroke="#000" stroke-width="1.5" stroke-linecap="butt"/>
<line x1="570.10" y1="830.00" x2="576.10" y2="830.00" stroke="#000" stroke-width="1.5" stroke-linecap="butt"/>
<line x1="570.10" y1="822.20" x2="576.10" y2="822.20" stroke="#000" stroke-width="1.5" stroke-linecap="butt"/>
<circle cx="566.70" cy="822.30" r="2.00" fill="#0000ff"/>
<circle cx="579.00" cy="820.30" r="2.00" fill="#0000ff"/>
<circle cx="572.00" cy="824.00" r="2.00" fill="#0000ff"/>
<circle cx="568.50" cy="828.50" r="2.00" fill="#0000ff"/>
<circle cx="578.00" cy="826.00" r="2.00" fill="#0000ff"/>
<circle cx="574.00" cy="831.00" r="2.00" fill="#0000ff"/>
<line x1="595.20" y1="816.00" x2="595.20" y2="807.70" stroke="#000" stroke-width="1.5" stroke-linecap="butt"/>
<line x1="592.20" y1="816.00" x2="598.20" y2="816.00" stroke="#000" stroke-width="1.5" stroke-linecap="butt"/>
<line x1="592.20" y1="807.70" x2="598.20" y2="807.70" stroke="#000" stroke-width="1.5" stroke-linecap="butt"/>
<rect x="593.30" y="800.60" width="3.80" height="3.80" fill="#ff0000"/>
<rect x="590.10" y="806.10" width="3.80" height="3.80" fill="#ff0000"/>
<rect x="596.60" y="807.10" width="3.80" height="3.80" fill="#ff0000"/>
<rect x="588.60" y="810.60" width="3.80" height="3.80" fill="#ff0000"/>
<rect x="598.60" y="809.10" width="3.80" height="3.80" fill="#ff0000"/>
<rect x="592.10" y="813.10" width="3.80" height="3.80" fill="#ff0000"/>
<rect x="597.10" y="814.60" width="3.80" height="3.80" fill="#ff0000"/>
<rect x="589.60" y="816.10" width="3.80" height="3.80" fill="#ff0000"/>
<rect x="594.60" y="817.60" width="3.80" height="3.80" fill="#ff0000"/>
<text transform="translate(576.70,859.40) rotate(-45) translate(-21.15,0) scale(0.860,1.000)" font-size="17.57">NC</text>
<text transform="translate(596.90,858.20) rotate(-45) translate(-38.01,0) scale(0.860,1.000)" font-size="18.04">ETV7</text>
<text transform="translate(532.50,866.40) rotate(-90) translate(-1.38,0) scale(1.111,1.000)" font-size="15.50">Ki-67 (%)</text>
<line x1="265.00" y1="630.70" x2="265.00" y2="675.60" stroke="#333" stroke-width="1.7" stroke-linecap="butt"/>
<text transform="translate(261.60,673.00) rotate(-90) translate(-0.66,0) scale(0.949,1.000)" font-size="14.00">+ 5-FU</text>
<text transform="translate(280.00,643.80) translate(-1.09,0) scale(1.010,1.000)" font-size="13.50">NC</text>
<text transform="translate(268.00,671.90) translate(-1.07,0) scale(0.991,1.000)" font-size="13.50">ETV7</text>
<text transform="translate(301.20,734.00) translate(-1.25,0)" font-size="15.60">HE (X400)</text>
<text transform="translate(392.20,734.00) translate(-1.25,0)" font-size="15.60">Ki-67 (X400)</text>
<line x1="268.00" y1="740.80" x2="268.00" y2="873.70" stroke="#111" stroke-width="1.7" stroke-linecap="butt"/>
<text transform="translate(265.30,830.30) rotate(-90) translate(-0.78,0) scale(1.008,1.000)" font-size="15.50">+ 5-FU</text>
<text transform="translate(282.50,781.50) rotate(-90) translate(-1.26,0) scale(1.017,1.000)" font-size="15.50">NC</text>
<text transform="translate(282.50,862.00) rotate(-90) translate(-1.22,0) scale(0.985,1.000)" font-size="15.50">ETV7</text>
</svg></body></html>
